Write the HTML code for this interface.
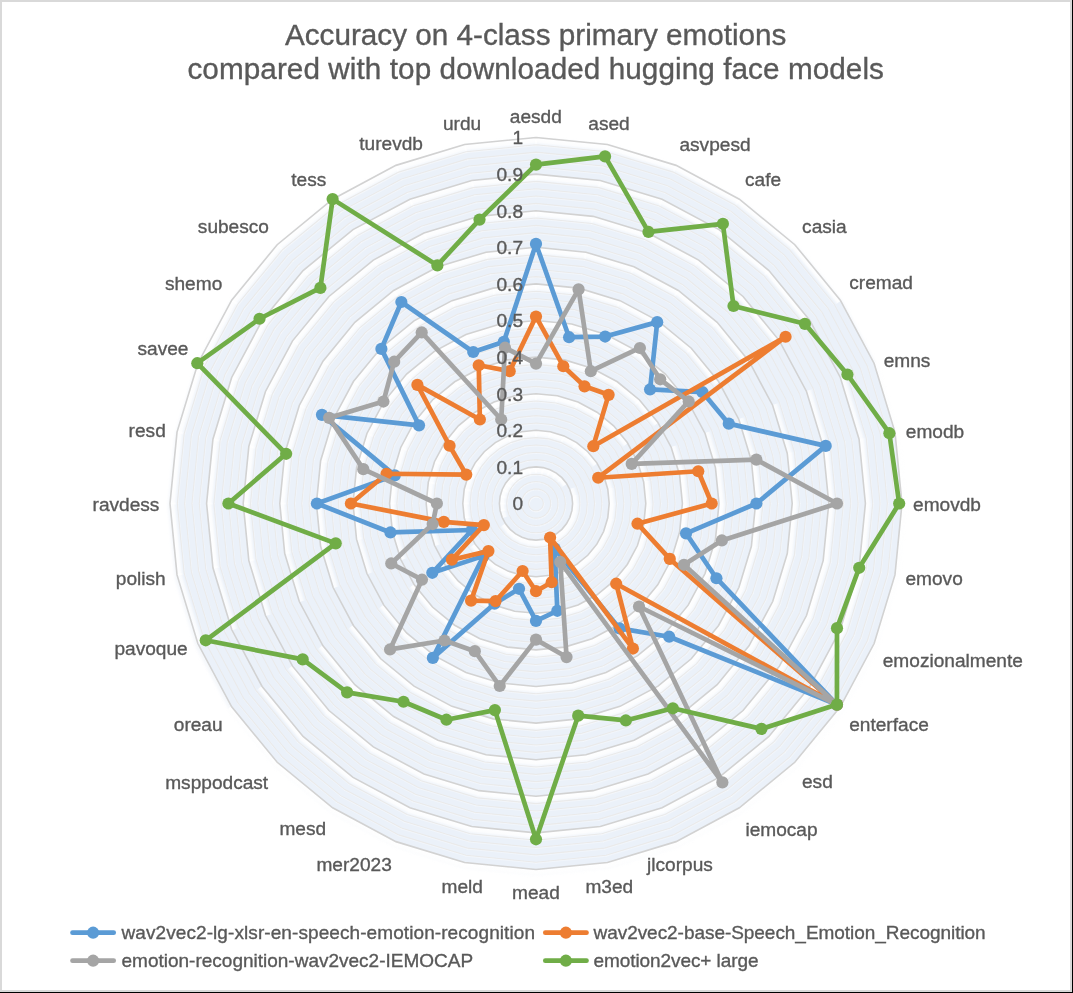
<!DOCTYPE html>
<html><head><meta charset="utf-8"><style>
html,body{margin:0;padding:0;background:#000;}
body{width:1073px;height:993px;overflow:hidden;position:relative;}
#frame{position:absolute;left:0;top:0;width:1072px;height:992px;box-sizing:border-box;border:2px solid #d9d9d9;background:#fff;}
svg{position:absolute;left:0;top:0;will-change:transform;}
text{font-family:"Liberation Sans",sans-serif;fill:#595959;stroke:#595959;stroke-width:0.35px;}
</style></head><body><div id="frame"></div>
<svg width="1073" height="993" viewBox="0 0 1073 993">
<defs>
<filter id="bl" x="-5%" y="-5%" width="110%" height="110%"><feGaussianBlur stdDeviation="1.8"/></filter>
<filter id="bm" x="-5%" y="-5%" width="110%" height="110%"><feGaussianBlur stdDeviation="0.5"/></filter>
<linearGradient id="hl" x1="0" y1="0" x2="0" y2="1"><stop offset="0" stop-color="#fff" stop-opacity="1"/><stop offset="0.5" stop-color="#fff" stop-opacity="0.85"/><stop offset="1" stop-color="#fff" stop-opacity="0"/></linearGradient>
<linearGradient id="hm" x1="0" y1="0" x2="0" y2="1"><stop offset="0" stop-color="#fff" stop-opacity="0.6"/><stop offset="1" stop-color="#fff" stop-opacity="0"/></linearGradient>
</defs>
<g transform="translate(0.5,3)" filter="url(#bl)"><polygon points="536,137.5 607.4,144.53 676.06,165.36 739.34,199.18 794.8,244.7 840.32,300.16 874.14,363.44 894.97,432.1 902,503.5 894.97,574.9 874.14,643.56 840.32,706.84 794.8,762.3 739.34,807.82 676.06,841.64 607.4,862.47 536,869.5 464.6,862.47 395.94,841.64 332.66,807.82 277.2,762.3 231.68,706.84 197.86,643.56 177.03,574.9 170,503.5 177.03,432.1 197.86,363.44 231.68,300.16 277.2,244.7 332.66,199.18 395.94,165.36 464.6,144.53" fill="none" stroke="#e6edf7" stroke-opacity="0.45" stroke-width="5"/></g>
<polygon points="536,137.5 607.4,144.53 676.06,165.36 739.34,199.18 794.8,244.7 840.32,300.16 874.14,363.44 894.97,432.1 902,503.5 894.97,574.9 874.14,643.56 840.32,706.84 794.8,762.3 739.34,807.82 676.06,841.64 607.4,862.47 536,869.5 464.6,862.47 395.94,841.64 332.66,807.82 277.2,762.3 231.68,706.84 197.86,643.56 177.03,574.9 170,503.5 177.03,432.1 197.86,363.44 231.68,300.16 277.2,244.7 332.66,199.18 395.94,165.36 464.6,144.53" fill="#ebf1f9"/>
<g fill="url(#hm)">
<rect width="2.63" height="2.05" transform="matrix(0.995 0.098 -0.098 0.995 535.4 496.12)"/>
<rect width="2.63" height="1.93" transform="matrix(0.957 0.290 -0.290 0.957 536.85 496.15)"/>
<rect width="2.63" height="1.78" transform="matrix(0.882 0.471 -0.471 0.882 538.27 496.45)"/>
<rect width="2.63" height="1.61" transform="matrix(0.773 0.634 -0.634 0.773 539.6 497.03)"/>
<rect width="2.63" height="1.42" transform="matrix(0.634 0.773 -0.773 0.634 540.8 497.86)"/>
<rect width="2.63" height="1.23" opacity="0.04" transform="matrix(0.471 0.882 -0.882 0.471 541.8 498.9)"/>
<rect width="2.63" height="1.37" opacity="0.86" transform="matrix(0.290 0.957 0.957 -0.290 542.59 500.12)"/>
<rect width="2.63" height="1.56" transform="matrix(0.098 0.995 0.995 -0.098 543.12 501.47)"/>
<rect width="2.63" height="1.73" transform="matrix(-0.098 0.995 0.995 0.098 543.38 502.9)"/>
<rect width="2.63" height="1.89" transform="matrix(-0.290 0.957 0.957 0.290 543.35 504.35)"/>
<rect width="2.63" height="2.02" transform="matrix(-0.471 0.882 0.882 0.471 543.05 505.77)"/>
<rect width="2.63" height="2.11" transform="matrix(-0.634 0.773 0.773 0.634 542.47 507.1)"/>
<rect width="2.63" height="2.18" transform="matrix(-0.773 0.634 0.634 0.773 541.64 508.3)"/>
<rect width="2.63" height="2.2" transform="matrix(-0.882 0.471 0.471 0.882 540.6 509.3)"/>
<rect width="2.63" height="2.19" transform="matrix(-0.957 0.290 0.290 0.957 539.38 510.09)"/>
<rect width="2.63" height="2.13" transform="matrix(-0.995 0.098 0.098 0.995 538.03 510.62)"/>
<rect width="2.63" height="2.05" transform="matrix(-0.995 -0.098 -0.098 0.995 536.6 510.88)"/>
<rect width="2.63" height="1.93" transform="matrix(-0.957 -0.290 -0.290 0.957 535.15 510.85)"/>
<rect width="2.63" height="1.78" transform="matrix(-0.882 -0.471 -0.471 0.882 533.73 510.55)"/>
<rect width="2.63" height="1.61" transform="matrix(-0.773 -0.634 -0.634 0.773 532.4 509.97)"/>
<rect width="2.63" height="1.42" transform="matrix(-0.634 -0.773 -0.773 0.634 531.2 509.14)"/>
<rect width="2.63" height="1.23" opacity="0.04" transform="matrix(-0.471 -0.882 -0.882 0.471 530.2 508.1)"/>
<rect width="2.63" height="1.37" opacity="0.86" transform="matrix(-0.290 -0.957 0.957 -0.290 529.41 506.88)"/>
<rect width="2.63" height="1.56" transform="matrix(-0.098 -0.995 0.995 -0.098 528.88 505.53)"/>
<rect width="2.63" height="1.73" transform="matrix(0.098 -0.995 0.995 0.098 528.62 504.1)"/>
<rect width="2.63" height="1.89" transform="matrix(0.290 -0.957 0.957 0.290 528.65 502.65)"/>
<rect width="2.63" height="2.02" transform="matrix(0.471 -0.882 0.882 0.471 528.95 501.23)"/>
<rect width="2.63" height="2.11" transform="matrix(0.634 -0.773 0.773 0.634 529.53 499.9)"/>
<rect width="2.63" height="2.18" transform="matrix(0.773 -0.634 0.634 0.773 530.36 498.7)"/>
<rect width="2.63" height="2.2" transform="matrix(0.882 -0.471 0.471 0.882 531.4 497.7)"/>
<rect width="2.63" height="2.19" transform="matrix(0.957 -0.290 0.290 0.957 532.62 496.91)"/>
<rect width="2.63" height="2.13" transform="matrix(0.995 -0.098 0.098 0.995 533.97 496.38)"/>
<rect width="4.07" height="2.05" transform="matrix(0.995 0.098 -0.098 0.995 535.4 488.8)"/>
<rect width="4.07" height="1.93" transform="matrix(0.957 0.290 -0.290 0.957 538.28 488.97)"/>
<rect width="4.07" height="1.78" transform="matrix(0.882 0.471 -0.471 0.882 541.07 489.69)"/>
<rect width="4.07" height="1.61" transform="matrix(0.773 0.634 -0.634 0.773 543.67 490.95)"/>
<rect width="4.07" height="1.42" transform="matrix(0.634 0.773 -0.773 0.634 545.97 492.68)"/>
<rect width="4.07" height="1.23" opacity="0.04" transform="matrix(0.471 0.882 -0.882 0.471 547.89 494.84)"/>
<rect width="4.07" height="1.37" opacity="0.86" transform="matrix(0.290 0.957 0.957 -0.290 549.35 497.32)"/>
<rect width="4.07" height="1.56" transform="matrix(0.098 0.995 0.995 -0.098 550.3 500.05)"/>
<rect width="4.07" height="1.73" transform="matrix(-0.098 0.995 0.995 0.098 550.7 502.9)"/>
<rect width="4.07" height="1.89" transform="matrix(-0.290 0.957 0.957 0.290 550.53 505.78)"/>
<rect width="4.07" height="2.02" transform="matrix(-0.471 0.882 0.882 0.471 549.81 508.57)"/>
<rect width="4.07" height="2.11" transform="matrix(-0.634 0.773 0.773 0.634 548.55 511.17)"/>
<rect width="4.07" height="2.18" transform="matrix(-0.773 0.634 0.634 0.773 546.82 513.47)"/>
<rect width="4.07" height="2.2" transform="matrix(-0.882 0.471 0.471 0.882 544.66 515.39)"/>
<rect width="4.07" height="2.19" transform="matrix(-0.957 0.290 0.290 0.957 542.18 516.85)"/>
<rect width="4.07" height="2.13" transform="matrix(-0.995 0.098 0.098 0.995 539.45 517.8)"/>
<rect width="4.07" height="2.05" transform="matrix(-0.995 -0.098 -0.098 0.995 536.6 518.2)"/>
<rect width="4.07" height="1.93" transform="matrix(-0.957 -0.290 -0.290 0.957 533.72 518.03)"/>
<rect width="4.07" height="1.78" transform="matrix(-0.882 -0.471 -0.471 0.882 530.93 517.31)"/>
<rect width="4.07" height="1.61" transform="matrix(-0.773 -0.634 -0.634 0.773 528.33 516.05)"/>
<rect width="4.07" height="1.42" transform="matrix(-0.634 -0.773 -0.773 0.634 526.03 514.32)"/>
<rect width="4.07" height="1.23" opacity="0.04" transform="matrix(-0.471 -0.882 -0.882 0.471 524.11 512.16)"/>
<rect width="4.07" height="1.37" opacity="0.86" transform="matrix(-0.290 -0.957 0.957 -0.290 522.65 509.68)"/>
<rect width="4.07" height="1.56" transform="matrix(-0.098 -0.995 0.995 -0.098 521.7 506.95)"/>
<rect width="4.07" height="1.73" transform="matrix(0.098 -0.995 0.995 0.098 521.3 504.1)"/>
<rect width="4.07" height="1.89" transform="matrix(0.290 -0.957 0.957 0.290 521.47 501.22)"/>
<rect width="4.07" height="2.02" transform="matrix(0.471 -0.882 0.882 0.471 522.19 498.43)"/>
<rect width="4.07" height="2.11" transform="matrix(0.634 -0.773 0.773 0.634 523.45 495.83)"/>
<rect width="4.07" height="2.18" transform="matrix(0.773 -0.634 0.634 0.773 525.18 493.53)"/>
<rect width="4.07" height="2.2" transform="matrix(0.882 -0.471 0.471 0.882 527.34 491.61)"/>
<rect width="4.07" height="2.19" transform="matrix(0.957 -0.290 0.290 0.957 529.82 490.15)"/>
<rect width="4.07" height="2.13" transform="matrix(0.995 -0.098 0.098 0.995 532.55 489.2)"/>
<rect width="5.5" height="2.05" transform="matrix(0.995 0.098 -0.098 0.995 535.4 481.48)"/>
<rect width="5.5" height="1.93" transform="matrix(0.957 0.290 -0.290 0.957 539.71 481.79)"/>
<rect width="5.5" height="1.78" transform="matrix(0.882 0.471 -0.471 0.882 543.87 482.93)"/>
<rect width="5.5" height="1.61" transform="matrix(0.773 0.634 -0.634 0.773 547.74 484.86)"/>
<rect width="5.5" height="1.42" transform="matrix(0.634 0.773 -0.773 0.634 551.15 487.51)"/>
<rect width="5.5" height="1.23" opacity="0.04" transform="matrix(0.471 0.882 -0.882 0.471 553.98 490.77)"/>
<rect width="5.5" height="1.37" opacity="0.86" transform="matrix(0.290 0.957 0.957 -0.290 556.11 494.52)"/>
<rect width="5.5" height="1.56" transform="matrix(0.098 0.995 0.995 -0.098 557.48 498.62)"/>
<rect width="5.5" height="1.73" transform="matrix(-0.098 0.995 0.995 0.098 558.02 502.9)"/>
<rect width="5.5" height="1.89" transform="matrix(-0.290 0.957 0.957 0.290 557.71 507.21)"/>
<rect width="5.5" height="2.02" transform="matrix(-0.471 0.882 0.882 0.471 556.57 511.37)"/>
<rect width="5.5" height="2.11" transform="matrix(-0.634 0.773 0.773 0.634 554.64 515.24)"/>
<rect width="5.5" height="2.18" transform="matrix(-0.773 0.634 0.634 0.773 551.99 518.65)"/>
<rect width="5.5" height="2.2" transform="matrix(-0.882 0.471 0.471 0.882 548.73 521.48)"/>
<rect width="5.5" height="2.19" transform="matrix(-0.957 0.290 0.290 0.957 544.98 523.61)"/>
<rect width="5.5" height="2.13" transform="matrix(-0.995 0.098 0.098 0.995 540.88 524.98)"/>
<rect width="5.5" height="2.05" transform="matrix(-0.995 -0.098 -0.098 0.995 536.6 525.52)"/>
<rect width="5.5" height="1.93" transform="matrix(-0.957 -0.290 -0.290 0.957 532.29 525.21)"/>
<rect width="5.5" height="1.78" transform="matrix(-0.882 -0.471 -0.471 0.882 528.13 524.07)"/>
<rect width="5.5" height="1.61" transform="matrix(-0.773 -0.634 -0.634 0.773 524.26 522.14)"/>
<rect width="5.5" height="1.42" transform="matrix(-0.634 -0.773 -0.773 0.634 520.85 519.49)"/>
<rect width="5.5" height="1.23" opacity="0.04" transform="matrix(-0.471 -0.882 -0.882 0.471 518.02 516.23)"/>
<rect width="5.5" height="1.37" opacity="0.86" transform="matrix(-0.290 -0.957 0.957 -0.290 515.89 512.48)"/>
<rect width="5.5" height="1.56" transform="matrix(-0.098 -0.995 0.995 -0.098 514.52 508.38)"/>
<rect width="5.5" height="1.73" transform="matrix(0.098 -0.995 0.995 0.098 513.98 504.1)"/>
<rect width="5.5" height="1.89" transform="matrix(0.290 -0.957 0.957 0.290 514.29 499.79)"/>
<rect width="5.5" height="2.02" transform="matrix(0.471 -0.882 0.882 0.471 515.43 495.63)"/>
<rect width="5.5" height="2.11" transform="matrix(0.634 -0.773 0.773 0.634 517.36 491.76)"/>
<rect width="5.5" height="2.18" transform="matrix(0.773 -0.634 0.634 0.773 520.01 488.35)"/>
<rect width="5.5" height="2.2" transform="matrix(0.882 -0.471 0.471 0.882 523.27 485.52)"/>
<rect width="5.5" height="2.19" transform="matrix(0.957 -0.290 0.290 0.957 527.02 483.39)"/>
<rect width="5.5" height="2.13" transform="matrix(0.995 -0.098 0.098 0.995 531.12 482.02)"/>
<rect width="6.94" height="2.05" transform="matrix(0.995 0.098 -0.098 0.995 535.4 474.16)"/>
<rect width="6.94" height="1.93" transform="matrix(0.957 0.290 -0.290 0.957 541.14 474.61)"/>
<rect width="6.94" height="1.78" transform="matrix(0.882 0.471 -0.471 0.882 546.68 476.17)"/>
<rect width="6.94" height="1.61" transform="matrix(0.773 0.634 -0.634 0.773 551.8 478.77)"/>
<rect width="6.94" height="1.42" transform="matrix(0.634 0.773 -0.773 0.634 556.32 482.33)"/>
<rect width="6.94" height="1.23" opacity="0.04" transform="matrix(0.471 0.882 -0.882 0.471 560.06 486.7)"/>
<rect width="6.94" height="1.37" opacity="0.86" transform="matrix(0.290 0.957 0.957 -0.290 562.88 491.72)"/>
<rect width="6.94" height="1.56" transform="matrix(0.098 0.995 0.995 -0.098 564.66 497.19)"/>
<rect width="6.94" height="1.73" transform="matrix(-0.098 0.995 0.995 0.098 565.34 502.9)"/>
<rect width="6.94" height="1.89" transform="matrix(-0.290 0.957 0.957 0.290 564.89 508.64)"/>
<rect width="6.94" height="2.02" transform="matrix(-0.471 0.882 0.882 0.471 563.33 514.18)"/>
<rect width="6.94" height="2.11" transform="matrix(-0.634 0.773 0.773 0.634 560.73 519.3)"/>
<rect width="6.94" height="2.18" transform="matrix(-0.773 0.634 0.634 0.773 557.17 523.82)"/>
<rect width="6.94" height="2.2" transform="matrix(-0.882 0.471 0.471 0.882 552.8 527.56)"/>
<rect width="6.94" height="2.19" transform="matrix(-0.957 0.290 0.290 0.957 547.78 530.38)"/>
<rect width="6.94" height="2.13" transform="matrix(-0.995 0.098 0.098 0.995 542.31 532.16)"/>
<rect width="6.94" height="2.05" transform="matrix(-0.995 -0.098 -0.098 0.995 536.6 532.84)"/>
<rect width="6.94" height="1.93" transform="matrix(-0.957 -0.290 -0.290 0.957 530.86 532.39)"/>
<rect width="6.94" height="1.78" transform="matrix(-0.882 -0.471 -0.471 0.882 525.32 530.83)"/>
<rect width="6.94" height="1.61" transform="matrix(-0.773 -0.634 -0.634 0.773 520.2 528.23)"/>
<rect width="6.94" height="1.42" transform="matrix(-0.634 -0.773 -0.773 0.634 515.68 524.67)"/>
<rect width="6.94" height="1.23" opacity="0.04" transform="matrix(-0.471 -0.882 -0.882 0.471 511.94 520.3)"/>
<rect width="6.94" height="1.37" opacity="0.86" transform="matrix(-0.290 -0.957 0.957 -0.290 509.12 515.28)"/>
<rect width="6.94" height="1.56" transform="matrix(-0.098 -0.995 0.995 -0.098 507.34 509.81)"/>
<rect width="6.94" height="1.73" transform="matrix(0.098 -0.995 0.995 0.098 506.66 504.1)"/>
<rect width="6.94" height="1.89" transform="matrix(0.290 -0.957 0.957 0.290 507.11 498.36)"/>
<rect width="6.94" height="2.02" transform="matrix(0.471 -0.882 0.882 0.471 508.67 492.82)"/>
<rect width="6.94" height="2.11" transform="matrix(0.634 -0.773 0.773 0.634 511.27 487.7)"/>
<rect width="6.94" height="2.18" transform="matrix(0.773 -0.634 0.634 0.773 514.83 483.18)"/>
<rect width="6.94" height="2.2" transform="matrix(0.882 -0.471 0.471 0.882 519.2 479.44)"/>
<rect width="6.94" height="2.19" transform="matrix(0.957 -0.290 0.290 0.957 524.22 476.62)"/>
<rect width="6.94" height="2.13" transform="matrix(0.995 -0.098 0.098 0.995 529.69 474.84)"/>
<rect width="9.81" height="2.05" transform="matrix(0.995 0.098 -0.098 0.995 535.4 459.52)"/>
<rect width="9.81" height="1.93" transform="matrix(0.957 0.290 -0.290 0.957 543.99 460.25)"/>
<rect width="9.81" height="1.78" transform="matrix(0.882 0.471 -0.471 0.882 552.28 462.64)"/>
<rect width="9.81" height="1.61" transform="matrix(0.773 0.634 -0.634 0.773 559.94 466.6)"/>
<rect width="9.81" height="1.42" transform="matrix(0.634 0.773 -0.773 0.634 566.68 471.98)"/>
<rect width="9.81" height="1.23" opacity="0.04" transform="matrix(0.471 0.882 -0.882 0.471 572.24 478.57)"/>
<rect width="9.81" height="1.37" opacity="0.86" transform="matrix(0.290 0.957 0.957 -0.290 576.4 486.12)"/>
<rect width="9.81" height="1.56" transform="matrix(0.098 0.995 0.995 -0.098 579.02 494.33)"/>
<rect width="9.81" height="1.73" transform="matrix(-0.098 0.995 0.995 0.098 579.98 502.9)"/>
<rect width="9.81" height="1.89" transform="matrix(-0.290 0.957 0.957 0.290 579.25 511.49)"/>
<rect width="9.81" height="2.02" transform="matrix(-0.471 0.882 0.882 0.471 576.86 519.78)"/>
<rect width="9.81" height="2.11" transform="matrix(-0.634 0.773 0.773 0.634 572.9 527.44)"/>
<rect width="9.81" height="2.18" transform="matrix(-0.773 0.634 0.634 0.773 567.52 534.18)"/>
<rect width="9.81" height="2.2" transform="matrix(-0.882 0.471 0.471 0.882 560.93 539.74)"/>
<rect width="9.81" height="2.19" transform="matrix(-0.957 0.290 0.290 0.957 553.38 543.9)"/>
<rect width="9.81" height="2.13" transform="matrix(-0.995 0.098 0.098 0.995 545.17 546.52)"/>
<rect width="9.81" height="2.05" transform="matrix(-0.995 -0.098 -0.098 0.995 536.6 547.48)"/>
<rect width="9.81" height="1.93" transform="matrix(-0.957 -0.290 -0.290 0.957 528.01 546.75)"/>
<rect width="9.81" height="1.78" transform="matrix(-0.882 -0.471 -0.471 0.882 519.72 544.36)"/>
<rect width="9.81" height="1.61" transform="matrix(-0.773 -0.634 -0.634 0.773 512.06 540.4)"/>
<rect width="9.81" height="1.42" transform="matrix(-0.634 -0.773 -0.773 0.634 505.32 535.02)"/>
<rect width="9.81" height="1.23" opacity="0.04" transform="matrix(-0.471 -0.882 -0.882 0.471 499.76 528.43)"/>
<rect width="9.81" height="1.37" opacity="0.86" transform="matrix(-0.290 -0.957 0.957 -0.290 495.6 520.88)"/>
<rect width="9.81" height="1.56" transform="matrix(-0.098 -0.995 0.995 -0.098 492.98 512.67)"/>
<rect width="9.81" height="1.73" transform="matrix(0.098 -0.995 0.995 0.098 492.02 504.1)"/>
<rect width="9.81" height="1.89" transform="matrix(0.290 -0.957 0.957 0.290 492.75 495.51)"/>
<rect width="9.81" height="2.02" transform="matrix(0.471 -0.882 0.882 0.471 495.14 487.22)"/>
<rect width="9.81" height="2.11" transform="matrix(0.634 -0.773 0.773 0.634 499.1 479.56)"/>
<rect width="9.81" height="2.18" transform="matrix(0.773 -0.634 0.634 0.773 504.48 472.82)"/>
<rect width="9.81" height="2.2" transform="matrix(0.882 -0.471 0.471 0.882 511.07 467.26)"/>
<rect width="9.81" height="2.19" transform="matrix(0.957 -0.290 0.290 0.957 518.62 463.1)"/>
<rect width="9.81" height="2.13" transform="matrix(0.995 -0.098 0.098 0.995 526.83 460.48)"/>
<rect width="11.24" height="2.05" transform="matrix(0.995 0.098 -0.098 0.995 535.4 452.2)"/>
<rect width="11.24" height="1.93" transform="matrix(0.957 0.290 -0.290 0.957 545.42 453.07)"/>
<rect width="11.24" height="1.78" transform="matrix(0.882 0.471 -0.471 0.882 555.08 455.88)"/>
<rect width="11.24" height="1.61" transform="matrix(0.773 0.634 -0.634 0.773 564 460.51)"/>
<rect width="11.24" height="1.42" transform="matrix(0.634 0.773 -0.773 0.634 571.85 466.8)"/>
<rect width="11.24" height="1.23" opacity="0.04" transform="matrix(0.471 0.882 -0.882 0.471 578.32 474.5)"/>
<rect width="11.24" height="1.37" opacity="0.86" transform="matrix(0.290 0.957 0.957 -0.290 583.17 483.32)"/>
<rect width="11.24" height="1.56" transform="matrix(0.098 0.995 0.995 -0.098 586.2 492.91)"/>
<rect width="11.24" height="1.73" transform="matrix(-0.098 0.995 0.995 0.098 587.3 502.9)"/>
<rect width="11.24" height="1.89" transform="matrix(-0.290 0.957 0.957 0.290 586.43 512.92)"/>
<rect width="11.24" height="2.02" transform="matrix(-0.471 0.882 0.882 0.471 583.62 522.58)"/>
<rect width="11.24" height="2.11" transform="matrix(-0.634 0.773 0.773 0.634 578.99 531.5)"/>
<rect width="11.24" height="2.18" transform="matrix(-0.773 0.634 0.634 0.773 572.7 539.35)"/>
<rect width="11.24" height="2.2" transform="matrix(-0.882 0.471 0.471 0.882 565 545.82)"/>
<rect width="11.24" height="2.19" transform="matrix(-0.957 0.290 0.290 0.957 556.18 550.67)"/>
<rect width="11.24" height="2.13" transform="matrix(-0.995 0.098 0.098 0.995 546.59 553.7)"/>
<rect width="11.24" height="2.05" transform="matrix(-0.995 -0.098 -0.098 0.995 536.6 554.8)"/>
<rect width="11.24" height="1.93" transform="matrix(-0.957 -0.290 -0.290 0.957 526.58 553.93)"/>
<rect width="11.24" height="1.78" transform="matrix(-0.882 -0.471 -0.471 0.882 516.92 551.12)"/>
<rect width="11.24" height="1.61" transform="matrix(-0.773 -0.634 -0.634 0.773 508 546.49)"/>
<rect width="11.24" height="1.42" transform="matrix(-0.634 -0.773 -0.773 0.634 500.15 540.2)"/>
<rect width="11.24" height="1.23" opacity="0.04" transform="matrix(-0.471 -0.882 -0.882 0.471 493.68 532.5)"/>
<rect width="11.24" height="1.37" opacity="0.86" transform="matrix(-0.290 -0.957 0.957 -0.290 488.83 523.68)"/>
<rect width="11.24" height="1.56" transform="matrix(-0.098 -0.995 0.995 -0.098 485.8 514.09)"/>
<rect width="11.24" height="1.73" transform="matrix(0.098 -0.995 0.995 0.098 484.7 504.1)"/>
<rect width="11.24" height="1.89" transform="matrix(0.290 -0.957 0.957 0.290 485.57 494.08)"/>
<rect width="11.24" height="2.02" transform="matrix(0.471 -0.882 0.882 0.471 488.38 484.42)"/>
<rect width="11.24" height="2.11" transform="matrix(0.634 -0.773 0.773 0.634 493.01 475.5)"/>
<rect width="11.24" height="2.18" transform="matrix(0.773 -0.634 0.634 0.773 499.3 467.65)"/>
<rect width="11.24" height="2.2" transform="matrix(0.882 -0.471 0.471 0.882 507 461.18)"/>
<rect width="11.24" height="2.19" transform="matrix(0.957 -0.290 0.290 0.957 515.82 456.33)"/>
<rect width="11.24" height="2.13" transform="matrix(0.995 -0.098 0.098 0.995 525.41 453.3)"/>
<rect width="12.68" height="2.05" transform="matrix(0.995 0.098 -0.098 0.995 535.4 444.88)"/>
<rect width="12.68" height="1.93" transform="matrix(0.957 0.290 -0.290 0.957 546.85 445.89)"/>
<rect width="12.68" height="1.78" transform="matrix(0.882 0.471 -0.471 0.882 557.88 449.11)"/>
<rect width="12.68" height="1.61" transform="matrix(0.773 0.634 -0.634 0.773 568.07 454.43)"/>
<rect width="12.68" height="1.42" transform="matrix(0.634 0.773 -0.773 0.634 577.03 461.63)"/>
<rect width="12.68" height="1.23" opacity="0.04" transform="matrix(0.471 0.882 -0.882 0.471 584.41 470.44)"/>
<rect width="12.68" height="1.37" opacity="0.86" transform="matrix(0.290 0.957 0.957 -0.290 589.93 480.52)"/>
<rect width="12.68" height="1.56" transform="matrix(0.098 0.995 0.995 -0.098 593.38 491.48)"/>
<rect width="12.68" height="1.73" transform="matrix(-0.098 0.995 0.995 0.098 594.62 502.9)"/>
<rect width="12.68" height="1.89" transform="matrix(-0.290 0.957 0.957 0.290 593.61 514.35)"/>
<rect width="12.68" height="2.02" transform="matrix(-0.471 0.882 0.882 0.471 590.39 525.38)"/>
<rect width="12.68" height="2.11" transform="matrix(-0.634 0.773 0.773 0.634 585.07 535.57)"/>
<rect width="12.68" height="2.18" transform="matrix(-0.773 0.634 0.634 0.773 577.87 544.53)"/>
<rect width="12.68" height="2.2" transform="matrix(-0.882 0.471 0.471 0.882 569.06 551.91)"/>
<rect width="12.68" height="2.19" transform="matrix(-0.957 0.290 0.290 0.957 558.98 557.43)"/>
<rect width="12.68" height="2.13" transform="matrix(-0.995 0.098 0.098 0.995 548.02 560.88)"/>
<rect width="12.68" height="2.05" transform="matrix(-0.995 -0.098 -0.098 0.995 536.6 562.12)"/>
<rect width="12.68" height="1.93" transform="matrix(-0.957 -0.290 -0.290 0.957 525.15 561.11)"/>
<rect width="12.68" height="1.78" transform="matrix(-0.882 -0.471 -0.471 0.882 514.12 557.89)"/>
<rect width="12.68" height="1.61" transform="matrix(-0.773 -0.634 -0.634 0.773 503.93 552.57)"/>
<rect width="12.68" height="1.42" transform="matrix(-0.634 -0.773 -0.773 0.634 494.97 545.37)"/>
<rect width="12.68" height="1.23" opacity="0.04" transform="matrix(-0.471 -0.882 -0.882 0.471 487.59 536.56)"/>
<rect width="12.68" height="1.37" opacity="0.86" transform="matrix(-0.290 -0.957 0.957 -0.290 482.07 526.48)"/>
<rect width="12.68" height="1.56" transform="matrix(-0.098 -0.995 0.995 -0.098 478.62 515.52)"/>
<rect width="12.68" height="1.73" transform="matrix(0.098 -0.995 0.995 0.098 477.38 504.1)"/>
<rect width="12.68" height="1.89" transform="matrix(0.290 -0.957 0.957 0.290 478.39 492.65)"/>
<rect width="12.68" height="2.02" transform="matrix(0.471 -0.882 0.882 0.471 481.61 481.62)"/>
<rect width="12.68" height="2.11" transform="matrix(0.634 -0.773 0.773 0.634 486.93 471.43)"/>
<rect width="12.68" height="2.18" transform="matrix(0.773 -0.634 0.634 0.773 494.13 462.47)"/>
<rect width="12.68" height="2.2" transform="matrix(0.882 -0.471 0.471 0.882 502.94 455.09)"/>
<rect width="12.68" height="2.19" transform="matrix(0.957 -0.290 0.290 0.957 513.02 449.57)"/>
<rect width="12.68" height="2.13" transform="matrix(0.995 -0.098 0.098 0.995 523.98 446.12)"/>
<rect width="14.11" height="2.05" transform="matrix(0.995 0.098 -0.098 0.995 535.4 437.56)"/>
<rect width="14.11" height="1.93" transform="matrix(0.957 0.290 -0.290 0.957 548.28 438.71)"/>
<rect width="14.11" height="1.78" transform="matrix(0.882 0.471 -0.471 0.882 560.68 442.35)"/>
<rect width="14.11" height="1.61" transform="matrix(0.773 0.634 -0.634 0.773 572.14 448.34)"/>
<rect width="14.11" height="1.42" transform="matrix(0.634 0.773 -0.773 0.634 582.2 456.45)"/>
<rect width="14.11" height="1.23" opacity="0.04" transform="matrix(0.471 0.882 -0.882 0.471 590.49 466.37)"/>
<rect width="14.11" height="1.37" opacity="0.86" transform="matrix(0.290 0.957 0.957 -0.290 596.69 477.71)"/>
<rect width="14.11" height="1.56" transform="matrix(0.098 0.995 0.995 -0.098 600.56 490.05)"/>
<rect width="14.11" height="1.73" transform="matrix(-0.098 0.995 0.995 0.098 601.94 502.9)"/>
<rect width="14.11" height="1.89" transform="matrix(-0.290 0.957 0.957 0.290 600.79 515.78)"/>
<rect width="14.11" height="2.02" transform="matrix(-0.471 0.882 0.882 0.471 597.15 528.18)"/>
<rect width="14.11" height="2.11" transform="matrix(-0.634 0.773 0.773 0.634 591.16 539.64)"/>
<rect width="14.11" height="2.18" transform="matrix(-0.773 0.634 0.634 0.773 583.05 549.7)"/>
<rect width="14.11" height="2.2" transform="matrix(-0.882 0.471 0.471 0.882 573.13 557.99)"/>
<rect width="14.11" height="2.19" transform="matrix(-0.957 0.290 0.290 0.957 561.79 564.19)"/>
<rect width="14.11" height="2.13" transform="matrix(-0.995 0.098 0.098 0.995 549.45 568.06)"/>
<rect width="14.11" height="2.05" transform="matrix(-0.995 -0.098 -0.098 0.995 536.6 569.44)"/>
<rect width="14.11" height="1.93" transform="matrix(-0.957 -0.290 -0.290 0.957 523.72 568.29)"/>
<rect width="14.11" height="1.78" transform="matrix(-0.882 -0.471 -0.471 0.882 511.32 564.65)"/>
<rect width="14.11" height="1.61" transform="matrix(-0.773 -0.634 -0.634 0.773 499.86 558.66)"/>
<rect width="14.11" height="1.42" transform="matrix(-0.634 -0.773 -0.773 0.634 489.8 550.55)"/>
<rect width="14.11" height="1.23" opacity="0.04" transform="matrix(-0.471 -0.882 -0.882 0.471 481.51 540.63)"/>
<rect width="14.11" height="1.37" opacity="0.86" transform="matrix(-0.290 -0.957 0.957 -0.290 475.31 529.29)"/>
<rect width="14.11" height="1.56" transform="matrix(-0.098 -0.995 0.995 -0.098 471.44 516.95)"/>
<rect width="14.11" height="1.73" transform="matrix(0.098 -0.995 0.995 0.098 470.06 504.1)"/>
<rect width="14.11" height="1.89" transform="matrix(0.290 -0.957 0.957 0.290 471.21 491.22)"/>
<rect width="14.11" height="2.02" transform="matrix(0.471 -0.882 0.882 0.471 474.85 478.82)"/>
<rect width="14.11" height="2.11" transform="matrix(0.634 -0.773 0.773 0.634 480.84 467.36)"/>
<rect width="14.11" height="2.18" transform="matrix(0.773 -0.634 0.634 0.773 488.95 457.3)"/>
<rect width="14.11" height="2.2" transform="matrix(0.882 -0.471 0.471 0.882 498.87 449.01)"/>
<rect width="14.11" height="2.19" transform="matrix(0.957 -0.290 0.290 0.957 510.21 442.81)"/>
<rect width="14.11" height="2.13" transform="matrix(0.995 -0.098 0.098 0.995 522.55 438.94)"/>
<rect width="16.98" height="2.05" transform="matrix(0.995 0.098 -0.098 0.995 535.4 422.92)"/>
<rect width="16.98" height="1.93" transform="matrix(0.957 0.290 -0.290 0.957 551.13 424.35)"/>
<rect width="16.98" height="1.78" transform="matrix(0.882 0.471 -0.471 0.882 566.28 428.83)"/>
<rect width="16.98" height="1.61" transform="matrix(0.773 0.634 -0.634 0.773 580.27 436.17)"/>
<rect width="16.98" height="1.42" transform="matrix(0.634 0.773 -0.773 0.634 592.56 446.1)"/>
<rect width="16.98" height="1.23" opacity="0.04" transform="matrix(0.471 0.882 -0.882 0.471 602.67 458.24)"/>
<rect width="16.98" height="1.37" opacity="0.86" transform="matrix(0.290 0.957 0.957 -0.290 610.22 472.11)"/>
<rect width="16.98" height="1.56" transform="matrix(0.098 0.995 0.995 -0.098 614.91 487.19)"/>
<rect width="16.98" height="1.73" transform="matrix(-0.098 0.995 0.995 0.098 616.58 502.9)"/>
<rect width="16.98" height="1.89" transform="matrix(-0.290 0.957 0.957 0.290 615.15 518.63)"/>
<rect width="16.98" height="2.02" transform="matrix(-0.471 0.882 0.882 0.471 610.67 533.78)"/>
<rect width="16.98" height="2.11" transform="matrix(-0.634 0.773 0.773 0.634 603.33 547.77)"/>
<rect width="16.98" height="2.18" transform="matrix(-0.773 0.634 0.634 0.773 593.4 560.06)"/>
<rect width="16.98" height="2.2" transform="matrix(-0.882 0.471 0.471 0.882 581.26 570.17)"/>
<rect width="16.98" height="2.19" transform="matrix(-0.957 0.290 0.290 0.957 567.39 577.72)"/>
<rect width="16.98" height="2.13" transform="matrix(-0.995 0.098 0.098 0.995 552.31 582.41)"/>
<rect width="16.98" height="2.05" transform="matrix(-0.995 -0.098 -0.098 0.995 536.6 584.08)"/>
<rect width="16.98" height="1.93" transform="matrix(-0.957 -0.290 -0.290 0.957 520.87 582.65)"/>
<rect width="16.98" height="1.78" transform="matrix(-0.882 -0.471 -0.471 0.882 505.72 578.17)"/>
<rect width="16.98" height="1.61" transform="matrix(-0.773 -0.634 -0.634 0.773 491.73 570.83)"/>
<rect width="16.98" height="1.42" transform="matrix(-0.634 -0.773 -0.773 0.634 479.44 560.9)"/>
<rect width="16.98" height="1.23" opacity="0.04" transform="matrix(-0.471 -0.882 -0.882 0.471 469.33 548.76)"/>
<rect width="16.98" height="1.37" opacity="0.86" transform="matrix(-0.290 -0.957 0.957 -0.290 461.78 534.89)"/>
<rect width="16.98" height="1.56" transform="matrix(-0.098 -0.995 0.995 -0.098 457.09 519.81)"/>
<rect width="16.98" height="1.73" transform="matrix(0.098 -0.995 0.995 0.098 455.42 504.1)"/>
<rect width="16.98" height="1.89" transform="matrix(0.290 -0.957 0.957 0.290 456.85 488.37)"/>
<rect width="16.98" height="2.02" transform="matrix(0.471 -0.882 0.882 0.471 461.33 473.22)"/>
<rect width="16.98" height="2.11" transform="matrix(0.634 -0.773 0.773 0.634 468.67 459.23)"/>
<rect width="16.98" height="2.18" transform="matrix(0.773 -0.634 0.634 0.773 478.6 446.94)"/>
<rect width="16.98" height="2.2" transform="matrix(0.882 -0.471 0.471 0.882 490.74 436.83)"/>
<rect width="16.98" height="2.19" transform="matrix(0.957 -0.290 0.290 0.957 504.61 429.28)"/>
<rect width="16.98" height="2.13" transform="matrix(0.995 -0.098 0.098 0.995 519.69 424.59)"/>
<rect width="18.42" height="2.05" transform="matrix(0.995 0.098 -0.098 0.995 535.4 415.6)"/>
<rect width="18.42" height="1.93" transform="matrix(0.957 0.290 -0.290 0.957 552.56 417.17)"/>
<rect width="18.42" height="1.78" transform="matrix(0.882 0.471 -0.471 0.882 569.09 422.06)"/>
<rect width="18.42" height="1.61" transform="matrix(0.773 0.634 -0.634 0.773 584.34 430.08)"/>
<rect width="18.42" height="1.42" transform="matrix(0.634 0.773 -0.773 0.634 597.73 440.92)"/>
<rect width="18.42" height="1.23" opacity="0.04" transform="matrix(0.471 0.882 -0.882 0.471 608.75 454.17)"/>
<rect width="18.42" height="1.37" opacity="0.86" transform="matrix(0.290 0.957 0.957 -0.290 616.98 469.31)"/>
<rect width="18.42" height="1.56" transform="matrix(0.098 0.995 0.995 -0.098 622.09 485.77)"/>
<rect width="18.42" height="1.73" transform="matrix(-0.098 0.995 0.995 0.098 623.9 502.9)"/>
<rect width="18.42" height="1.89" transform="matrix(-0.290 0.957 0.957 0.290 622.33 520.06)"/>
<rect width="18.42" height="2.02" transform="matrix(-0.471 0.882 0.882 0.471 617.44 536.59)"/>
<rect width="18.42" height="2.11" transform="matrix(-0.634 0.773 0.773 0.634 609.42 551.84)"/>
<rect width="18.42" height="2.18" transform="matrix(-0.773 0.634 0.634 0.773 598.58 565.23)"/>
<rect width="18.42" height="2.2" transform="matrix(-0.882 0.471 0.471 0.882 585.33 576.25)"/>
<rect width="18.42" height="2.19" transform="matrix(-0.957 0.290 0.290 0.957 570.19 584.48)"/>
<rect width="18.42" height="2.13" transform="matrix(-0.995 0.098 0.098 0.995 553.73 589.59)"/>
<rect width="18.42" height="2.05" transform="matrix(-0.995 -0.098 -0.098 0.995 536.6 591.4)"/>
<rect width="18.42" height="1.93" transform="matrix(-0.957 -0.290 -0.290 0.957 519.44 589.83)"/>
<rect width="18.42" height="1.78" transform="matrix(-0.882 -0.471 -0.471 0.882 502.91 584.94)"/>
<rect width="18.42" height="1.61" transform="matrix(-0.773 -0.634 -0.634 0.773 487.66 576.92)"/>
<rect width="18.42" height="1.42" transform="matrix(-0.634 -0.773 -0.773 0.634 474.27 566.08)"/>
<rect width="18.42" height="1.23" opacity="0.04" transform="matrix(-0.471 -0.882 -0.882 0.471 463.25 552.83)"/>
<rect width="18.42" height="1.37" opacity="0.86" transform="matrix(-0.290 -0.957 0.957 -0.290 455.02 537.69)"/>
<rect width="18.42" height="1.56" transform="matrix(-0.098 -0.995 0.995 -0.098 449.91 521.23)"/>
<rect width="18.42" height="1.73" transform="matrix(0.098 -0.995 0.995 0.098 448.1 504.1)"/>
<rect width="18.42" height="1.89" transform="matrix(0.290 -0.957 0.957 0.290 449.67 486.94)"/>
<rect width="18.42" height="2.02" transform="matrix(0.471 -0.882 0.882 0.471 454.56 470.41)"/>
<rect width="18.42" height="2.11" transform="matrix(0.634 -0.773 0.773 0.634 462.58 455.16)"/>
<rect width="18.42" height="2.18" transform="matrix(0.773 -0.634 0.634 0.773 473.42 441.77)"/>
<rect width="18.42" height="2.2" transform="matrix(0.882 -0.471 0.471 0.882 486.67 430.75)"/>
<rect width="18.42" height="2.19" transform="matrix(0.957 -0.290 0.290 0.957 501.81 422.52)"/>
<rect width="18.42" height="2.13" transform="matrix(0.995 -0.098 0.098 0.995 518.27 417.41)"/>
<rect width="19.85" height="2.05" transform="matrix(0.995 0.098 -0.098 0.995 535.4 408.28)"/>
<rect width="19.85" height="1.93" transform="matrix(0.957 0.290 -0.290 0.957 553.99 409.99)"/>
<rect width="19.85" height="1.78" transform="matrix(0.882 0.471 -0.471 0.882 571.89 415.3)"/>
<rect width="19.85" height="1.61" transform="matrix(0.773 0.634 -0.634 0.773 588.4 424)"/>
<rect width="19.85" height="1.42" transform="matrix(0.634 0.773 -0.773 0.634 602.91 435.75)"/>
<rect width="19.85" height="1.23" opacity="0.04" transform="matrix(0.471 0.882 -0.882 0.471 614.84 450.1)"/>
<rect width="19.85" height="1.37" opacity="0.86" transform="matrix(0.290 0.957 0.957 -0.290 623.74 466.51)"/>
<rect width="19.85" height="1.56" transform="matrix(0.098 0.995 0.995 -0.098 629.27 484.34)"/>
<rect width="19.85" height="1.73" transform="matrix(-0.098 0.995 0.995 0.098 631.22 502.9)"/>
<rect width="19.85" height="1.89" transform="matrix(-0.290 0.957 0.957 0.290 629.51 521.49)"/>
<rect width="19.85" height="2.02" transform="matrix(-0.471 0.882 0.882 0.471 624.2 539.39)"/>
<rect width="19.85" height="2.11" transform="matrix(-0.634 0.773 0.773 0.634 615.5 555.9)"/>
<rect width="19.85" height="2.18" transform="matrix(-0.773 0.634 0.634 0.773 603.75 570.41)"/>
<rect width="19.85" height="2.2" transform="matrix(-0.882 0.471 0.471 0.882 589.4 582.34)"/>
<rect width="19.85" height="2.19" transform="matrix(-0.957 0.290 0.290 0.957 572.99 591.24)"/>
<rect width="19.85" height="2.13" transform="matrix(-0.995 0.098 0.098 0.995 555.16 596.77)"/>
<rect width="19.85" height="2.05" transform="matrix(-0.995 -0.098 -0.098 0.995 536.6 598.72)"/>
<rect width="19.85" height="1.93" transform="matrix(-0.957 -0.290 -0.290 0.957 518.01 597.01)"/>
<rect width="19.85" height="1.78" transform="matrix(-0.882 -0.471 -0.471 0.882 500.11 591.7)"/>
<rect width="19.85" height="1.61" transform="matrix(-0.773 -0.634 -0.634 0.773 483.6 583)"/>
<rect width="19.85" height="1.42" transform="matrix(-0.634 -0.773 -0.773 0.634 469.09 571.25)"/>
<rect width="19.85" height="1.23" opacity="0.04" transform="matrix(-0.471 -0.882 -0.882 0.471 457.16 556.9)"/>
<rect width="19.85" height="1.37" opacity="0.86" transform="matrix(-0.290 -0.957 0.957 -0.290 448.26 540.49)"/>
<rect width="19.85" height="1.56" transform="matrix(-0.098 -0.995 0.995 -0.098 442.73 522.66)"/>
<rect width="19.85" height="1.73" transform="matrix(0.098 -0.995 0.995 0.098 440.78 504.1)"/>
<rect width="19.85" height="1.89" transform="matrix(0.290 -0.957 0.957 0.290 442.49 485.51)"/>
<rect width="19.85" height="2.02" transform="matrix(0.471 -0.882 0.882 0.471 447.8 467.61)"/>
<rect width="19.85" height="2.11" transform="matrix(0.634 -0.773 0.773 0.634 456.5 451.1)"/>
<rect width="19.85" height="2.18" transform="matrix(0.773 -0.634 0.634 0.773 468.25 436.59)"/>
<rect width="19.85" height="2.2" transform="matrix(0.882 -0.471 0.471 0.882 482.6 424.66)"/>
<rect width="19.85" height="2.19" transform="matrix(0.957 -0.290 0.290 0.957 499.01 415.76)"/>
<rect width="19.85" height="2.13" transform="matrix(0.995 -0.098 0.098 0.995 516.84 410.23)"/>
<rect width="21.29" height="2.05" transform="matrix(0.995 0.098 -0.098 0.995 535.4 400.96)"/>
<rect width="21.29" height="1.93" transform="matrix(0.957 0.290 -0.290 0.957 555.42 402.81)"/>
<rect width="21.29" height="1.78" transform="matrix(0.882 0.471 -0.471 0.882 574.69 408.54)"/>
<rect width="21.29" height="1.61" transform="matrix(0.773 0.634 -0.634 0.773 592.47 417.91)"/>
<rect width="21.29" height="1.42" transform="matrix(0.634 0.773 -0.773 0.634 608.08 430.57)"/>
<rect width="21.29" height="1.23" opacity="0.04" transform="matrix(0.471 0.882 -0.882 0.471 620.93 446.04)"/>
<rect width="21.29" height="1.37" opacity="0.86" transform="matrix(0.290 0.957 0.957 -0.290 630.51 463.71)"/>
<rect width="21.29" height="1.56" transform="matrix(0.098 0.995 0.995 -0.098 636.45 482.91)"/>
<rect width="21.29" height="1.73" transform="matrix(-0.098 0.995 0.995 0.098 638.54 502.9)"/>
<rect width="21.29" height="1.89" transform="matrix(-0.290 0.957 0.957 0.290 636.69 522.92)"/>
<rect width="21.29" height="2.02" transform="matrix(-0.471 0.882 0.882 0.471 630.96 542.19)"/>
<rect width="21.29" height="2.11" transform="matrix(-0.634 0.773 0.773 0.634 621.59 559.97)"/>
<rect width="21.29" height="2.18" transform="matrix(-0.773 0.634 0.634 0.773 608.93 575.58)"/>
<rect width="21.29" height="2.2" transform="matrix(-0.882 0.471 0.471 0.882 593.46 588.43)"/>
<rect width="21.29" height="2.19" transform="matrix(-0.957 0.290 0.290 0.957 575.79 598.01)"/>
<rect width="21.29" height="2.13" transform="matrix(-0.995 0.098 0.098 0.995 556.59 603.95)"/>
<rect width="21.29" height="2.05" transform="matrix(-0.995 -0.098 -0.098 0.995 536.6 606.04)"/>
<rect width="21.29" height="1.93" transform="matrix(-0.957 -0.290 -0.290 0.957 516.58 604.19)"/>
<rect width="21.29" height="1.78" transform="matrix(-0.882 -0.471 -0.471 0.882 497.31 598.46)"/>
<rect width="21.29" height="1.61" transform="matrix(-0.773 -0.634 -0.634 0.773 479.53 589.09)"/>
<rect width="21.29" height="1.42" transform="matrix(-0.634 -0.773 -0.773 0.634 463.92 576.43)"/>
<rect width="21.29" height="1.23" opacity="0.04" transform="matrix(-0.471 -0.882 -0.882 0.471 451.07 560.96)"/>
<rect width="21.29" height="1.37" opacity="0.86" transform="matrix(-0.290 -0.957 0.957 -0.290 441.49 543.29)"/>
<rect width="21.29" height="1.56" transform="matrix(-0.098 -0.995 0.995 -0.098 435.55 524.09)"/>
<rect width="21.29" height="1.73" transform="matrix(0.098 -0.995 0.995 0.098 433.46 504.1)"/>
<rect width="21.29" height="1.89" transform="matrix(0.290 -0.957 0.957 0.290 435.31 484.08)"/>
<rect width="21.29" height="2.02" transform="matrix(0.471 -0.882 0.882 0.471 441.04 464.81)"/>
<rect width="21.29" height="2.11" transform="matrix(0.634 -0.773 0.773 0.634 450.41 447.03)"/>
<rect width="21.29" height="2.18" transform="matrix(0.773 -0.634 0.634 0.773 463.07 431.42)"/>
<rect width="21.29" height="2.2" transform="matrix(0.882 -0.471 0.471 0.882 478.54 418.57)"/>
<rect width="21.29" height="2.19" transform="matrix(0.957 -0.290 0.290 0.957 496.21 408.99)"/>
<rect width="21.29" height="2.13" transform="matrix(0.995 -0.098 0.098 0.995 515.41 403.05)"/>
<rect width="24.16" height="2.05" transform="matrix(0.995 0.098 -0.098 0.995 535.4 386.32)"/>
<rect width="24.16" height="1.93" transform="matrix(0.957 0.290 -0.290 0.957 558.27 388.46)"/>
<rect width="24.16" height="1.78" transform="matrix(0.882 0.471 -0.471 0.882 580.29 395.01)"/>
<rect width="24.16" height="1.61" transform="matrix(0.773 0.634 -0.634 0.773 600.6 405.74)"/>
<rect width="24.16" height="1.42" transform="matrix(0.634 0.773 -0.773 0.634 618.44 420.22)"/>
<rect width="24.16" height="1.23" opacity="0.04" transform="matrix(0.471 0.882 -0.882 0.471 633.1 437.9)"/>
<rect width="24.16" height="1.37" opacity="0.86" transform="matrix(0.290 0.957 0.957 -0.290 644.03 458.11)"/>
<rect width="24.16" height="1.56" transform="matrix(0.098 0.995 0.995 -0.098 650.81 480.05)"/>
<rect width="24.16" height="1.73" transform="matrix(-0.098 0.995 0.995 0.098 653.18 502.9)"/>
<rect width="24.16" height="1.89" transform="matrix(-0.290 0.957 0.957 0.290 651.04 525.77)"/>
<rect width="24.16" height="2.02" transform="matrix(-0.471 0.882 0.882 0.471 644.49 547.79)"/>
<rect width="24.16" height="2.11" transform="matrix(-0.634 0.773 0.773 0.634 633.76 568.1)"/>
<rect width="24.16" height="2.18" transform="matrix(-0.773 0.634 0.634 0.773 619.28 585.94)"/>
<rect width="24.16" height="2.2" transform="matrix(-0.882 0.471 0.471 0.882 601.6 600.6)"/>
<rect width="24.16" height="2.19" transform="matrix(-0.957 0.290 0.290 0.957 581.39 611.53)"/>
<rect width="24.16" height="2.13" transform="matrix(-0.995 0.098 0.098 0.995 559.45 618.31)"/>
<rect width="24.16" height="2.05" transform="matrix(-0.995 -0.098 -0.098 0.995 536.6 620.68)"/>
<rect width="24.16" height="1.93" transform="matrix(-0.957 -0.290 -0.290 0.957 513.73 618.54)"/>
<rect width="24.16" height="1.78" transform="matrix(-0.882 -0.471 -0.471 0.882 491.71 611.99)"/>
<rect width="24.16" height="1.61" transform="matrix(-0.773 -0.634 -0.634 0.773 471.4 601.26)"/>
<rect width="24.16" height="1.42" transform="matrix(-0.634 -0.773 -0.773 0.634 453.56 586.78)"/>
<rect width="24.16" height="1.23" opacity="0.04" transform="matrix(-0.471 -0.882 -0.882 0.471 438.9 569.1)"/>
<rect width="24.16" height="1.37" opacity="0.86" transform="matrix(-0.290 -0.957 0.957 -0.290 427.97 548.89)"/>
<rect width="24.16" height="1.56" transform="matrix(-0.098 -0.995 0.995 -0.098 421.19 526.95)"/>
<rect width="24.16" height="1.73" transform="matrix(0.098 -0.995 0.995 0.098 418.82 504.1)"/>
<rect width="24.16" height="1.89" transform="matrix(0.290 -0.957 0.957 0.290 420.96 481.23)"/>
<rect width="24.16" height="2.02" transform="matrix(0.471 -0.882 0.882 0.471 427.51 459.21)"/>
<rect width="24.16" height="2.11" transform="matrix(0.634 -0.773 0.773 0.634 438.24 438.9)"/>
<rect width="24.16" height="2.18" transform="matrix(0.773 -0.634 0.634 0.773 452.72 421.06)"/>
<rect width="24.16" height="2.2" transform="matrix(0.882 -0.471 0.471 0.882 470.4 406.4)"/>
<rect width="24.16" height="2.19" transform="matrix(0.957 -0.290 0.290 0.957 490.61 395.47)"/>
<rect width="24.16" height="2.13" transform="matrix(0.995 -0.098 0.098 0.995 512.55 388.69)"/>
<rect width="25.59" height="2.05" transform="matrix(0.995 0.098 -0.098 0.995 535.4 379)"/>
<rect width="25.59" height="1.93" transform="matrix(0.957 0.290 -0.290 0.957 559.7 381.28)"/>
<rect width="25.59" height="1.78" transform="matrix(0.882 0.471 -0.471 0.882 583.09 388.25)"/>
<rect width="25.59" height="1.61" transform="matrix(0.773 0.634 -0.634 0.773 604.67 399.65)"/>
<rect width="25.59" height="1.42" transform="matrix(0.634 0.773 -0.773 0.634 623.61 415.04)"/>
<rect width="25.59" height="1.23" opacity="0.04" transform="matrix(0.471 0.882 -0.882 0.471 639.19 433.84)"/>
<rect width="25.59" height="1.37" opacity="0.86" transform="matrix(0.290 0.957 0.957 -0.290 650.79 455.3)"/>
<rect width="25.59" height="1.56" transform="matrix(0.098 0.995 0.995 -0.098 657.99 478.63)"/>
<rect width="25.59" height="1.73" transform="matrix(-0.098 0.995 0.995 0.098 660.5 502.9)"/>
<rect width="25.59" height="1.89" transform="matrix(-0.290 0.957 0.957 0.290 658.22 527.2)"/>
<rect width="25.59" height="2.02" transform="matrix(-0.471 0.882 0.882 0.471 651.25 550.59)"/>
<rect width="25.59" height="2.11" transform="matrix(-0.634 0.773 0.773 0.634 639.85 572.17)"/>
<rect width="25.59" height="2.18" transform="matrix(-0.773 0.634 0.634 0.773 624.46 591.11)"/>
<rect width="25.59" height="2.2" transform="matrix(-0.882 0.471 0.471 0.882 605.66 606.69)"/>
<rect width="25.59" height="2.19" transform="matrix(-0.957 0.290 0.290 0.957 584.2 618.29)"/>
<rect width="25.59" height="2.13" transform="matrix(-0.995 0.098 0.098 0.995 560.87 625.49)"/>
<rect width="25.59" height="2.05" transform="matrix(-0.995 -0.098 -0.098 0.995 536.6 628)"/>
<rect width="25.59" height="1.93" transform="matrix(-0.957 -0.290 -0.290 0.957 512.3 625.72)"/>
<rect width="25.59" height="1.78" transform="matrix(-0.882 -0.471 -0.471 0.882 488.91 618.75)"/>
<rect width="25.59" height="1.61" transform="matrix(-0.773 -0.634 -0.634 0.773 467.33 607.35)"/>
<rect width="25.59" height="1.42" transform="matrix(-0.634 -0.773 -0.773 0.634 448.39 591.96)"/>
<rect width="25.59" height="1.23" opacity="0.04" transform="matrix(-0.471 -0.882 -0.882 0.471 432.81 573.16)"/>
<rect width="25.59" height="1.37" opacity="0.86" transform="matrix(-0.290 -0.957 0.957 -0.290 421.21 551.7)"/>
<rect width="25.59" height="1.56" transform="matrix(-0.098 -0.995 0.995 -0.098 414.01 528.37)"/>
<rect width="25.59" height="1.73" transform="matrix(0.098 -0.995 0.995 0.098 411.5 504.1)"/>
<rect width="25.59" height="1.89" transform="matrix(0.290 -0.957 0.957 0.290 413.78 479.8)"/>
<rect width="25.59" height="2.02" transform="matrix(0.471 -0.882 0.882 0.471 420.75 456.41)"/>
<rect width="25.59" height="2.11" transform="matrix(0.634 -0.773 0.773 0.634 432.15 434.83)"/>
<rect width="25.59" height="2.18" transform="matrix(0.773 -0.634 0.634 0.773 447.54 415.89)"/>
<rect width="25.59" height="2.2" transform="matrix(0.882 -0.471 0.471 0.882 466.34 400.31)"/>
<rect width="25.59" height="2.19" transform="matrix(0.957 -0.290 0.290 0.957 487.8 388.71)"/>
<rect width="25.59" height="2.13" transform="matrix(0.995 -0.098 0.098 0.995 511.13 381.51)"/>
<rect width="27.03" height="2.05" transform="matrix(0.995 0.098 -0.098 0.995 535.4 371.68)"/>
<rect width="27.03" height="1.93" transform="matrix(0.957 0.290 -0.290 0.957 561.13 374.1)"/>
<rect width="27.03" height="1.78" transform="matrix(0.882 0.471 -0.471 0.882 585.89 381.49)"/>
<rect width="27.03" height="1.61" transform="matrix(0.773 0.634 -0.634 0.773 608.74 393.56)"/>
<rect width="27.03" height="1.42" transform="matrix(0.634 0.773 -0.773 0.634 628.79 409.87)"/>
<rect width="27.03" height="1.23" opacity="0.04" transform="matrix(0.471 0.882 -0.882 0.471 645.27 429.77)"/>
<rect width="27.03" height="1.37" opacity="0.86" transform="matrix(0.290 0.957 0.957 -0.290 657.56 452.5)"/>
<rect width="27.03" height="1.56" transform="matrix(0.098 0.995 0.995 -0.098 665.17 477.2)"/>
<rect width="27.03" height="1.73" transform="matrix(-0.098 0.995 0.995 0.098 667.82 502.9)"/>
<rect width="27.03" height="1.89" transform="matrix(-0.290 0.957 0.957 0.290 665.4 528.63)"/>
<rect width="27.03" height="2.02" transform="matrix(-0.471 0.882 0.882 0.471 658.01 553.39)"/>
<rect width="27.03" height="2.11" transform="matrix(-0.634 0.773 0.773 0.634 645.94 576.24)"/>
<rect width="27.03" height="2.18" transform="matrix(-0.773 0.634 0.634 0.773 629.63 596.29)"/>
<rect width="27.03" height="2.2" transform="matrix(-0.882 0.471 0.471 0.882 609.73 612.77)"/>
<rect width="27.03" height="2.19" transform="matrix(-0.957 0.290 0.290 0.957 587 625.06)"/>
<rect width="27.03" height="2.13" transform="matrix(-0.995 0.098 0.098 0.995 562.3 632.67)"/>
<rect width="27.03" height="2.05" transform="matrix(-0.995 -0.098 -0.098 0.995 536.6 635.32)"/>
<rect width="27.03" height="1.93" transform="matrix(-0.957 -0.290 -0.290 0.957 510.87 632.9)"/>
<rect width="27.03" height="1.78" transform="matrix(-0.882 -0.471 -0.471 0.882 486.11 625.51)"/>
<rect width="27.03" height="1.61" transform="matrix(-0.773 -0.634 -0.634 0.773 463.26 613.44)"/>
<rect width="27.03" height="1.42" transform="matrix(-0.634 -0.773 -0.773 0.634 443.21 597.13)"/>
<rect width="27.03" height="1.23" opacity="0.04" transform="matrix(-0.471 -0.882 -0.882 0.471 426.73 577.23)"/>
<rect width="27.03" height="1.37" opacity="0.86" transform="matrix(-0.290 -0.957 0.957 -0.290 414.44 554.5)"/>
<rect width="27.03" height="1.56" transform="matrix(-0.098 -0.995 0.995 -0.098 406.83 529.8)"/>
<rect width="27.03" height="1.73" transform="matrix(0.098 -0.995 0.995 0.098 404.18 504.1)"/>
<rect width="27.03" height="1.89" transform="matrix(0.290 -0.957 0.957 0.290 406.6 478.37)"/>
<rect width="27.03" height="2.02" transform="matrix(0.471 -0.882 0.882 0.471 413.99 453.61)"/>
<rect width="27.03" height="2.11" transform="matrix(0.634 -0.773 0.773 0.634 426.06 430.76)"/>
<rect width="27.03" height="2.18" transform="matrix(0.773 -0.634 0.634 0.773 442.37 410.71)"/>
<rect width="27.03" height="2.2" transform="matrix(0.882 -0.471 0.471 0.882 462.27 394.23)"/>
<rect width="27.03" height="2.19" transform="matrix(0.957 -0.290 0.290 0.957 485 381.94)"/>
<rect width="27.03" height="2.13" transform="matrix(0.995 -0.098 0.098 0.995 509.7 374.33)"/>
<rect width="28.46" height="2.05" transform="matrix(0.995 0.098 -0.098 0.995 535.4 364.36)"/>
<rect width="28.46" height="1.93" transform="matrix(0.957 0.290 -0.290 0.957 562.56 366.92)"/>
<rect width="28.46" height="1.78" transform="matrix(0.882 0.471 -0.471 0.882 588.69 374.72)"/>
<rect width="28.46" height="1.61" transform="matrix(0.773 0.634 -0.634 0.773 612.8 387.48)"/>
<rect width="28.46" height="1.42" transform="matrix(0.634 0.773 -0.773 0.634 633.96 404.69)"/>
<rect width="28.46" height="1.23" opacity="0.04" transform="matrix(0.471 0.882 -0.882 0.471 651.36 425.7)"/>
<rect width="28.46" height="1.37" opacity="0.86" transform="matrix(0.290 0.957 0.957 -0.290 664.32 449.7)"/>
<rect width="28.46" height="1.56" transform="matrix(0.098 0.995 0.995 -0.098 672.35 475.77)"/>
<rect width="28.46" height="1.73" transform="matrix(-0.098 0.995 0.995 0.098 675.14 502.9)"/>
<rect width="28.46" height="1.89" transform="matrix(-0.290 0.957 0.957 0.290 672.58 530.06)"/>
<rect width="28.46" height="2.02" transform="matrix(-0.471 0.882 0.882 0.471 664.78 556.19)"/>
<rect width="28.46" height="2.11" transform="matrix(-0.634 0.773 0.773 0.634 652.02 580.3)"/>
<rect width="28.46" height="2.18" transform="matrix(-0.773 0.634 0.634 0.773 634.81 601.46)"/>
<rect width="28.46" height="2.2" transform="matrix(-0.882 0.471 0.471 0.882 613.8 618.86)"/>
<rect width="28.46" height="2.19" transform="matrix(-0.957 0.290 0.290 0.957 589.8 631.82)"/>
<rect width="28.46" height="2.13" transform="matrix(-0.995 0.098 0.098 0.995 563.73 639.85)"/>
<rect width="28.46" height="2.05" transform="matrix(-0.995 -0.098 -0.098 0.995 536.6 642.64)"/>
<rect width="28.46" height="1.93" transform="matrix(-0.957 -0.290 -0.290 0.957 509.44 640.08)"/>
<rect width="28.46" height="1.78" transform="matrix(-0.882 -0.471 -0.471 0.882 483.31 632.28)"/>
<rect width="28.46" height="1.61" transform="matrix(-0.773 -0.634 -0.634 0.773 459.2 619.52)"/>
<rect width="28.46" height="1.42" transform="matrix(-0.634 -0.773 -0.773 0.634 438.04 602.31)"/>
<rect width="28.46" height="1.23" opacity="0.04" transform="matrix(-0.471 -0.882 -0.882 0.471 420.64 581.3)"/>
<rect width="28.46" height="1.37" opacity="0.86" transform="matrix(-0.290 -0.957 0.957 -0.290 407.68 557.3)"/>
<rect width="28.46" height="1.56" transform="matrix(-0.098 -0.995 0.995 -0.098 399.65 531.23)"/>
<rect width="28.46" height="1.73" transform="matrix(0.098 -0.995 0.995 0.098 396.86 504.1)"/>
<rect width="28.46" height="1.89" transform="matrix(0.290 -0.957 0.957 0.290 399.42 476.94)"/>
<rect width="28.46" height="2.02" transform="matrix(0.471 -0.882 0.882 0.471 407.22 450.81)"/>
<rect width="28.46" height="2.11" transform="matrix(0.634 -0.773 0.773 0.634 419.98 426.7)"/>
<rect width="28.46" height="2.18" transform="matrix(0.773 -0.634 0.634 0.773 437.19 405.54)"/>
<rect width="28.46" height="2.2" transform="matrix(0.882 -0.471 0.471 0.882 458.2 388.14)"/>
<rect width="28.46" height="2.19" transform="matrix(0.957 -0.290 0.290 0.957 482.2 375.18)"/>
<rect width="28.46" height="2.13" transform="matrix(0.995 -0.098 0.098 0.995 508.27 367.15)"/>
<rect width="31.33" height="2.05" transform="matrix(0.995 0.098 -0.098 0.995 535.4 349.72)"/>
<rect width="31.33" height="1.93" transform="matrix(0.957 0.290 -0.290 0.957 565.42 352.56)"/>
<rect width="31.33" height="1.78" transform="matrix(0.882 0.471 -0.471 0.882 594.3 361.2)"/>
<rect width="31.33" height="1.61" transform="matrix(0.773 0.634 -0.634 0.773 620.94 375.31)"/>
<rect width="31.33" height="1.42" transform="matrix(0.634 0.773 -0.773 0.634 644.32 394.34)"/>
<rect width="31.33" height="1.23" opacity="0.04" transform="matrix(0.471 0.882 -0.882 0.471 663.53 417.57)"/>
<rect width="31.33" height="1.37" opacity="0.86" transform="matrix(0.290 0.957 0.957 -0.290 677.84 444.1)"/>
<rect width="31.33" height="1.56" transform="matrix(0.098 0.995 0.995 -0.098 686.71 472.91)"/>
<rect width="31.33" height="1.73" transform="matrix(-0.098 0.995 0.995 0.098 689.78 502.9)"/>
<rect width="31.33" height="1.89" transform="matrix(-0.290 0.957 0.957 0.290 686.94 532.92)"/>
<rect width="31.33" height="2.02" transform="matrix(-0.471 0.882 0.882 0.471 678.3 561.8)"/>
<rect width="31.33" height="2.11" transform="matrix(-0.634 0.773 0.773 0.634 664.19 588.44)"/>
<rect width="31.33" height="2.18" transform="matrix(-0.773 0.634 0.634 0.773 645.16 611.82)"/>
<rect width="31.33" height="2.2" transform="matrix(-0.882 0.471 0.471 0.882 621.93 631.03)"/>
<rect width="31.33" height="2.19" transform="matrix(-0.957 0.290 0.290 0.957 595.4 645.34)"/>
<rect width="31.33" height="2.13" transform="matrix(-0.995 0.098 0.098 0.995 566.59 654.21)"/>
<rect width="31.33" height="2.05" transform="matrix(-0.995 -0.098 -0.098 0.995 536.6 657.28)"/>
<rect width="31.33" height="1.93" transform="matrix(-0.957 -0.290 -0.290 0.957 506.58 654.44)"/>
<rect width="31.33" height="1.78" transform="matrix(-0.882 -0.471 -0.471 0.882 477.7 645.8)"/>
<rect width="31.33" height="1.61" transform="matrix(-0.773 -0.634 -0.634 0.773 451.06 631.69)"/>
<rect width="31.33" height="1.42" transform="matrix(-0.634 -0.773 -0.773 0.634 427.68 612.66)"/>
<rect width="31.33" height="1.23" opacity="0.04" transform="matrix(-0.471 -0.882 -0.882 0.471 408.47 589.43)"/>
<rect width="31.33" height="1.37" opacity="0.86" transform="matrix(-0.290 -0.957 0.957 -0.290 394.16 562.9)"/>
<rect width="31.33" height="1.56" transform="matrix(-0.098 -0.995 0.995 -0.098 385.29 534.09)"/>
<rect width="31.33" height="1.73" transform="matrix(0.098 -0.995 0.995 0.098 382.22 504.1)"/>
<rect width="31.33" height="1.89" transform="matrix(0.290 -0.957 0.957 0.290 385.06 474.08)"/>
<rect width="31.33" height="2.02" transform="matrix(0.471 -0.882 0.882 0.471 393.7 445.2)"/>
<rect width="31.33" height="2.11" transform="matrix(0.634 -0.773 0.773 0.634 407.81 418.56)"/>
<rect width="31.33" height="2.18" transform="matrix(0.773 -0.634 0.634 0.773 426.84 395.18)"/>
<rect width="31.33" height="2.2" transform="matrix(0.882 -0.471 0.471 0.882 450.07 375.97)"/>
<rect width="31.33" height="2.19" transform="matrix(0.957 -0.290 0.290 0.957 476.6 361.66)"/>
<rect width="31.33" height="2.13" transform="matrix(0.995 -0.098 0.098 0.995 505.41 352.79)"/>
<rect width="32.77" height="2.05" transform="matrix(0.995 0.098 -0.098 0.995 535.4 342.4)"/>
<rect width="32.77" height="1.93" transform="matrix(0.957 0.290 -0.290 0.957 566.84 345.38)"/>
<rect width="32.77" height="1.78" transform="matrix(0.882 0.471 -0.471 0.882 597.1 354.44)"/>
<rect width="32.77" height="1.61" transform="matrix(0.773 0.634 -0.634 0.773 625.01 369.22)"/>
<rect width="32.77" height="1.42" transform="matrix(0.634 0.773 -0.773 0.634 649.49 389.16)"/>
<rect width="32.77" height="1.23" opacity="0.04" transform="matrix(0.471 0.882 -0.882 0.471 669.62 413.5)"/>
<rect width="32.77" height="1.37" opacity="0.86" transform="matrix(0.290 0.957 0.957 -0.290 684.61 441.3)"/>
<rect width="32.77" height="1.56" transform="matrix(0.098 0.995 0.995 -0.098 693.89 471.49)"/>
<rect width="32.77" height="1.73" transform="matrix(-0.098 0.995 0.995 0.098 697.1 502.9)"/>
<rect width="32.77" height="1.89" transform="matrix(-0.290 0.957 0.957 0.290 694.12 534.34)"/>
<rect width="32.77" height="2.02" transform="matrix(-0.471 0.882 0.882 0.471 685.06 564.6)"/>
<rect width="32.77" height="2.11" transform="matrix(-0.634 0.773 0.773 0.634 670.28 592.51)"/>
<rect width="32.77" height="2.18" transform="matrix(-0.773 0.634 0.634 0.773 650.34 616.99)"/>
<rect width="32.77" height="2.2" transform="matrix(-0.882 0.471 0.471 0.882 626 637.12)"/>
<rect width="32.77" height="2.19" transform="matrix(-0.957 0.290 0.290 0.957 598.2 652.11)"/>
<rect width="32.77" height="2.13" transform="matrix(-0.995 0.098 0.098 0.995 568.01 661.39)"/>
<rect width="32.77" height="2.05" transform="matrix(-0.995 -0.098 -0.098 0.995 536.6 664.6)"/>
<rect width="32.77" height="1.93" transform="matrix(-0.957 -0.290 -0.290 0.957 505.16 661.62)"/>
<rect width="32.77" height="1.78" transform="matrix(-0.882 -0.471 -0.471 0.882 474.9 652.56)"/>
<rect width="32.77" height="1.61" transform="matrix(-0.773 -0.634 -0.634 0.773 446.99 637.78)"/>
<rect width="32.77" height="1.42" transform="matrix(-0.634 -0.773 -0.773 0.634 422.51 617.84)"/>
<rect width="32.77" height="1.23" opacity="0.04" transform="matrix(-0.471 -0.882 -0.882 0.471 402.38 593.5)"/>
<rect width="32.77" height="1.37" opacity="0.86" transform="matrix(-0.290 -0.957 0.957 -0.290 387.39 565.7)"/>
<rect width="32.77" height="1.56" transform="matrix(-0.098 -0.995 0.995 -0.098 378.11 535.51)"/>
<rect width="32.77" height="1.73" transform="matrix(0.098 -0.995 0.995 0.098 374.9 504.1)"/>
<rect width="32.77" height="1.89" transform="matrix(0.290 -0.957 0.957 0.290 377.88 472.66)"/>
<rect width="32.77" height="2.02" transform="matrix(0.471 -0.882 0.882 0.471 386.94 442.4)"/>
<rect width="32.77" height="2.11" transform="matrix(0.634 -0.773 0.773 0.634 401.72 414.49)"/>
<rect width="32.77" height="2.18" transform="matrix(0.773 -0.634 0.634 0.773 421.66 390.01)"/>
<rect width="32.77" height="2.2" transform="matrix(0.882 -0.471 0.471 0.882 446 369.88)"/>
<rect width="32.77" height="2.19" transform="matrix(0.957 -0.290 0.290 0.957 473.8 354.89)"/>
<rect width="32.77" height="2.13" transform="matrix(0.995 -0.098 0.098 0.995 503.99 345.61)"/>
<rect width="34.2" height="2.05" transform="matrix(0.995 0.098 -0.098 0.995 535.4 335.08)"/>
<rect width="34.2" height="1.93" transform="matrix(0.957 0.290 -0.290 0.957 568.27 338.2)"/>
<rect width="34.2" height="1.78" transform="matrix(0.882 0.471 -0.471 0.882 599.9 347.67)"/>
<rect width="34.2" height="1.61" transform="matrix(0.773 0.634 -0.634 0.773 629.07 363.13)"/>
<rect width="34.2" height="1.42" transform="matrix(0.634 0.773 -0.773 0.634 654.67 383.99)"/>
<rect width="34.2" height="1.23" opacity="0.04" transform="matrix(0.471 0.882 -0.882 0.471 675.7 409.44)"/>
<rect width="34.2" height="1.37" opacity="0.86" transform="matrix(0.290 0.957 0.957 -0.290 691.37 438.5)"/>
<rect width="34.2" height="1.56" transform="matrix(0.098 0.995 0.995 -0.098 701.07 470.06)"/>
<rect width="34.2" height="1.73" transform="matrix(-0.098 0.995 0.995 0.098 704.42 502.9)"/>
<rect width="34.2" height="1.89" transform="matrix(-0.290 0.957 0.957 0.290 701.3 535.77)"/>
<rect width="34.2" height="2.02" transform="matrix(-0.471 0.882 0.882 0.471 691.83 567.4)"/>
<rect width="34.2" height="2.11" transform="matrix(-0.634 0.773 0.773 0.634 676.37 596.57)"/>
<rect width="34.2" height="2.18" transform="matrix(-0.773 0.634 0.634 0.773 655.51 622.17)"/>
<rect width="34.2" height="2.2" transform="matrix(-0.882 0.471 0.471 0.882 630.06 643.2)"/>
<rect width="34.2" height="2.19" transform="matrix(-0.957 0.290 0.290 0.957 601 658.87)"/>
<rect width="34.2" height="2.13" transform="matrix(-0.995 0.098 0.098 0.995 569.44 668.57)"/>
<rect width="34.2" height="2.05" transform="matrix(-0.995 -0.098 -0.098 0.995 536.6 671.92)"/>
<rect width="34.2" height="1.93" transform="matrix(-0.957 -0.290 -0.290 0.957 503.73 668.8)"/>
<rect width="34.2" height="1.78" transform="matrix(-0.882 -0.471 -0.471 0.882 472.1 659.33)"/>
<rect width="34.2" height="1.61" transform="matrix(-0.773 -0.634 -0.634 0.773 442.93 643.87)"/>
<rect width="34.2" height="1.42" transform="matrix(-0.634 -0.773 -0.773 0.634 417.33 623.01)"/>
<rect width="34.2" height="1.23" opacity="0.04" transform="matrix(-0.471 -0.882 -0.882 0.471 396.3 597.56)"/>
<rect width="34.2" height="1.37" opacity="0.86" transform="matrix(-0.290 -0.957 0.957 -0.290 380.63 568.5)"/>
<rect width="34.2" height="1.56" transform="matrix(-0.098 -0.995 0.995 -0.098 370.93 536.94)"/>
<rect width="34.2" height="1.73" transform="matrix(0.098 -0.995 0.995 0.098 367.58 504.1)"/>
<rect width="34.2" height="1.89" transform="matrix(0.290 -0.957 0.957 0.290 370.7 471.23)"/>
<rect width="34.2" height="2.02" transform="matrix(0.471 -0.882 0.882 0.471 380.17 439.6)"/>
<rect width="34.2" height="2.11" transform="matrix(0.634 -0.773 0.773 0.634 395.63 410.43)"/>
<rect width="34.2" height="2.18" transform="matrix(0.773 -0.634 0.634 0.773 416.49 384.83)"/>
<rect width="34.2" height="2.2" transform="matrix(0.882 -0.471 0.471 0.882 441.94 363.8)"/>
<rect width="34.2" height="2.19" transform="matrix(0.957 -0.290 0.290 0.957 471 348.13)"/>
<rect width="34.2" height="2.13" transform="matrix(0.995 -0.098 0.098 0.995 502.56 338.43)"/>
<rect width="35.64" height="2.05" transform="matrix(0.995 0.098 -0.098 0.995 535.4 327.76)"/>
<rect width="35.64" height="1.93" transform="matrix(0.957 0.290 -0.290 0.957 569.7 331.02)"/>
<rect width="35.64" height="1.78" transform="matrix(0.882 0.471 -0.471 0.882 602.7 340.91)"/>
<rect width="35.64" height="1.61" transform="matrix(0.773 0.634 -0.634 0.773 633.14 357.05)"/>
<rect width="35.64" height="1.42" transform="matrix(0.634 0.773 -0.773 0.634 659.84 378.81)"/>
<rect width="35.64" height="1.23" opacity="0.04" transform="matrix(0.471 0.882 -0.882 0.471 681.79 405.37)"/>
<rect width="35.64" height="1.37" opacity="0.86" transform="matrix(0.290 0.957 0.957 -0.290 698.13 435.7)"/>
<rect width="35.64" height="1.56" transform="matrix(0.098 0.995 0.995 -0.098 708.25 468.63)"/>
<rect width="35.64" height="1.73" transform="matrix(-0.098 0.995 0.995 0.098 711.74 502.9)"/>
<rect width="35.64" height="1.89" transform="matrix(-0.290 0.957 0.957 0.290 708.48 537.2)"/>
<rect width="35.64" height="2.02" transform="matrix(-0.471 0.882 0.882 0.471 698.59 570.2)"/>
<rect width="35.64" height="2.11" transform="matrix(-0.634 0.773 0.773 0.634 682.45 600.64)"/>
<rect width="35.64" height="2.18" transform="matrix(-0.773 0.634 0.634 0.773 660.69 627.34)"/>
<rect width="35.64" height="2.2" transform="matrix(-0.882 0.471 0.471 0.882 634.13 649.29)"/>
<rect width="35.64" height="2.19" transform="matrix(-0.957 0.290 0.290 0.957 603.8 665.63)"/>
<rect width="35.64" height="2.13" transform="matrix(-0.995 0.098 0.098 0.995 570.87 675.75)"/>
<rect width="35.64" height="2.05" transform="matrix(-0.995 -0.098 -0.098 0.995 536.6 679.24)"/>
<rect width="35.64" height="1.93" transform="matrix(-0.957 -0.290 -0.290 0.957 502.3 675.98)"/>
<rect width="35.64" height="1.78" transform="matrix(-0.882 -0.471 -0.471 0.882 469.3 666.09)"/>
<rect width="35.64" height="1.61" transform="matrix(-0.773 -0.634 -0.634 0.773 438.86 649.95)"/>
<rect width="35.64" height="1.42" transform="matrix(-0.634 -0.773 -0.773 0.634 412.16 628.19)"/>
<rect width="35.64" height="1.23" opacity="0.04" transform="matrix(-0.471 -0.882 -0.882 0.471 390.21 601.63)"/>
<rect width="35.64" height="1.37" opacity="0.86" transform="matrix(-0.290 -0.957 0.957 -0.290 373.87 571.3)"/>
<rect width="35.64" height="1.56" transform="matrix(-0.098 -0.995 0.995 -0.098 363.75 538.37)"/>
<rect width="35.64" height="1.73" transform="matrix(0.098 -0.995 0.995 0.098 360.26 504.1)"/>
<rect width="35.64" height="1.89" transform="matrix(0.290 -0.957 0.957 0.290 363.52 469.8)"/>
<rect width="35.64" height="2.02" transform="matrix(0.471 -0.882 0.882 0.471 373.41 436.8)"/>
<rect width="35.64" height="2.11" transform="matrix(0.634 -0.773 0.773 0.634 389.55 406.36)"/>
<rect width="35.64" height="2.18" transform="matrix(0.773 -0.634 0.634 0.773 411.31 379.66)"/>
<rect width="35.64" height="2.2" transform="matrix(0.882 -0.471 0.471 0.882 437.87 357.71)"/>
<rect width="35.64" height="2.19" transform="matrix(0.957 -0.290 0.290 0.957 468.2 341.37)"/>
<rect width="35.64" height="2.13" transform="matrix(0.995 -0.098 0.098 0.995 501.13 331.25)"/>
<rect width="38.51" height="2.05" transform="matrix(0.995 0.098 -0.098 0.995 535.4 313.12)"/>
<rect width="38.51" height="1.93" transform="matrix(0.957 0.290 -0.290 0.957 572.56 316.66)"/>
<rect width="38.51" height="1.78" transform="matrix(0.882 0.471 -0.471 0.882 608.3 327.38)"/>
<rect width="38.51" height="1.61" transform="matrix(0.773 0.634 -0.634 0.773 641.27 344.87)"/>
<rect width="38.51" height="1.42" transform="matrix(0.634 0.773 -0.773 0.634 670.2 368.46)"/>
<rect width="38.51" height="1.23" opacity="0.04" transform="matrix(0.471 0.882 -0.882 0.471 693.96 397.23)"/>
<rect width="38.51" height="1.37" opacity="0.86" transform="matrix(0.290 0.957 0.957 -0.290 711.66 430.09)"/>
<rect width="38.51" height="1.56" transform="matrix(0.098 0.995 0.995 -0.098 722.6 465.77)"/>
<rect width="38.51" height="1.73" transform="matrix(-0.098 0.995 0.995 0.098 726.38 502.9)"/>
<rect width="38.51" height="1.89" transform="matrix(-0.290 0.957 0.957 0.290 722.84 540.06)"/>
<rect width="38.51" height="2.02" transform="matrix(-0.471 0.882 0.882 0.471 712.12 575.8)"/>
<rect width="38.51" height="2.11" transform="matrix(-0.634 0.773 0.773 0.634 694.63 608.77)"/>
<rect width="38.51" height="2.18" transform="matrix(-0.773 0.634 0.634 0.773 671.04 637.7)"/>
<rect width="38.51" height="2.2" transform="matrix(-0.882 0.471 0.471 0.882 642.27 661.46)"/>
<rect width="38.51" height="2.19" transform="matrix(-0.957 0.290 0.290 0.957 609.41 679.16)"/>
<rect width="38.51" height="2.13" transform="matrix(-0.995 0.098 0.098 0.995 573.73 690.1)"/>
<rect width="38.51" height="2.05" transform="matrix(-0.995 -0.098 -0.098 0.995 536.6 693.88)"/>
<rect width="38.51" height="1.93" transform="matrix(-0.957 -0.290 -0.290 0.957 499.44 690.34)"/>
<rect width="38.51" height="1.78" transform="matrix(-0.882 -0.471 -0.471 0.882 463.7 679.62)"/>
<rect width="38.51" height="1.61" transform="matrix(-0.773 -0.634 -0.634 0.773 430.73 662.13)"/>
<rect width="38.51" height="1.42" transform="matrix(-0.634 -0.773 -0.773 0.634 401.8 638.54)"/>
<rect width="38.51" height="1.23" opacity="0.04" transform="matrix(-0.471 -0.882 -0.882 0.471 378.04 609.77)"/>
<rect width="38.51" height="1.37" opacity="0.86" transform="matrix(-0.290 -0.957 0.957 -0.290 360.34 576.91)"/>
<rect width="38.51" height="1.56" transform="matrix(-0.098 -0.995 0.995 -0.098 349.4 541.23)"/>
<rect width="38.51" height="1.73" transform="matrix(0.098 -0.995 0.995 0.098 345.62 504.1)"/>
<rect width="38.51" height="1.89" transform="matrix(0.290 -0.957 0.957 0.290 349.16 466.94)"/>
<rect width="38.51" height="2.02" transform="matrix(0.471 -0.882 0.882 0.471 359.88 431.2)"/>
<rect width="38.51" height="2.11" transform="matrix(0.634 -0.773 0.773 0.634 377.37 398.23)"/>
<rect width="38.51" height="2.18" transform="matrix(0.773 -0.634 0.634 0.773 400.96 369.3)"/>
<rect width="38.51" height="2.2" transform="matrix(0.882 -0.471 0.471 0.882 429.73 345.54)"/>
<rect width="38.51" height="2.19" transform="matrix(0.957 -0.290 0.290 0.957 462.59 327.84)"/>
<rect width="38.51" height="2.13" transform="matrix(0.995 -0.098 0.098 0.995 498.27 316.9)"/>
<rect width="39.94" height="2.05" transform="matrix(0.995 0.098 -0.098 0.995 535.4 305.8)"/>
<rect width="39.94" height="1.93" transform="matrix(0.957 0.290 -0.290 0.957 573.98 309.48)"/>
<rect width="39.94" height="1.78" transform="matrix(0.882 0.471 -0.471 0.882 611.1 320.62)"/>
<rect width="39.94" height="1.61" transform="matrix(0.773 0.634 -0.634 0.773 645.34 338.79)"/>
<rect width="39.94" height="1.42" transform="matrix(0.634 0.773 -0.773 0.634 675.37 363.28)"/>
<rect width="39.94" height="1.23" opacity="0.04" transform="matrix(0.471 0.882 -0.882 0.471 700.05 393.17)"/>
<rect width="39.94" height="1.37" opacity="0.86" transform="matrix(0.290 0.957 0.957 -0.290 718.42 427.29)"/>
<rect width="39.94" height="1.56" transform="matrix(0.098 0.995 0.995 -0.098 729.78 464.35)"/>
<rect width="39.94" height="1.73" transform="matrix(-0.098 0.995 0.995 0.098 733.7 502.9)"/>
<rect width="39.94" height="1.89" transform="matrix(-0.290 0.957 0.957 0.290 730.02 541.48)"/>
<rect width="39.94" height="2.02" transform="matrix(-0.471 0.882 0.882 0.471 718.88 578.6)"/>
<rect width="39.94" height="2.11" transform="matrix(-0.634 0.773 0.773 0.634 700.71 612.84)"/>
<rect width="39.94" height="2.18" transform="matrix(-0.773 0.634 0.634 0.773 676.22 642.87)"/>
<rect width="39.94" height="2.2" transform="matrix(-0.882 0.471 0.471 0.882 646.33 667.55)"/>
<rect width="39.94" height="2.19" transform="matrix(-0.957 0.290 0.290 0.957 612.21 685.92)"/>
<rect width="39.94" height="2.13" transform="matrix(-0.995 0.098 0.098 0.995 575.15 697.28)"/>
<rect width="39.94" height="2.05" transform="matrix(-0.995 -0.098 -0.098 0.995 536.6 701.2)"/>
<rect width="39.94" height="1.93" transform="matrix(-0.957 -0.290 -0.290 0.957 498.02 697.52)"/>
<rect width="39.94" height="1.78" transform="matrix(-0.882 -0.471 -0.471 0.882 460.9 686.38)"/>
<rect width="39.94" height="1.61" transform="matrix(-0.773 -0.634 -0.634 0.773 426.66 668.21)"/>
<rect width="39.94" height="1.42" transform="matrix(-0.634 -0.773 -0.773 0.634 396.63 643.72)"/>
<rect width="39.94" height="1.23" opacity="0.04" transform="matrix(-0.471 -0.882 -0.882 0.471 371.95 613.83)"/>
<rect width="39.94" height="1.37" opacity="0.86" transform="matrix(-0.290 -0.957 0.957 -0.290 353.58 579.71)"/>
<rect width="39.94" height="1.56" transform="matrix(-0.098 -0.995 0.995 -0.098 342.22 542.65)"/>
<rect width="39.94" height="1.73" transform="matrix(0.098 -0.995 0.995 0.098 338.3 504.1)"/>
<rect width="39.94" height="1.89" transform="matrix(0.290 -0.957 0.957 0.290 341.98 465.52)"/>
<rect width="39.94" height="2.02" transform="matrix(0.471 -0.882 0.882 0.471 353.12 428.4)"/>
<rect width="39.94" height="2.11" transform="matrix(0.634 -0.773 0.773 0.634 371.29 394.16)"/>
<rect width="39.94" height="2.18" transform="matrix(0.773 -0.634 0.634 0.773 395.78 364.13)"/>
<rect width="39.94" height="2.2" transform="matrix(0.882 -0.471 0.471 0.882 425.67 339.45)"/>
<rect width="39.94" height="2.19" transform="matrix(0.957 -0.290 0.290 0.957 459.79 321.08)"/>
<rect width="39.94" height="2.13" transform="matrix(0.995 -0.098 0.098 0.995 496.85 309.72)"/>
<rect width="41.38" height="2.05" transform="matrix(0.995 0.098 -0.098 0.995 535.4 298.48)"/>
<rect width="41.38" height="1.93" transform="matrix(0.957 0.290 -0.290 0.957 575.41 302.3)"/>
<rect width="41.38" height="1.78" transform="matrix(0.882 0.471 -0.471 0.882 613.91 313.86)"/>
<rect width="41.38" height="1.61" transform="matrix(0.773 0.634 -0.634 0.773 649.41 332.7)"/>
<rect width="41.38" height="1.42" transform="matrix(0.634 0.773 -0.773 0.634 680.55 358.11)"/>
<rect width="41.38" height="1.23" opacity="0.04" transform="matrix(0.471 0.882 -0.882 0.471 706.14 389.1)"/>
<rect width="41.38" height="1.37" opacity="0.86" transform="matrix(0.290 0.957 0.957 -0.290 725.18 424.49)"/>
<rect width="41.38" height="1.56" transform="matrix(0.098 0.995 0.995 -0.098 736.96 462.92)"/>
<rect width="41.38" height="1.73" transform="matrix(-0.098 0.995 0.995 0.098 741.02 502.9)"/>
<rect width="41.38" height="1.89" transform="matrix(-0.290 0.957 0.957 0.290 737.2 542.91)"/>
<rect width="41.38" height="2.02" transform="matrix(-0.471 0.882 0.882 0.471 725.64 581.41)"/>
<rect width="41.38" height="2.11" transform="matrix(-0.634 0.773 0.773 0.634 706.8 616.91)"/>
<rect width="41.38" height="2.18" transform="matrix(-0.773 0.634 0.634 0.773 681.39 648.05)"/>
<rect width="41.38" height="2.2" transform="matrix(-0.882 0.471 0.471 0.882 650.4 673.64)"/>
<rect width="41.38" height="2.19" transform="matrix(-0.957 0.290 0.290 0.957 615.01 692.68)"/>
<rect width="41.38" height="2.13" transform="matrix(-0.995 0.098 0.098 0.995 576.58 704.46)"/>
<rect width="41.38" height="2.05" transform="matrix(-0.995 -0.098 -0.098 0.995 536.6 708.52)"/>
<rect width="41.38" height="1.93" transform="matrix(-0.957 -0.290 -0.290 0.957 496.59 704.7)"/>
<rect width="41.38" height="1.78" transform="matrix(-0.882 -0.471 -0.471 0.882 458.09 693.14)"/>
<rect width="41.38" height="1.61" transform="matrix(-0.773 -0.634 -0.634 0.773 422.59 674.3)"/>
<rect width="41.38" height="1.42" transform="matrix(-0.634 -0.773 -0.773 0.634 391.45 648.89)"/>
<rect width="41.38" height="1.23" opacity="0.04" transform="matrix(-0.471 -0.882 -0.882 0.471 365.86 617.9)"/>
<rect width="41.38" height="1.37" opacity="0.86" transform="matrix(-0.290 -0.957 0.957 -0.290 346.82 582.51)"/>
<rect width="41.38" height="1.56" transform="matrix(-0.098 -0.995 0.995 -0.098 335.04 544.08)"/>
<rect width="41.38" height="1.73" transform="matrix(0.098 -0.995 0.995 0.098 330.98 504.1)"/>
<rect width="41.38" height="1.89" transform="matrix(0.290 -0.957 0.957 0.290 334.8 464.09)"/>
<rect width="41.38" height="2.02" transform="matrix(0.471 -0.882 0.882 0.471 346.36 425.59)"/>
<rect width="41.38" height="2.11" transform="matrix(0.634 -0.773 0.773 0.634 365.2 390.09)"/>
<rect width="41.38" height="2.18" transform="matrix(0.773 -0.634 0.634 0.773 390.61 358.95)"/>
<rect width="41.38" height="2.2" transform="matrix(0.882 -0.471 0.471 0.882 421.6 333.36)"/>
<rect width="41.38" height="2.19" transform="matrix(0.957 -0.290 0.290 0.957 456.99 314.32)"/>
<rect width="41.38" height="2.13" transform="matrix(0.995 -0.098 0.098 0.995 495.42 302.54)"/>
<rect width="42.81" height="2.05" transform="matrix(0.995 0.098 -0.098 0.995 535.4 291.16)"/>
<rect width="42.81" height="1.93" transform="matrix(0.957 0.290 -0.290 0.957 576.84 295.12)"/>
<rect width="42.81" height="1.78" transform="matrix(0.882 0.471 -0.471 0.882 616.71 307.1)"/>
<rect width="42.81" height="1.61" transform="matrix(0.773 0.634 -0.634 0.773 653.47 326.61)"/>
<rect width="42.81" height="1.42" transform="matrix(0.634 0.773 -0.773 0.634 685.72 352.93)"/>
<rect width="42.81" height="1.23" opacity="0.04" transform="matrix(0.471 0.882 -0.882 0.471 712.22 385.03)"/>
<rect width="42.81" height="1.37" opacity="0.86" transform="matrix(0.290 0.957 0.957 -0.290 731.95 421.69)"/>
<rect width="42.81" height="1.56" transform="matrix(0.098 0.995 0.995 -0.098 744.14 461.49)"/>
<rect width="42.81" height="1.73" transform="matrix(-0.098 0.995 0.995 0.098 748.34 502.9)"/>
<rect width="42.81" height="1.89" transform="matrix(-0.290 0.957 0.957 0.290 744.38 544.34)"/>
<rect width="42.81" height="2.02" transform="matrix(-0.471 0.882 0.882 0.471 732.4 584.21)"/>
<rect width="42.81" height="2.11" transform="matrix(-0.634 0.773 0.773 0.634 712.89 620.97)"/>
<rect width="42.81" height="2.18" transform="matrix(-0.773 0.634 0.634 0.773 686.57 653.22)"/>
<rect width="42.81" height="2.2" transform="matrix(-0.882 0.471 0.471 0.882 654.47 679.72)"/>
<rect width="42.81" height="2.19" transform="matrix(-0.957 0.290 0.290 0.957 617.81 699.45)"/>
<rect width="42.81" height="2.13" transform="matrix(-0.995 0.098 0.098 0.995 578.01 711.64)"/>
<rect width="42.81" height="2.05" transform="matrix(-0.995 -0.098 -0.098 0.995 536.6 715.84)"/>
<rect width="42.81" height="1.93" transform="matrix(-0.957 -0.290 -0.290 0.957 495.16 711.88)"/>
<rect width="42.81" height="1.78" transform="matrix(-0.882 -0.471 -0.471 0.882 455.29 699.9)"/>
<rect width="42.81" height="1.61" transform="matrix(-0.773 -0.634 -0.634 0.773 418.53 680.39)"/>
<rect width="42.81" height="1.42" transform="matrix(-0.634 -0.773 -0.773 0.634 386.28 654.07)"/>
<rect width="42.81" height="1.23" opacity="0.04" transform="matrix(-0.471 -0.882 -0.882 0.471 359.78 621.97)"/>
<rect width="42.81" height="1.37" opacity="0.86" transform="matrix(-0.290 -0.957 0.957 -0.290 340.05 585.31)"/>
<rect width="42.81" height="1.56" transform="matrix(-0.098 -0.995 0.995 -0.098 327.86 545.51)"/>
<rect width="42.81" height="1.73" transform="matrix(0.098 -0.995 0.995 0.098 323.66 504.1)"/>
<rect width="42.81" height="1.89" transform="matrix(0.290 -0.957 0.957 0.290 327.62 462.66)"/>
<rect width="42.81" height="2.02" transform="matrix(0.471 -0.882 0.882 0.471 339.6 422.79)"/>
<rect width="42.81" height="2.11" transform="matrix(0.634 -0.773 0.773 0.634 359.11 386.03)"/>
<rect width="42.81" height="2.18" transform="matrix(0.773 -0.634 0.634 0.773 385.43 353.78)"/>
<rect width="42.81" height="2.2" transform="matrix(0.882 -0.471 0.471 0.882 417.53 327.28)"/>
<rect width="42.81" height="2.19" transform="matrix(0.957 -0.290 0.290 0.957 454.19 307.55)"/>
<rect width="42.81" height="2.13" transform="matrix(0.995 -0.098 0.098 0.995 493.99 295.36)"/>
<rect width="45.68" height="2.05" transform="matrix(0.995 0.098 -0.098 0.995 535.4 276.52)"/>
<rect width="45.68" height="1.93" transform="matrix(0.957 0.290 -0.290 0.957 579.7 280.77)"/>
<rect width="45.68" height="1.78" transform="matrix(0.882 0.471 -0.471 0.882 622.31 293.57)"/>
<rect width="45.68" height="1.61" transform="matrix(0.773 0.634 -0.634 0.773 661.61 314.44)"/>
<rect width="45.68" height="1.42" transform="matrix(0.634 0.773 -0.773 0.634 696.08 342.58)"/>
<rect width="45.68" height="1.23" opacity="0.04" transform="matrix(0.471 0.882 -0.882 0.471 724.39 376.9)"/>
<rect width="45.68" height="1.37" opacity="0.86" transform="matrix(0.290 0.957 0.957 -0.290 745.47 416.09)"/>
<rect width="45.68" height="1.56" transform="matrix(0.098 0.995 0.995 -0.098 758.5 458.63)"/>
<rect width="45.68" height="1.73" transform="matrix(-0.098 0.995 0.995 0.098 762.98 502.9)"/>
<rect width="45.68" height="1.89" transform="matrix(-0.290 0.957 0.957 0.290 758.73 547.2)"/>
<rect width="45.68" height="2.02" transform="matrix(-0.471 0.882 0.882 0.471 745.93 589.81)"/>
<rect width="45.68" height="2.11" transform="matrix(-0.634 0.773 0.773 0.634 725.06 629.11)"/>
<rect width="45.68" height="2.18" transform="matrix(-0.773 0.634 0.634 0.773 696.92 663.58)"/>
<rect width="45.68" height="2.2" transform="matrix(-0.882 0.471 0.471 0.882 662.6 691.89)"/>
<rect width="45.68" height="2.19" transform="matrix(-0.957 0.290 0.290 0.957 623.41 712.97)"/>
<rect width="45.68" height="2.13" transform="matrix(-0.995 0.098 0.098 0.995 580.87 726)"/>
<rect width="45.68" height="2.05" transform="matrix(-0.995 -0.098 -0.098 0.995 536.6 730.48)"/>
<rect width="45.68" height="1.93" transform="matrix(-0.957 -0.290 -0.290 0.957 492.3 726.23)"/>
<rect width="45.68" height="1.78" transform="matrix(-0.882 -0.471 -0.471 0.882 449.69 713.43)"/>
<rect width="45.68" height="1.61" transform="matrix(-0.773 -0.634 -0.634 0.773 410.39 692.56)"/>
<rect width="45.68" height="1.42" transform="matrix(-0.634 -0.773 -0.773 0.634 375.92 664.42)"/>
<rect width="45.68" height="1.23" opacity="0.04" transform="matrix(-0.471 -0.882 -0.882 0.471 347.61 630.1)"/>
<rect width="45.68" height="1.37" opacity="0.86" transform="matrix(-0.290 -0.957 0.957 -0.290 326.53 590.91)"/>
<rect width="45.68" height="1.56" transform="matrix(-0.098 -0.995 0.995 -0.098 313.5 548.37)"/>
<rect width="45.68" height="1.73" transform="matrix(0.098 -0.995 0.995 0.098 309.02 504.1)"/>
<rect width="45.68" height="1.89" transform="matrix(0.290 -0.957 0.957 0.290 313.27 459.8)"/>
<rect width="45.68" height="2.02" transform="matrix(0.471 -0.882 0.882 0.471 326.07 417.19)"/>
<rect width="45.68" height="2.11" transform="matrix(0.634 -0.773 0.773 0.634 346.94 377.89)"/>
<rect width="45.68" height="2.18" transform="matrix(0.773 -0.634 0.634 0.773 375.08 343.42)"/>
<rect width="45.68" height="2.2" transform="matrix(0.882 -0.471 0.471 0.882 409.4 315.11)"/>
<rect width="45.68" height="2.19" transform="matrix(0.957 -0.290 0.290 0.957 448.59 294.03)"/>
<rect width="45.68" height="2.13" transform="matrix(0.995 -0.098 0.098 0.995 491.13 281)"/>
<rect width="47.12" height="2.05" transform="matrix(0.995 0.098 -0.098 0.995 535.4 269.2)"/>
<rect width="47.12" height="1.93" transform="matrix(0.957 0.290 -0.290 0.957 581.12 273.59)"/>
<rect width="47.12" height="1.78" transform="matrix(0.882 0.471 -0.471 0.882 625.11 286.81)"/>
<rect width="47.12" height="1.61" transform="matrix(0.773 0.634 -0.634 0.773 665.67 308.36)"/>
<rect width="47.12" height="1.42" transform="matrix(0.634 0.773 -0.773 0.634 701.25 337.4)"/>
<rect width="47.12" height="1.23" opacity="0.04" transform="matrix(0.471 0.882 -0.882 0.471 730.48 372.83)"/>
<rect width="47.12" height="1.37" opacity="0.86" transform="matrix(0.290 0.957 0.957 -0.290 752.24 413.29)"/>
<rect width="47.12" height="1.56" transform="matrix(0.098 0.995 0.995 -0.098 765.68 457.2)"/>
<rect width="47.12" height="1.73" transform="matrix(-0.098 0.995 0.995 0.098 770.3 502.9)"/>
<rect width="47.12" height="1.89" transform="matrix(-0.290 0.957 0.957 0.290 765.91 548.62)"/>
<rect width="47.12" height="2.02" transform="matrix(-0.471 0.882 0.882 0.471 752.69 592.61)"/>
<rect width="47.12" height="2.11" transform="matrix(-0.634 0.773 0.773 0.634 731.14 633.17)"/>
<rect width="47.12" height="2.18" transform="matrix(-0.773 0.634 0.634 0.773 702.1 668.75)"/>
<rect width="47.12" height="2.2" transform="matrix(-0.882 0.471 0.471 0.882 666.67 697.98)"/>
<rect width="47.12" height="2.19" transform="matrix(-0.957 0.290 0.290 0.957 626.21 719.74)"/>
<rect width="47.12" height="2.13" transform="matrix(-0.995 0.098 0.098 0.995 582.3 733.18)"/>
<rect width="47.12" height="2.05" transform="matrix(-0.995 -0.098 -0.098 0.995 536.6 737.8)"/>
<rect width="47.12" height="1.93" transform="matrix(-0.957 -0.290 -0.290 0.957 490.88 733.41)"/>
<rect width="47.12" height="1.78" transform="matrix(-0.882 -0.471 -0.471 0.882 446.89 720.19)"/>
<rect width="47.12" height="1.61" transform="matrix(-0.773 -0.634 -0.634 0.773 406.33 698.64)"/>
<rect width="47.12" height="1.42" transform="matrix(-0.634 -0.773 -0.773 0.634 370.75 669.6)"/>
<rect width="47.12" height="1.23" opacity="0.04" transform="matrix(-0.471 -0.882 -0.882 0.471 341.52 634.17)"/>
<rect width="47.12" height="1.37" opacity="0.86" transform="matrix(-0.290 -0.957 0.957 -0.290 319.76 593.71)"/>
<rect width="47.12" height="1.56" transform="matrix(-0.098 -0.995 0.995 -0.098 306.32 549.8)"/>
<rect width="47.12" height="1.73" transform="matrix(0.098 -0.995 0.995 0.098 301.7 504.1)"/>
<rect width="47.12" height="1.89" transform="matrix(0.290 -0.957 0.957 0.290 306.09 458.38)"/>
<rect width="47.12" height="2.02" transform="matrix(0.471 -0.882 0.882 0.471 319.31 414.39)"/>
<rect width="47.12" height="2.11" transform="matrix(0.634 -0.773 0.773 0.634 340.86 373.83)"/>
<rect width="47.12" height="2.18" transform="matrix(0.773 -0.634 0.634 0.773 369.9 338.25)"/>
<rect width="47.12" height="2.2" transform="matrix(0.882 -0.471 0.471 0.882 405.33 309.02)"/>
<rect width="47.12" height="2.19" transform="matrix(0.957 -0.290 0.290 0.957 445.79 287.26)"/>
<rect width="47.12" height="2.13" transform="matrix(0.995 -0.098 0.098 0.995 489.7 273.82)"/>
<rect width="48.55" height="2.05" transform="matrix(0.995 0.098 -0.098 0.995 535.4 261.88)"/>
<rect width="48.55" height="1.93" transform="matrix(0.957 0.290 -0.290 0.957 582.55 266.41)"/>
<rect width="48.55" height="1.78" transform="matrix(0.882 0.471 -0.471 0.882 627.91 280.04)"/>
<rect width="48.55" height="1.61" transform="matrix(0.773 0.634 -0.634 0.773 669.74 302.27)"/>
<rect width="48.55" height="1.42" transform="matrix(0.634 0.773 -0.773 0.634 706.43 332.23)"/>
<rect width="48.55" height="1.23" opacity="0.04" transform="matrix(0.471 0.882 -0.882 0.471 736.57 368.77)"/>
<rect width="48.55" height="1.37" opacity="0.86" transform="matrix(0.290 0.957 0.957 -0.290 759 410.48)"/>
<rect width="48.55" height="1.56" transform="matrix(0.098 0.995 0.995 -0.098 772.86 455.78)"/>
<rect width="48.55" height="1.73" transform="matrix(-0.098 0.995 0.995 0.098 777.62 502.9)"/>
<rect width="48.55" height="1.89" transform="matrix(-0.290 0.957 0.957 0.290 773.09 550.05)"/>
<rect width="48.55" height="2.02" transform="matrix(-0.471 0.882 0.882 0.471 759.46 595.41)"/>
<rect width="48.55" height="2.11" transform="matrix(-0.634 0.773 0.773 0.634 737.23 637.24)"/>
<rect width="48.55" height="2.18" transform="matrix(-0.773 0.634 0.634 0.773 707.27 673.93)"/>
<rect width="48.55" height="2.2" transform="matrix(-0.882 0.471 0.471 0.882 670.73 704.07)"/>
<rect width="48.55" height="2.19" transform="matrix(-0.957 0.290 0.290 0.957 629.02 726.5)"/>
<rect width="48.55" height="2.13" transform="matrix(-0.995 0.098 0.098 0.995 583.72 740.36)"/>
<rect width="48.55" height="2.05" transform="matrix(-0.995 -0.098 -0.098 0.995 536.6 745.12)"/>
<rect width="48.55" height="1.93" transform="matrix(-0.957 -0.290 -0.290 0.957 489.45 740.59)"/>
<rect width="48.55" height="1.78" transform="matrix(-0.882 -0.471 -0.471 0.882 444.09 726.96)"/>
<rect width="48.55" height="1.61" transform="matrix(-0.773 -0.634 -0.634 0.773 402.26 704.73)"/>
<rect width="48.55" height="1.42" transform="matrix(-0.634 -0.773 -0.773 0.634 365.57 674.77)"/>
<rect width="48.55" height="1.23" opacity="0.04" transform="matrix(-0.471 -0.882 -0.882 0.471 335.43 638.23)"/>
<rect width="48.55" height="1.37" opacity="0.86" transform="matrix(-0.290 -0.957 0.957 -0.290 313 596.52)"/>
<rect width="48.55" height="1.56" transform="matrix(-0.098 -0.995 0.995 -0.098 299.14 551.22)"/>
<rect width="48.55" height="1.73" transform="matrix(0.098 -0.995 0.995 0.098 294.38 504.1)"/>
<rect width="48.55" height="1.89" transform="matrix(0.290 -0.957 0.957 0.290 298.91 456.95)"/>
<rect width="48.55" height="2.02" transform="matrix(0.471 -0.882 0.882 0.471 312.54 411.59)"/>
<rect width="48.55" height="2.11" transform="matrix(0.634 -0.773 0.773 0.634 334.77 369.76)"/>
<rect width="48.55" height="2.18" transform="matrix(0.773 -0.634 0.634 0.773 364.73 333.07)"/>
<rect width="48.55" height="2.2" transform="matrix(0.882 -0.471 0.471 0.882 401.27 302.93)"/>
<rect width="48.55" height="2.19" transform="matrix(0.957 -0.290 0.290 0.957 442.98 280.5)"/>
<rect width="48.55" height="2.13" transform="matrix(0.995 -0.098 0.098 0.995 488.28 266.64)"/>
<rect width="49.99" height="2.05" transform="matrix(0.995 0.098 -0.098 0.995 535.4 254.56)"/>
<rect width="49.99" height="1.93" transform="matrix(0.957 0.290 -0.290 0.957 583.98 259.23)"/>
<rect width="49.99" height="1.78" transform="matrix(0.882 0.471 -0.471 0.882 630.71 273.28)"/>
<rect width="49.99" height="1.61" transform="matrix(0.773 0.634 -0.634 0.773 673.81 296.18)"/>
<rect width="49.99" height="1.42" transform="matrix(0.634 0.773 -0.773 0.634 711.6 327.05)"/>
<rect width="49.99" height="1.23" opacity="0.04" transform="matrix(0.471 0.882 -0.882 0.471 742.65 364.7)"/>
<rect width="49.99" height="1.37" opacity="0.86" transform="matrix(0.290 0.957 0.957 -0.290 765.76 407.68)"/>
<rect width="49.99" height="1.56" transform="matrix(0.098 0.995 0.995 -0.098 780.04 454.35)"/>
<rect width="49.99" height="1.73" transform="matrix(-0.098 0.995 0.995 0.098 784.94 502.9)"/>
<rect width="49.99" height="1.89" transform="matrix(-0.290 0.957 0.957 0.290 780.27 551.48)"/>
<rect width="49.99" height="2.02" transform="matrix(-0.471 0.882 0.882 0.471 766.22 598.21)"/>
<rect width="49.99" height="2.11" transform="matrix(-0.634 0.773 0.773 0.634 743.32 641.31)"/>
<rect width="49.99" height="2.18" transform="matrix(-0.773 0.634 0.634 0.773 712.45 679.1)"/>
<rect width="49.99" height="2.2" transform="matrix(-0.882 0.471 0.471 0.882 674.8 710.15)"/>
<rect width="49.99" height="2.19" transform="matrix(-0.957 0.290 0.290 0.957 631.82 733.26)"/>
<rect width="49.99" height="2.13" transform="matrix(-0.995 0.098 0.098 0.995 585.15 747.54)"/>
<rect width="49.99" height="2.05" transform="matrix(-0.995 -0.098 -0.098 0.995 536.6 752.44)"/>
<rect width="49.99" height="1.93" transform="matrix(-0.957 -0.290 -0.290 0.957 488.02 747.77)"/>
<rect width="49.99" height="1.78" transform="matrix(-0.882 -0.471 -0.471 0.882 441.29 733.72)"/>
<rect width="49.99" height="1.61" transform="matrix(-0.773 -0.634 -0.634 0.773 398.19 710.82)"/>
<rect width="49.99" height="1.42" transform="matrix(-0.634 -0.773 -0.773 0.634 360.4 679.95)"/>
<rect width="49.99" height="1.23" opacity="0.04" transform="matrix(-0.471 -0.882 -0.882 0.471 329.35 642.3)"/>
<rect width="49.99" height="1.37" opacity="0.86" transform="matrix(-0.290 -0.957 0.957 -0.290 306.24 599.32)"/>
<rect width="49.99" height="1.56" transform="matrix(-0.098 -0.995 0.995 -0.098 291.96 552.65)"/>
<rect width="49.99" height="1.73" transform="matrix(0.098 -0.995 0.995 0.098 287.06 504.1)"/>
<rect width="49.99" height="1.89" transform="matrix(0.290 -0.957 0.957 0.290 291.73 455.52)"/>
<rect width="49.99" height="2.02" transform="matrix(0.471 -0.882 0.882 0.471 305.78 408.79)"/>
<rect width="49.99" height="2.11" transform="matrix(0.634 -0.773 0.773 0.634 328.68 365.69)"/>
<rect width="49.99" height="2.18" transform="matrix(0.773 -0.634 0.634 0.773 359.55 327.9)"/>
<rect width="49.99" height="2.2" transform="matrix(0.882 -0.471 0.471 0.882 397.2 296.85)"/>
<rect width="49.99" height="2.19" transform="matrix(0.957 -0.290 0.290 0.957 440.18 273.74)"/>
<rect width="49.99" height="2.13" transform="matrix(0.995 -0.098 0.098 0.995 486.85 259.46)"/>
<rect width="52.86" height="2.05" transform="matrix(0.995 0.098 -0.098 0.995 535.4 239.92)"/>
<rect width="52.86" height="1.93" transform="matrix(0.957 0.290 -0.290 0.957 586.84 244.87)"/>
<rect width="52.86" height="1.78" transform="matrix(0.882 0.471 -0.471 0.882 636.32 259.76)"/>
<rect width="52.86" height="1.61" transform="matrix(0.773 0.634 -0.634 0.773 681.94 284.01)"/>
<rect width="52.86" height="1.42" transform="matrix(0.634 0.773 -0.773 0.634 721.96 316.7)"/>
<rect width="52.86" height="1.23" opacity="0.04" transform="matrix(0.471 0.882 -0.882 0.471 754.83 356.57)"/>
<rect width="52.86" height="1.37" opacity="0.86" transform="matrix(0.290 0.957 0.957 -0.290 779.29 402.08)"/>
<rect width="52.86" height="1.56" transform="matrix(0.098 0.995 0.995 -0.098 794.4 451.49)"/>
<rect width="52.86" height="1.73" transform="matrix(-0.098 0.995 0.995 0.098 799.58 502.9)"/>
<rect width="52.86" height="1.89" transform="matrix(-0.290 0.957 0.957 0.290 794.63 554.34)"/>
<rect width="52.86" height="2.02" transform="matrix(-0.471 0.882 0.882 0.471 779.74 603.82)"/>
<rect width="52.86" height="2.11" transform="matrix(-0.634 0.773 0.773 0.634 755.49 649.44)"/>
<rect width="52.86" height="2.18" transform="matrix(-0.773 0.634 0.634 0.773 722.8 689.46)"/>
<rect width="52.86" height="2.2" transform="matrix(-0.882 0.471 0.471 0.882 682.93 722.33)"/>
<rect width="52.86" height="2.19" transform="matrix(-0.957 0.290 0.290 0.957 637.42 746.79)"/>
<rect width="52.86" height="2.13" transform="matrix(-0.995 0.098 0.098 0.995 588.01 761.9)"/>
<rect width="52.86" height="2.05" transform="matrix(-0.995 -0.098 -0.098 0.995 536.6 767.08)"/>
<rect width="52.86" height="1.93" transform="matrix(-0.957 -0.290 -0.290 0.957 485.16 762.13)"/>
<rect width="52.86" height="1.78" transform="matrix(-0.882 -0.471 -0.471 0.882 435.68 747.24)"/>
<rect width="52.86" height="1.61" transform="matrix(-0.773 -0.634 -0.634 0.773 390.06 722.99)"/>
<rect width="52.86" height="1.42" transform="matrix(-0.634 -0.773 -0.773 0.634 350.04 690.3)"/>
<rect width="52.86" height="1.23" opacity="0.04" transform="matrix(-0.471 -0.882 -0.882 0.471 317.17 650.43)"/>
<rect width="52.86" height="1.37" opacity="0.86" transform="matrix(-0.290 -0.957 0.957 -0.290 292.71 604.92)"/>
<rect width="52.86" height="1.56" transform="matrix(-0.098 -0.995 0.995 -0.098 277.6 555.51)"/>
<rect width="52.86" height="1.73" transform="matrix(0.098 -0.995 0.995 0.098 272.42 504.1)"/>
<rect width="52.86" height="1.89" transform="matrix(0.290 -0.957 0.957 0.290 277.37 452.66)"/>
<rect width="52.86" height="2.02" transform="matrix(0.471 -0.882 0.882 0.471 292.26 403.18)"/>
<rect width="52.86" height="2.11" transform="matrix(0.634 -0.773 0.773 0.634 316.51 357.56)"/>
<rect width="52.86" height="2.18" transform="matrix(0.773 -0.634 0.634 0.773 349.2 317.54)"/>
<rect width="52.86" height="2.2" transform="matrix(0.882 -0.471 0.471 0.882 389.07 284.67)"/>
<rect width="52.86" height="2.19" transform="matrix(0.957 -0.290 0.290 0.957 434.58 260.21)"/>
<rect width="52.86" height="2.13" transform="matrix(0.995 -0.098 0.098 0.995 483.99 245.1)"/>
<rect width="54.29" height="2.05" transform="matrix(0.995 0.098 -0.098 0.995 535.4 232.6)"/>
<rect width="54.29" height="1.93" transform="matrix(0.957 0.290 -0.290 0.957 588.26 237.69)"/>
<rect width="54.29" height="1.78" transform="matrix(0.882 0.471 -0.471 0.882 639.12 252.99)"/>
<rect width="54.29" height="1.61" transform="matrix(0.773 0.634 -0.634 0.773 686.01 277.92)"/>
<rect width="54.29" height="1.42" transform="matrix(0.634 0.773 -0.773 0.634 727.13 311.52)"/>
<rect width="54.29" height="1.23" opacity="0.04" transform="matrix(0.471 0.882 -0.882 0.471 760.91 352.5)"/>
<rect width="54.29" height="1.37" opacity="0.86" transform="matrix(0.290 0.957 0.957 -0.290 786.05 399.28)"/>
<rect width="54.29" height="1.56" transform="matrix(0.098 0.995 0.995 -0.098 801.58 450.06)"/>
<rect width="54.29" height="1.73" transform="matrix(-0.098 0.995 0.995 0.098 806.9 502.9)"/>
<rect width="54.29" height="1.89" transform="matrix(-0.290 0.957 0.957 0.290 801.81 555.76)"/>
<rect width="54.29" height="2.02" transform="matrix(-0.471 0.882 0.882 0.471 786.51 606.62)"/>
<rect width="54.29" height="2.11" transform="matrix(-0.634 0.773 0.773 0.634 761.58 653.51)"/>
<rect width="54.29" height="2.18" transform="matrix(-0.773 0.634 0.634 0.773 727.98 694.63)"/>
<rect width="54.29" height="2.2" transform="matrix(-0.882 0.471 0.471 0.882 687 728.41)"/>
<rect width="54.29" height="2.19" transform="matrix(-0.957 0.290 0.290 0.957 640.22 753.55)"/>
<rect width="54.29" height="2.13" transform="matrix(-0.995 0.098 0.098 0.995 589.44 769.08)"/>
<rect width="54.29" height="2.05" transform="matrix(-0.995 -0.098 -0.098 0.995 536.6 774.4)"/>
<rect width="54.29" height="1.93" transform="matrix(-0.957 -0.290 -0.290 0.957 483.74 769.31)"/>
<rect width="54.29" height="1.78" transform="matrix(-0.882 -0.471 -0.471 0.882 432.88 754.01)"/>
<rect width="54.29" height="1.61" transform="matrix(-0.773 -0.634 -0.634 0.773 385.99 729.08)"/>
<rect width="54.29" height="1.42" transform="matrix(-0.634 -0.773 -0.773 0.634 344.87 695.48)"/>
<rect width="54.29" height="1.23" opacity="0.04" transform="matrix(-0.471 -0.882 -0.882 0.471 311.09 654.5)"/>
<rect width="54.29" height="1.37" opacity="0.86" transform="matrix(-0.290 -0.957 0.957 -0.290 285.95 607.72)"/>
<rect width="54.29" height="1.56" transform="matrix(-0.098 -0.995 0.995 -0.098 270.42 556.94)"/>
<rect width="54.29" height="1.73" transform="matrix(0.098 -0.995 0.995 0.098 265.1 504.1)"/>
<rect width="54.29" height="1.89" transform="matrix(0.290 -0.957 0.957 0.290 270.19 451.24)"/>
<rect width="54.29" height="2.02" transform="matrix(0.471 -0.882 0.882 0.471 285.49 400.38)"/>
<rect width="54.29" height="2.11" transform="matrix(0.634 -0.773 0.773 0.634 310.42 353.49)"/>
<rect width="54.29" height="2.18" transform="matrix(0.773 -0.634 0.634 0.773 344.02 312.37)"/>
<rect width="54.29" height="2.2" transform="matrix(0.882 -0.471 0.471 0.882 385 278.59)"/>
<rect width="54.29" height="2.19" transform="matrix(0.957 -0.290 0.290 0.957 431.78 253.45)"/>
<rect width="54.29" height="2.13" transform="matrix(0.995 -0.098 0.098 0.995 482.56 237.92)"/>
<rect width="55.73" height="2.05" transform="matrix(0.995 0.098 -0.098 0.995 535.4 225.28)"/>
<rect width="55.73" height="1.93" transform="matrix(0.957 0.290 -0.290 0.957 589.69 230.51)"/>
<rect width="55.73" height="1.78" transform="matrix(0.882 0.471 -0.471 0.882 641.92 246.23)"/>
<rect width="55.73" height="1.61" transform="matrix(0.773 0.634 -0.634 0.773 690.07 271.84)"/>
<rect width="55.73" height="1.42" transform="matrix(0.634 0.773 -0.773 0.634 732.31 306.35)"/>
<rect width="55.73" height="1.23" opacity="0.04" transform="matrix(0.471 0.882 -0.882 0.471 767 348.43)"/>
<rect width="55.73" height="1.37" opacity="0.86" transform="matrix(0.290 0.957 0.957 -0.290 792.81 396.48)"/>
<rect width="55.73" height="1.56" transform="matrix(0.098 0.995 0.995 -0.098 808.76 448.64)"/>
<rect width="55.73" height="1.73" transform="matrix(-0.098 0.995 0.995 0.098 814.22 502.9)"/>
<rect width="55.73" height="1.89" transform="matrix(-0.290 0.957 0.957 0.290 808.99 557.19)"/>
<rect width="55.73" height="2.02" transform="matrix(-0.471 0.882 0.882 0.471 793.27 609.42)"/>
<rect width="55.73" height="2.11" transform="matrix(-0.634 0.773 0.773 0.634 767.66 657.57)"/>
<rect width="55.73" height="2.18" transform="matrix(-0.773 0.634 0.634 0.773 733.15 699.81)"/>
<rect width="55.73" height="2.2" transform="matrix(-0.882 0.471 0.471 0.882 691.07 734.5)"/>
<rect width="55.73" height="2.19" transform="matrix(-0.957 0.290 0.290 0.957 643.02 760.31)"/>
<rect width="55.73" height="2.13" transform="matrix(-0.995 0.098 0.098 0.995 590.86 776.26)"/>
<rect width="55.73" height="2.05" transform="matrix(-0.995 -0.098 -0.098 0.995 536.6 781.72)"/>
<rect width="55.73" height="1.93" transform="matrix(-0.957 -0.290 -0.290 0.957 482.31 776.49)"/>
<rect width="55.73" height="1.78" transform="matrix(-0.882 -0.471 -0.471 0.882 430.08 760.77)"/>
<rect width="55.73" height="1.61" transform="matrix(-0.773 -0.634 -0.634 0.773 381.93 735.16)"/>
<rect width="55.73" height="1.42" transform="matrix(-0.634 -0.773 -0.773 0.634 339.69 700.65)"/>
<rect width="55.73" height="1.23" opacity="0.04" transform="matrix(-0.471 -0.882 -0.882 0.471 305 658.57)"/>
<rect width="55.73" height="1.37" opacity="0.86" transform="matrix(-0.290 -0.957 0.957 -0.290 279.19 610.52)"/>
<rect width="55.73" height="1.56" transform="matrix(-0.098 -0.995 0.995 -0.098 263.24 558.36)"/>
<rect width="55.73" height="1.73" transform="matrix(0.098 -0.995 0.995 0.098 257.78 504.1)"/>
<rect width="55.73" height="1.89" transform="matrix(0.290 -0.957 0.957 0.290 263.01 449.81)"/>
<rect width="55.73" height="2.02" transform="matrix(0.471 -0.882 0.882 0.471 278.73 397.58)"/>
<rect width="55.73" height="2.11" transform="matrix(0.634 -0.773 0.773 0.634 304.34 349.43)"/>
<rect width="55.73" height="2.18" transform="matrix(0.773 -0.634 0.634 0.773 338.85 307.19)"/>
<rect width="55.73" height="2.2" transform="matrix(0.882 -0.471 0.471 0.882 380.93 272.5)"/>
<rect width="55.73" height="2.19" transform="matrix(0.957 -0.290 0.290 0.957 428.98 246.69)"/>
<rect width="55.73" height="2.13" transform="matrix(0.995 -0.098 0.098 0.995 481.14 230.74)"/>
<rect width="57.16" height="2.05" transform="matrix(0.995 0.098 -0.098 0.995 535.4 217.96)"/>
<rect width="57.16" height="1.93" transform="matrix(0.957 0.290 -0.290 0.957 591.12 223.33)"/>
<rect width="57.16" height="1.78" transform="matrix(0.882 0.471 -0.471 0.882 644.72 239.47)"/>
<rect width="57.16" height="1.61" transform="matrix(0.773 0.634 -0.634 0.773 694.14 265.75)"/>
<rect width="57.16" height="1.42" transform="matrix(0.634 0.773 -0.773 0.634 737.48 301.17)"/>
<rect width="57.16" height="1.23" opacity="0.04" transform="matrix(0.471 0.882 -0.882 0.471 773.09 344.37)"/>
<rect width="57.16" height="1.37" opacity="0.86" transform="matrix(0.290 0.957 0.957 -0.290 799.57 393.68)"/>
<rect width="57.16" height="1.56" transform="matrix(0.098 0.995 0.995 -0.098 815.94 447.21)"/>
<rect width="57.16" height="1.73" transform="matrix(-0.098 0.995 0.995 0.098 821.54 502.9)"/>
<rect width="57.16" height="1.89" transform="matrix(-0.290 0.957 0.957 0.290 816.17 558.62)"/>
<rect width="57.16" height="2.02" transform="matrix(-0.471 0.882 0.882 0.471 800.03 612.22)"/>
<rect width="57.16" height="2.11" transform="matrix(-0.634 0.773 0.773 0.634 773.75 661.64)"/>
<rect width="57.16" height="2.18" transform="matrix(-0.773 0.634 0.634 0.773 738.33 704.98)"/>
<rect width="57.16" height="2.2" transform="matrix(-0.882 0.471 0.471 0.882 695.13 740.59)"/>
<rect width="57.16" height="2.19" transform="matrix(-0.957 0.290 0.290 0.957 645.82 767.07)"/>
<rect width="57.16" height="2.13" transform="matrix(-0.995 0.098 0.098 0.995 592.29 783.44)"/>
<rect width="57.16" height="2.05" transform="matrix(-0.995 -0.098 -0.098 0.995 536.6 789.04)"/>
<rect width="57.16" height="1.93" transform="matrix(-0.957 -0.290 -0.290 0.957 480.88 783.67)"/>
<rect width="57.16" height="1.78" transform="matrix(-0.882 -0.471 -0.471 0.882 427.28 767.53)"/>
<rect width="57.16" height="1.61" transform="matrix(-0.773 -0.634 -0.634 0.773 377.86 741.25)"/>
<rect width="57.16" height="1.42" transform="matrix(-0.634 -0.773 -0.773 0.634 334.52 705.83)"/>
<rect width="57.16" height="1.23" opacity="0.04" transform="matrix(-0.471 -0.882 -0.882 0.471 298.91 662.63)"/>
<rect width="57.16" height="1.37" opacity="0.86" transform="matrix(-0.290 -0.957 0.957 -0.290 272.43 613.32)"/>
<rect width="57.16" height="1.56" transform="matrix(-0.098 -0.995 0.995 -0.098 256.06 559.79)"/>
<rect width="57.16" height="1.73" transform="matrix(0.098 -0.995 0.995 0.098 250.46 504.1)"/>
<rect width="57.16" height="1.89" transform="matrix(0.290 -0.957 0.957 0.290 255.83 448.38)"/>
<rect width="57.16" height="2.02" transform="matrix(0.471 -0.882 0.882 0.471 271.97 394.78)"/>
<rect width="57.16" height="2.11" transform="matrix(0.634 -0.773 0.773 0.634 298.25 345.36)"/>
<rect width="57.16" height="2.18" transform="matrix(0.773 -0.634 0.634 0.773 333.67 302.02)"/>
<rect width="57.16" height="2.2" transform="matrix(0.882 -0.471 0.471 0.882 376.87 266.41)"/>
<rect width="57.16" height="2.19" transform="matrix(0.957 -0.290 0.290 0.957 426.18 239.93)"/>
<rect width="57.16" height="2.13" transform="matrix(0.995 -0.098 0.098 0.995 479.71 223.56)"/>
<rect width="60.03" height="2.05" transform="matrix(0.995 0.098 -0.098 0.995 535.4 203.32)"/>
<rect width="60.03" height="1.93" transform="matrix(0.957 0.290 -0.290 0.957 593.98 208.97)"/>
<rect width="60.03" height="1.78" transform="matrix(0.882 0.471 -0.471 0.882 650.32 225.94)"/>
<rect width="60.03" height="1.61" transform="matrix(0.773 0.634 -0.634 0.773 702.27 253.58)"/>
<rect width="60.03" height="1.42" transform="matrix(0.634 0.773 -0.773 0.634 747.84 290.82)"/>
<rect width="60.03" height="1.23" opacity="0.04" transform="matrix(0.471 0.882 -0.882 0.471 785.26 336.23)"/>
<rect width="60.03" height="1.37" opacity="0.86" transform="matrix(0.290 0.957 0.957 -0.290 813.1 388.07)"/>
<rect width="60.03" height="1.56" transform="matrix(0.098 0.995 0.995 -0.098 830.29 444.35)"/>
<rect width="60.03" height="1.73" transform="matrix(-0.098 0.995 0.995 0.098 836.18 502.9)"/>
<rect width="60.03" height="1.89" transform="matrix(-0.290 0.957 0.957 0.290 830.53 561.48)"/>
<rect width="60.03" height="2.02" transform="matrix(-0.471 0.882 0.882 0.471 813.56 617.82)"/>
<rect width="60.03" height="2.11" transform="matrix(-0.634 0.773 0.773 0.634 785.92 669.77)"/>
<rect width="60.03" height="2.18" transform="matrix(-0.773 0.634 0.634 0.773 748.68 715.34)"/>
<rect width="60.03" height="2.2" transform="matrix(-0.882 0.471 0.471 0.882 703.27 752.76)"/>
<rect width="60.03" height="2.19" transform="matrix(-0.957 0.290 0.290 0.957 651.43 780.6)"/>
<rect width="60.03" height="2.13" transform="matrix(-0.995 0.098 0.098 0.995 595.15 797.79)"/>
<rect width="60.03" height="2.05" transform="matrix(-0.995 -0.098 -0.098 0.995 536.6 803.68)"/>
<rect width="60.03" height="1.93" transform="matrix(-0.957 -0.290 -0.290 0.957 478.02 798.03)"/>
<rect width="60.03" height="1.78" transform="matrix(-0.882 -0.471 -0.471 0.882 421.68 781.06)"/>
<rect width="60.03" height="1.61" transform="matrix(-0.773 -0.634 -0.634 0.773 369.73 753.42)"/>
<rect width="60.03" height="1.42" transform="matrix(-0.634 -0.773 -0.773 0.634 324.16 716.18)"/>
<rect width="60.03" height="1.23" opacity="0.04" transform="matrix(-0.471 -0.882 -0.882 0.471 286.74 670.77)"/>
<rect width="60.03" height="1.37" opacity="0.86" transform="matrix(-0.290 -0.957 0.957 -0.290 258.9 618.93)"/>
<rect width="60.03" height="1.56" transform="matrix(-0.098 -0.995 0.995 -0.098 241.71 562.65)"/>
<rect width="60.03" height="1.73" transform="matrix(0.098 -0.995 0.995 0.098 235.82 504.1)"/>
<rect width="60.03" height="1.89" transform="matrix(0.290 -0.957 0.957 0.290 241.47 445.52)"/>
<rect width="60.03" height="2.02" transform="matrix(0.471 -0.882 0.882 0.471 258.44 389.18)"/>
<rect width="60.03" height="2.11" transform="matrix(0.634 -0.773 0.773 0.634 286.08 337.23)"/>
<rect width="60.03" height="2.18" transform="matrix(0.773 -0.634 0.634 0.773 323.32 291.66)"/>
<rect width="60.03" height="2.2" transform="matrix(0.882 -0.471 0.471 0.882 368.73 254.24)"/>
<rect width="60.03" height="2.19" transform="matrix(0.957 -0.290 0.290 0.957 420.57 226.4)"/>
<rect width="60.03" height="2.13" transform="matrix(0.995 -0.098 0.098 0.995 476.85 209.21)"/>
<rect width="61.47" height="2.05" transform="matrix(0.995 0.098 -0.098 0.995 535.4 196)"/>
<rect width="61.47" height="1.93" transform="matrix(0.957 0.290 -0.290 0.957 595.4 201.79)"/>
<rect width="61.47" height="1.78" transform="matrix(0.882 0.471 -0.471 0.882 653.12 219.18)"/>
<rect width="61.47" height="1.61" transform="matrix(0.773 0.634 -0.634 0.773 706.34 247.49)"/>
<rect width="61.47" height="1.42" transform="matrix(0.634 0.773 -0.773 0.634 753.01 285.64)"/>
<rect width="61.47" height="1.23" opacity="0.04" transform="matrix(0.471 0.882 -0.882 0.471 791.34 332.17)"/>
<rect width="61.47" height="1.37" opacity="0.86" transform="matrix(0.290 0.957 0.957 -0.290 819.86 385.27)"/>
<rect width="61.47" height="1.56" transform="matrix(0.098 0.995 0.995 -0.098 837.47 442.92)"/>
<rect width="61.47" height="1.73" transform="matrix(-0.098 0.995 0.995 0.098 843.5 502.9)"/>
<rect width="61.47" height="1.89" transform="matrix(-0.290 0.957 0.957 0.290 837.71 562.9)"/>
<rect width="61.47" height="2.02" transform="matrix(-0.471 0.882 0.882 0.471 820.32 620.62)"/>
<rect width="61.47" height="2.11" transform="matrix(-0.634 0.773 0.773 0.634 792.01 673.84)"/>
<rect width="61.47" height="2.18" transform="matrix(-0.773 0.634 0.634 0.773 753.86 720.51)"/>
<rect width="61.47" height="2.2" transform="matrix(-0.882 0.471 0.471 0.882 707.33 758.84)"/>
<rect width="61.47" height="2.19" transform="matrix(-0.957 0.290 0.290 0.957 654.23 787.36)"/>
<rect width="61.47" height="2.13" transform="matrix(-0.995 0.098 0.098 0.995 596.58 804.97)"/>
<rect width="61.47" height="2.05" transform="matrix(-0.995 -0.098 -0.098 0.995 536.6 811)"/>
<rect width="61.47" height="1.93" transform="matrix(-0.957 -0.290 -0.290 0.957 476.6 805.21)"/>
<rect width="61.47" height="1.78" transform="matrix(-0.882 -0.471 -0.471 0.882 418.88 787.82)"/>
<rect width="61.47" height="1.61" transform="matrix(-0.773 -0.634 -0.634 0.773 365.66 759.51)"/>
<rect width="61.47" height="1.42" transform="matrix(-0.634 -0.773 -0.773 0.634 318.99 721.36)"/>
<rect width="61.47" height="1.23" opacity="0.04" transform="matrix(-0.471 -0.882 -0.882 0.471 280.66 674.83)"/>
<rect width="61.47" height="1.37" opacity="0.86" transform="matrix(-0.290 -0.957 0.957 -0.290 252.14 621.73)"/>
<rect width="61.47" height="1.56" transform="matrix(-0.098 -0.995 0.995 -0.098 234.53 564.08)"/>
<rect width="61.47" height="1.73" transform="matrix(0.098 -0.995 0.995 0.098 228.5 504.1)"/>
<rect width="61.47" height="1.89" transform="matrix(0.290 -0.957 0.957 0.290 234.29 444.1)"/>
<rect width="61.47" height="2.02" transform="matrix(0.471 -0.882 0.882 0.471 251.68 386.38)"/>
<rect width="61.47" height="2.11" transform="matrix(0.634 -0.773 0.773 0.634 279.99 333.16)"/>
<rect width="61.47" height="2.18" transform="matrix(0.773 -0.634 0.634 0.773 318.14 286.49)"/>
<rect width="61.47" height="2.2" transform="matrix(0.882 -0.471 0.471 0.882 364.67 248.16)"/>
<rect width="61.47" height="2.19" transform="matrix(0.957 -0.290 0.290 0.957 417.77 219.64)"/>
<rect width="61.47" height="2.13" transform="matrix(0.995 -0.098 0.098 0.995 475.42 202.03)"/>
<rect width="62.9" height="2.05" transform="matrix(0.995 0.098 -0.098 0.995 535.4 188.68)"/>
<rect width="62.9" height="1.93" transform="matrix(0.957 0.290 -0.290 0.957 596.83 194.61)"/>
<rect width="62.9" height="1.78" transform="matrix(0.882 0.471 -0.471 0.882 655.92 212.42)"/>
<rect width="62.9" height="1.61" transform="matrix(0.773 0.634 -0.634 0.773 710.41 241.41)"/>
<rect width="62.9" height="1.42" transform="matrix(0.634 0.773 -0.773 0.634 758.19 280.47)"/>
<rect width="62.9" height="1.23" opacity="0.04" transform="matrix(0.471 0.882 -0.882 0.471 797.43 328.1)"/>
<rect width="62.9" height="1.37" opacity="0.86" transform="matrix(0.290 0.957 0.957 -0.290 826.63 382.47)"/>
<rect width="62.9" height="1.56" transform="matrix(0.098 0.995 0.995 -0.098 844.65 441.5)"/>
<rect width="62.9" height="1.73" transform="matrix(-0.098 0.995 0.995 0.098 850.82 502.9)"/>
<rect width="62.9" height="1.89" transform="matrix(-0.290 0.957 0.957 0.290 844.89 564.33)"/>
<rect width="62.9" height="2.02" transform="matrix(-0.471 0.882 0.882 0.471 827.08 623.42)"/>
<rect width="62.9" height="2.11" transform="matrix(-0.634 0.773 0.773 0.634 798.09 677.91)"/>
<rect width="62.9" height="2.18" transform="matrix(-0.773 0.634 0.634 0.773 759.03 725.69)"/>
<rect width="62.9" height="2.2" transform="matrix(-0.882 0.471 0.471 0.882 711.4 764.93)"/>
<rect width="62.9" height="2.19" transform="matrix(-0.957 0.290 0.290 0.957 657.03 794.13)"/>
<rect width="62.9" height="2.13" transform="matrix(-0.995 0.098 0.098 0.995 598 812.15)"/>
<rect width="62.9" height="2.05" transform="matrix(-0.995 -0.098 -0.098 0.995 536.6 818.32)"/>
<rect width="62.9" height="1.93" transform="matrix(-0.957 -0.290 -0.290 0.957 475.17 812.39)"/>
<rect width="62.9" height="1.78" transform="matrix(-0.882 -0.471 -0.471 0.882 416.08 794.58)"/>
<rect width="62.9" height="1.61" transform="matrix(-0.773 -0.634 -0.634 0.773 361.59 765.59)"/>
<rect width="62.9" height="1.42" transform="matrix(-0.634 -0.773 -0.773 0.634 313.81 726.53)"/>
<rect width="62.9" height="1.23" opacity="0.04" transform="matrix(-0.471 -0.882 -0.882 0.471 274.57 678.9)"/>
<rect width="62.9" height="1.37" opacity="0.86" transform="matrix(-0.290 -0.957 0.957 -0.290 245.37 624.53)"/>
<rect width="62.9" height="1.56" transform="matrix(-0.098 -0.995 0.995 -0.098 227.35 565.5)"/>
<rect width="62.9" height="1.73" transform="matrix(0.098 -0.995 0.995 0.098 221.18 504.1)"/>
<rect width="62.9" height="1.89" transform="matrix(0.290 -0.957 0.957 0.290 227.11 442.67)"/>
<rect width="62.9" height="2.02" transform="matrix(0.471 -0.882 0.882 0.471 244.92 383.58)"/>
<rect width="62.9" height="2.11" transform="matrix(0.634 -0.773 0.773 0.634 273.91 329.09)"/>
<rect width="62.9" height="2.18" transform="matrix(0.773 -0.634 0.634 0.773 312.97 281.31)"/>
<rect width="62.9" height="2.2" transform="matrix(0.882 -0.471 0.471 0.882 360.6 242.07)"/>
<rect width="62.9" height="2.19" transform="matrix(0.957 -0.290 0.290 0.957 414.97 212.87)"/>
<rect width="62.9" height="2.13" transform="matrix(0.995 -0.098 0.098 0.995 474 194.85)"/>
<rect width="64.34" height="2.05" transform="matrix(0.995 0.098 -0.098 0.995 535.4 181.36)"/>
<rect width="64.34" height="1.93" transform="matrix(0.957 0.290 -0.290 0.957 598.26 187.43)"/>
<rect width="64.34" height="1.78" transform="matrix(0.882 0.471 -0.471 0.882 658.73 205.65)"/>
<rect width="64.34" height="1.61" transform="matrix(0.773 0.634 -0.634 0.773 714.47 235.32)"/>
<rect width="64.34" height="1.42" transform="matrix(0.634 0.773 -0.773 0.634 763.36 275.29)"/>
<rect width="64.34" height="1.23" opacity="0.04" transform="matrix(0.471 0.882 -0.882 0.471 803.52 324.03)"/>
<rect width="64.34" height="1.37" opacity="0.86" transform="matrix(0.290 0.957 0.957 -0.290 833.39 379.67)"/>
<rect width="64.34" height="1.56" transform="matrix(0.098 0.995 0.995 -0.098 851.83 440.07)"/>
<rect width="64.34" height="1.73" transform="matrix(-0.098 0.995 0.995 0.098 858.14 502.9)"/>
<rect width="64.34" height="1.89" transform="matrix(-0.290 0.957 0.957 0.290 852.07 565.76)"/>
<rect width="64.34" height="2.02" transform="matrix(-0.471 0.882 0.882 0.471 833.85 626.23)"/>
<rect width="64.34" height="2.11" transform="matrix(-0.634 0.773 0.773 0.634 804.18 681.97)"/>
<rect width="64.34" height="2.18" transform="matrix(-0.773 0.634 0.634 0.773 764.21 730.86)"/>
<rect width="64.34" height="2.2" transform="matrix(-0.882 0.471 0.471 0.882 715.47 771.02)"/>
<rect width="64.34" height="2.19" transform="matrix(-0.957 0.290 0.290 0.957 659.83 800.89)"/>
<rect width="64.34" height="2.13" transform="matrix(-0.995 0.098 0.098 0.995 599.43 819.33)"/>
<rect width="64.34" height="2.05" transform="matrix(-0.995 -0.098 -0.098 0.995 536.6 825.64)"/>
<rect width="64.34" height="1.93" transform="matrix(-0.957 -0.290 -0.290 0.957 473.74 819.57)"/>
<rect width="64.34" height="1.78" transform="matrix(-0.882 -0.471 -0.471 0.882 413.27 801.35)"/>
<rect width="64.34" height="1.61" transform="matrix(-0.773 -0.634 -0.634 0.773 357.53 771.68)"/>
<rect width="64.34" height="1.42" transform="matrix(-0.634 -0.773 -0.773 0.634 308.64 731.71)"/>
<rect width="64.34" height="1.23" opacity="0.04" transform="matrix(-0.471 -0.882 -0.882 0.471 268.48 682.97)"/>
<rect width="64.34" height="1.37" opacity="0.86" transform="matrix(-0.290 -0.957 0.957 -0.290 238.61 627.33)"/>
<rect width="64.34" height="1.56" transform="matrix(-0.098 -0.995 0.995 -0.098 220.17 566.93)"/>
<rect width="64.34" height="1.73" transform="matrix(0.098 -0.995 0.995 0.098 213.86 504.1)"/>
<rect width="64.34" height="1.89" transform="matrix(0.290 -0.957 0.957 0.290 219.93 441.24)"/>
<rect width="64.34" height="2.02" transform="matrix(0.471 -0.882 0.882 0.471 238.15 380.77)"/>
<rect width="64.34" height="2.11" transform="matrix(0.634 -0.773 0.773 0.634 267.82 325.03)"/>
<rect width="64.34" height="2.18" transform="matrix(0.773 -0.634 0.634 0.773 307.79 276.14)"/>
<rect width="64.34" height="2.2" transform="matrix(0.882 -0.471 0.471 0.882 356.53 235.98)"/>
<rect width="64.34" height="2.19" transform="matrix(0.957 -0.290 0.290 0.957 412.17 206.11)"/>
<rect width="64.34" height="2.13" transform="matrix(0.995 -0.098 0.098 0.995 472.57 187.67)"/>
<rect width="67.21" height="2.05" transform="matrix(0.995 0.098 -0.098 0.995 535.4 166.72)"/>
<rect width="67.21" height="1.93" transform="matrix(0.957 0.290 -0.290 0.957 601.12 173.08)"/>
<rect width="67.21" height="1.78" transform="matrix(0.882 0.471 -0.471 0.882 664.33 192.13)"/>
<rect width="67.21" height="1.61" transform="matrix(0.773 0.634 -0.634 0.773 722.61 223.15)"/>
<rect width="67.21" height="1.42" transform="matrix(0.634 0.773 -0.773 0.634 773.72 264.94)"/>
<rect width="67.21" height="1.23" opacity="0.04" transform="matrix(0.471 0.882 -0.882 0.471 815.69 315.9)"/>
<rect width="67.21" height="1.37" opacity="0.86" transform="matrix(0.290 0.957 0.957 -0.290 846.91 374.07)"/>
<rect width="67.21" height="1.56" transform="matrix(0.098 0.995 0.995 -0.098 866.19 437.21)"/>
<rect width="67.21" height="1.73" transform="matrix(-0.098 0.995 0.995 0.098 872.78 502.9)"/>
<rect width="67.21" height="1.89" transform="matrix(-0.290 0.957 0.957 0.290 866.42 568.62)"/>
<rect width="67.21" height="2.02" transform="matrix(-0.471 0.882 0.882 0.471 847.37 631.83)"/>
<rect width="67.21" height="2.11" transform="matrix(-0.634 0.773 0.773 0.634 816.35 690.11)"/>
<rect width="67.21" height="2.18" transform="matrix(-0.773 0.634 0.634 0.773 774.56 741.22)"/>
<rect width="67.21" height="2.2" transform="matrix(-0.882 0.471 0.471 0.882 723.6 783.19)"/>
<rect width="67.21" height="2.19" transform="matrix(-0.957 0.290 0.290 0.957 665.43 814.41)"/>
<rect width="67.21" height="2.13" transform="matrix(-0.995 0.098 0.098 0.995 602.29 833.69)"/>
<rect width="67.21" height="2.05" transform="matrix(-0.995 -0.098 -0.098 0.995 536.6 840.28)"/>
<rect width="67.21" height="1.93" transform="matrix(-0.957 -0.290 -0.290 0.957 470.88 833.92)"/>
<rect width="67.21" height="1.78" transform="matrix(-0.882 -0.471 -0.471 0.882 407.67 814.87)"/>
<rect width="67.21" height="1.61" transform="matrix(-0.773 -0.634 -0.634 0.773 349.39 783.85)"/>
<rect width="67.21" height="1.42" transform="matrix(-0.634 -0.773 -0.773 0.634 298.28 742.06)"/>
<rect width="67.21" height="1.23" opacity="0.04" transform="matrix(-0.471 -0.882 -0.882 0.471 256.31 691.1)"/>
<rect width="67.21" height="1.37" opacity="0.86" transform="matrix(-0.290 -0.957 0.957 -0.290 225.09 632.93)"/>
<rect width="67.21" height="1.56" transform="matrix(-0.098 -0.995 0.995 -0.098 205.81 569.79)"/>
<rect width="67.21" height="1.73" transform="matrix(0.098 -0.995 0.995 0.098 199.22 504.1)"/>
<rect width="67.21" height="1.89" transform="matrix(0.290 -0.957 0.957 0.290 205.58 438.38)"/>
<rect width="67.21" height="2.02" transform="matrix(0.471 -0.882 0.882 0.471 224.63 375.17)"/>
<rect width="67.21" height="2.11" transform="matrix(0.634 -0.773 0.773 0.634 255.65 316.89)"/>
<rect width="67.21" height="2.18" transform="matrix(0.773 -0.634 0.634 0.773 297.44 265.78)"/>
<rect width="67.21" height="2.2" transform="matrix(0.882 -0.471 0.471 0.882 348.4 223.81)"/>
<rect width="67.21" height="2.19" transform="matrix(0.957 -0.290 0.290 0.957 406.57 192.59)"/>
<rect width="67.21" height="2.13" transform="matrix(0.995 -0.098 0.098 0.995 469.71 173.31)"/>
<rect width="68.64" height="2.05" transform="matrix(0.995 0.098 -0.098 0.995 535.4 159.4)"/>
<rect width="68.64" height="1.93" transform="matrix(0.957 0.290 -0.290 0.957 602.54 165.9)"/>
<rect width="68.64" height="1.78" transform="matrix(0.882 0.471 -0.471 0.882 667.13 185.37)"/>
<rect width="68.64" height="1.61" transform="matrix(0.773 0.634 -0.634 0.773 726.67 217.06)"/>
<rect width="68.64" height="1.42" transform="matrix(0.634 0.773 -0.773 0.634 778.89 259.76)"/>
<rect width="68.64" height="1.23" opacity="0.04" transform="matrix(0.471 0.882 -0.882 0.471 821.78 311.83)"/>
<rect width="68.64" height="1.37" opacity="0.86" transform="matrix(0.290 0.957 0.957 -0.290 853.68 371.27)"/>
<rect width="68.64" height="1.56" transform="matrix(0.098 0.995 0.995 -0.098 873.37 435.78)"/>
<rect width="68.64" height="1.73" transform="matrix(-0.098 0.995 0.995 0.098 880.1 502.9)"/>
<rect width="68.64" height="1.89" transform="matrix(-0.290 0.957 0.957 0.290 873.6 570.04)"/>
<rect width="68.64" height="2.02" transform="matrix(-0.471 0.882 0.882 0.471 854.13 634.63)"/>
<rect width="68.64" height="2.11" transform="matrix(-0.634 0.773 0.773 0.634 822.44 694.17)"/>
<rect width="68.64" height="2.18" transform="matrix(-0.773 0.634 0.634 0.773 779.74 746.39)"/>
<rect width="68.64" height="2.2" transform="matrix(-0.882 0.471 0.471 0.882 727.67 789.28)"/>
<rect width="68.64" height="2.19" transform="matrix(-0.957 0.290 0.290 0.957 668.23 821.18)"/>
<rect width="68.64" height="2.13" transform="matrix(-0.995 0.098 0.098 0.995 603.72 840.87)"/>
<rect width="68.64" height="2.05" transform="matrix(-0.995 -0.098 -0.098 0.995 536.6 847.6)"/>
<rect width="68.64" height="1.93" transform="matrix(-0.957 -0.290 -0.290 0.957 469.46 841.1)"/>
<rect width="68.64" height="1.78" transform="matrix(-0.882 -0.471 -0.471 0.882 404.87 821.63)"/>
<rect width="68.64" height="1.61" transform="matrix(-0.773 -0.634 -0.634 0.773 345.33 789.94)"/>
<rect width="68.64" height="1.42" transform="matrix(-0.634 -0.773 -0.773 0.634 293.11 747.24)"/>
<rect width="68.64" height="1.23" opacity="0.04" transform="matrix(-0.471 -0.882 -0.882 0.471 250.22 695.17)"/>
<rect width="68.64" height="1.37" opacity="0.86" transform="matrix(-0.290 -0.957 0.957 -0.290 218.32 635.73)"/>
<rect width="68.64" height="1.56" transform="matrix(-0.098 -0.995 0.995 -0.098 198.63 571.22)"/>
<rect width="68.64" height="1.73" transform="matrix(0.098 -0.995 0.995 0.098 191.9 504.1)"/>
<rect width="68.64" height="1.89" transform="matrix(0.290 -0.957 0.957 0.290 198.4 436.96)"/>
<rect width="68.64" height="2.02" transform="matrix(0.471 -0.882 0.882 0.471 217.87 372.37)"/>
<rect width="68.64" height="2.11" transform="matrix(0.634 -0.773 0.773 0.634 249.56 312.83)"/>
<rect width="68.64" height="2.18" transform="matrix(0.773 -0.634 0.634 0.773 292.26 260.61)"/>
<rect width="68.64" height="2.2" transform="matrix(0.882 -0.471 0.471 0.882 344.33 217.72)"/>
<rect width="68.64" height="2.19" transform="matrix(0.957 -0.290 0.290 0.957 403.77 185.82)"/>
<rect width="68.64" height="2.13" transform="matrix(0.995 -0.098 0.098 0.995 468.28 166.13)"/>
<rect width="70.08" height="2.05" transform="matrix(0.995 0.098 -0.098 0.995 535.4 152.08)"/>
<rect width="70.08" height="1.93" transform="matrix(0.957 0.290 -0.290 0.957 603.97 158.72)"/>
<rect width="70.08" height="1.78" transform="matrix(0.882 0.471 -0.471 0.882 669.93 178.6)"/>
<rect width="70.08" height="1.61" transform="matrix(0.773 0.634 -0.634 0.773 730.74 210.97)"/>
<rect width="70.08" height="1.42" transform="matrix(0.634 0.773 -0.773 0.634 784.07 254.59)"/>
<rect width="70.08" height="1.23" opacity="0.04" transform="matrix(0.471 0.882 -0.882 0.471 827.86 307.77)"/>
<rect width="70.08" height="1.37" opacity="0.86" transform="matrix(0.290 0.957 0.957 -0.290 860.44 368.47)"/>
<rect width="70.08" height="1.56" transform="matrix(0.098 0.995 0.995 -0.098 880.55 434.36)"/>
<rect width="70.08" height="1.73" transform="matrix(-0.098 0.995 0.995 0.098 887.42 502.9)"/>
<rect width="70.08" height="1.89" transform="matrix(-0.290 0.957 0.957 0.290 880.78 571.47)"/>
<rect width="70.08" height="2.02" transform="matrix(-0.471 0.882 0.882 0.471 860.9 637.43)"/>
<rect width="70.08" height="2.11" transform="matrix(-0.634 0.773 0.773 0.634 828.53 698.24)"/>
<rect width="70.08" height="2.18" transform="matrix(-0.773 0.634 0.634 0.773 784.91 751.57)"/>
<rect width="70.08" height="2.2" transform="matrix(-0.882 0.471 0.471 0.882 731.73 795.36)"/>
<rect width="70.08" height="2.19" transform="matrix(-0.957 0.290 0.290 0.957 671.03 827.94)"/>
<rect width="70.08" height="2.13" transform="matrix(-0.995 0.098 0.098 0.995 605.14 848.05)"/>
<rect width="70.08" height="2.05" transform="matrix(-0.995 -0.098 -0.098 0.995 536.6 854.92)"/>
<rect width="70.08" height="1.93" transform="matrix(-0.957 -0.290 -0.290 0.957 468.03 848.28)"/>
<rect width="70.08" height="1.78" transform="matrix(-0.882 -0.471 -0.471 0.882 402.07 828.4)"/>
<rect width="70.08" height="1.61" transform="matrix(-0.773 -0.634 -0.634 0.773 341.26 796.03)"/>
<rect width="70.08" height="1.42" transform="matrix(-0.634 -0.773 -0.773 0.634 287.93 752.41)"/>
<rect width="70.08" height="1.23" opacity="0.04" transform="matrix(-0.471 -0.882 -0.882 0.471 244.14 699.23)"/>
<rect width="70.08" height="1.37" opacity="0.86" transform="matrix(-0.290 -0.957 0.957 -0.290 211.56 638.53)"/>
<rect width="70.08" height="1.56" transform="matrix(-0.098 -0.995 0.995 -0.098 191.45 572.64)"/>
<rect width="70.08" height="1.73" transform="matrix(0.098 -0.995 0.995 0.098 184.58 504.1)"/>
<rect width="70.08" height="1.89" transform="matrix(0.290 -0.957 0.957 0.290 191.22 435.53)"/>
<rect width="70.08" height="2.02" transform="matrix(0.471 -0.882 0.882 0.471 211.1 369.57)"/>
<rect width="70.08" height="2.11" transform="matrix(0.634 -0.773 0.773 0.634 243.47 308.76)"/>
<rect width="70.08" height="2.18" transform="matrix(0.773 -0.634 0.634 0.773 287.09 255.43)"/>
<rect width="70.08" height="2.2" transform="matrix(0.882 -0.471 0.471 0.882 340.27 211.64)"/>
<rect width="70.08" height="2.19" transform="matrix(0.957 -0.290 0.290 0.957 400.97 179.06)"/>
<rect width="70.08" height="2.13" transform="matrix(0.995 -0.098 0.098 0.995 466.86 158.95)"/>
<rect width="71.51" height="2.05" transform="matrix(0.995 0.098 -0.098 0.995 535.4 144.76)"/>
<rect width="71.51" height="1.93" transform="matrix(0.957 0.290 -0.290 0.957 605.4 151.54)"/>
<rect width="71.51" height="1.78" transform="matrix(0.882 0.471 -0.471 0.882 672.73 171.84)"/>
<rect width="71.51" height="1.61" transform="matrix(0.773 0.634 -0.634 0.773 734.81 204.89)"/>
<rect width="71.51" height="1.42" transform="matrix(0.634 0.773 -0.773 0.634 789.24 249.41)"/>
<rect width="71.51" height="1.23" opacity="0.04" transform="matrix(0.471 0.882 -0.882 0.471 833.95 303.7)"/>
<rect width="71.51" height="1.37" opacity="0.86" transform="matrix(0.290 0.957 0.957 -0.290 867.2 365.66)"/>
<rect width="71.51" height="1.56" transform="matrix(0.098 0.995 0.995 -0.098 887.73 432.93)"/>
<rect width="71.51" height="1.73" transform="matrix(-0.098 0.995 0.995 0.098 894.74 502.9)"/>
<rect width="71.51" height="1.89" transform="matrix(-0.290 0.957 0.957 0.290 887.96 572.9)"/>
<rect width="71.51" height="2.02" transform="matrix(-0.471 0.882 0.882 0.471 867.66 640.23)"/>
<rect width="71.51" height="2.11" transform="matrix(-0.634 0.773 0.773 0.634 834.61 702.31)"/>
<rect width="71.51" height="2.18" transform="matrix(-0.773 0.634 0.634 0.773 790.09 756.74)"/>
<rect width="71.51" height="2.2" transform="matrix(-0.882 0.471 0.471 0.882 735.8 801.45)"/>
<rect width="71.51" height="2.19" transform="matrix(-0.957 0.290 0.290 0.957 673.84 834.7)"/>
<rect width="71.51" height="2.13" transform="matrix(-0.995 0.098 0.098 0.995 606.57 855.23)"/>
<rect width="71.51" height="2.05" transform="matrix(-0.995 -0.098 -0.098 0.995 536.6 862.24)"/>
<rect width="71.51" height="1.93" transform="matrix(-0.957 -0.290 -0.290 0.957 466.6 855.46)"/>
<rect width="71.51" height="1.78" transform="matrix(-0.882 -0.471 -0.471 0.882 399.27 835.16)"/>
<rect width="71.51" height="1.61" transform="matrix(-0.773 -0.634 -0.634 0.773 337.19 802.11)"/>
<rect width="71.51" height="1.42" transform="matrix(-0.634 -0.773 -0.773 0.634 282.76 757.59)"/>
<rect width="71.51" height="1.23" opacity="0.04" transform="matrix(-0.471 -0.882 -0.882 0.471 238.05 703.3)"/>
<rect width="71.51" height="1.37" opacity="0.86" transform="matrix(-0.290 -0.957 0.957 -0.290 204.8 641.34)"/>
<rect width="71.51" height="1.56" transform="matrix(-0.098 -0.995 0.995 -0.098 184.27 574.07)"/>
<rect width="71.51" height="1.73" transform="matrix(0.098 -0.995 0.995 0.098 177.26 504.1)"/>
<rect width="71.51" height="1.89" transform="matrix(0.290 -0.957 0.957 0.290 184.04 434.1)"/>
<rect width="71.51" height="2.02" transform="matrix(0.471 -0.882 0.882 0.471 204.34 366.77)"/>
<rect width="71.51" height="2.11" transform="matrix(0.634 -0.773 0.773 0.634 237.39 304.69)"/>
<rect width="71.51" height="2.18" transform="matrix(0.773 -0.634 0.634 0.773 281.91 250.26)"/>
<rect width="71.51" height="2.2" transform="matrix(0.882 -0.471 0.471 0.882 336.2 205.55)"/>
<rect width="71.51" height="2.19" transform="matrix(0.957 -0.290 0.290 0.957 398.16 172.3)"/>
<rect width="71.51" height="2.13" transform="matrix(0.995 -0.098 0.098 0.995 465.43 151.77)"/>
</g>
<g fill="url(#hl)">
<rect width="8.37" height="8.54" transform="matrix(0.995 0.098 -0.098 0.995 535.4 466.84)"/>
<rect width="8.37" height="8.18" transform="matrix(0.957 0.290 -0.290 0.957 542.57 467.43)"/>
<rect width="8.37" height="7.73" transform="matrix(0.882 0.471 -0.471 0.882 549.48 469.4)"/>
<rect width="8.37" height="7.22" transform="matrix(0.773 0.634 -0.634 0.773 555.87 472.69)"/>
<rect width="8.37" height="6.67" transform="matrix(0.634 0.773 -0.773 0.634 561.5 477.16)"/>
<rect width="8.37" height="6.08" opacity="0.04" transform="matrix(0.471 0.882 -0.882 0.471 566.15 482.64)"/>
<rect width="8.37" height="6.5" opacity="0.86" transform="matrix(0.290 0.957 0.957 -0.290 569.64 488.92)"/>
<rect width="8.37" height="7.07" transform="matrix(0.098 0.995 0.995 -0.098 571.84 495.76)"/>
<rect width="8.37" height="7.6" transform="matrix(-0.098 0.995 0.995 0.098 572.66 502.9)"/>
<rect width="8.37" height="8.06" transform="matrix(-0.290 0.957 0.957 0.290 572.07 510.07)"/>
<rect width="8.37" height="8.45" transform="matrix(-0.471 0.882 0.882 0.471 570.1 516.98)"/>
<rect width="8.37" height="8.74" transform="matrix(-0.634 0.773 0.773 0.634 566.81 523.37)"/>
<rect width="8.37" height="8.93" transform="matrix(-0.773 0.634 0.634 0.773 562.34 529)"/>
<rect width="8.37" height="9" transform="matrix(-0.882 0.471 0.471 0.882 556.86 533.65)"/>
<rect width="8.37" height="8.96" transform="matrix(-0.957 0.290 0.290 0.957 550.58 537.14)"/>
<rect width="8.37" height="8.8" transform="matrix(-0.995 0.098 0.098 0.995 543.74 539.34)"/>
<rect width="8.37" height="8.54" transform="matrix(-0.995 -0.098 -0.098 0.995 536.6 540.16)"/>
<rect width="8.37" height="8.18" transform="matrix(-0.957 -0.290 -0.290 0.957 529.43 539.57)"/>
<rect width="8.37" height="7.73" transform="matrix(-0.882 -0.471 -0.471 0.882 522.52 537.6)"/>
<rect width="8.37" height="7.22" transform="matrix(-0.773 -0.634 -0.634 0.773 516.13 534.31)"/>
<rect width="8.37" height="6.67" transform="matrix(-0.634 -0.773 -0.773 0.634 510.5 529.84)"/>
<rect width="8.37" height="6.08" opacity="0.04" transform="matrix(-0.471 -0.882 -0.882 0.471 505.85 524.36)"/>
<rect width="8.37" height="6.5" opacity="0.86" transform="matrix(-0.290 -0.957 0.957 -0.290 502.36 518.08)"/>
<rect width="8.37" height="7.07" transform="matrix(-0.098 -0.995 0.995 -0.098 500.16 511.24)"/>
<rect width="8.37" height="7.6" transform="matrix(0.098 -0.995 0.995 0.098 499.34 504.1)"/>
<rect width="8.37" height="8.06" transform="matrix(0.290 -0.957 0.957 0.290 499.93 496.93)"/>
<rect width="8.37" height="8.45" transform="matrix(0.471 -0.882 0.882 0.471 501.9 490.02)"/>
<rect width="8.37" height="8.74" transform="matrix(0.634 -0.773 0.773 0.634 505.19 483.63)"/>
<rect width="8.37" height="8.93" transform="matrix(0.773 -0.634 0.634 0.773 509.66 478)"/>
<rect width="8.37" height="9" transform="matrix(0.882 -0.471 0.471 0.882 515.14 473.35)"/>
<rect width="8.37" height="8.96" transform="matrix(0.957 -0.290 0.290 0.957 521.42 469.86)"/>
<rect width="8.37" height="8.8" transform="matrix(0.995 -0.098 0.098 0.995 528.26 467.66)"/>
<rect width="15.55" height="8.54" transform="matrix(0.995 0.098 -0.098 0.995 535.4 430.24)"/>
<rect width="15.55" height="8.18" transform="matrix(0.957 0.290 -0.290 0.957 549.71 431.53)"/>
<rect width="15.55" height="7.73" transform="matrix(0.882 0.471 -0.471 0.882 563.48 435.59)"/>
<rect width="15.55" height="7.22" transform="matrix(0.773 0.634 -0.634 0.773 576.2 442.26)"/>
<rect width="15.55" height="6.67" transform="matrix(0.634 0.773 -0.773 0.634 587.38 451.28)"/>
<rect width="15.55" height="6.08" opacity="0.04" transform="matrix(0.471 0.882 -0.882 0.471 596.58 462.3)"/>
<rect width="15.55" height="6.5" opacity="0.86" transform="matrix(0.290 0.957 0.957 -0.290 603.45 474.91)"/>
<rect width="15.55" height="7.07" transform="matrix(0.098 0.995 0.995 -0.098 607.73 488.62)"/>
<rect width="15.55" height="7.6" transform="matrix(-0.098 0.995 0.995 0.098 609.26 502.9)"/>
<rect width="15.55" height="8.06" transform="matrix(-0.290 0.957 0.957 0.290 607.97 517.21)"/>
<rect width="15.55" height="8.45" transform="matrix(-0.471 0.882 0.882 0.471 603.91 530.98)"/>
<rect width="15.55" height="8.74" transform="matrix(-0.634 0.773 0.773 0.634 597.24 543.7)"/>
<rect width="15.55" height="8.93" transform="matrix(-0.773 0.634 0.634 0.773 588.22 554.88)"/>
<rect width="15.55" height="9" transform="matrix(-0.882 0.471 0.471 0.882 577.2 564.08)"/>
<rect width="15.55" height="8.96" transform="matrix(-0.957 0.290 0.290 0.957 564.59 570.95)"/>
<rect width="15.55" height="8.8" transform="matrix(-0.995 0.098 0.098 0.995 550.88 575.23)"/>
<rect width="15.55" height="8.54" transform="matrix(-0.995 -0.098 -0.098 0.995 536.6 576.76)"/>
<rect width="15.55" height="8.18" transform="matrix(-0.957 -0.290 -0.290 0.957 522.29 575.47)"/>
<rect width="15.55" height="7.73" transform="matrix(-0.882 -0.471 -0.471 0.882 508.52 571.41)"/>
<rect width="15.55" height="7.22" transform="matrix(-0.773 -0.634 -0.634 0.773 495.8 564.74)"/>
<rect width="15.55" height="6.67" transform="matrix(-0.634 -0.773 -0.773 0.634 484.62 555.72)"/>
<rect width="15.55" height="6.08" opacity="0.04" transform="matrix(-0.471 -0.882 -0.882 0.471 475.42 544.7)"/>
<rect width="15.55" height="6.5" opacity="0.86" transform="matrix(-0.290 -0.957 0.957 -0.290 468.55 532.09)"/>
<rect width="15.55" height="7.07" transform="matrix(-0.098 -0.995 0.995 -0.098 464.27 518.38)"/>
<rect width="15.55" height="7.6" transform="matrix(0.098 -0.995 0.995 0.098 462.74 504.1)"/>
<rect width="15.55" height="8.06" transform="matrix(0.290 -0.957 0.957 0.290 464.03 489.79)"/>
<rect width="15.55" height="8.45" transform="matrix(0.471 -0.882 0.882 0.471 468.09 476.02)"/>
<rect width="15.55" height="8.74" transform="matrix(0.634 -0.773 0.773 0.634 474.76 463.3)"/>
<rect width="15.55" height="8.93" transform="matrix(0.773 -0.634 0.634 0.773 483.78 452.12)"/>
<rect width="15.55" height="9" transform="matrix(0.882 -0.471 0.471 0.882 494.8 442.92)"/>
<rect width="15.55" height="8.96" transform="matrix(0.957 -0.290 0.290 0.957 507.41 436.05)"/>
<rect width="15.55" height="8.8" transform="matrix(0.995 -0.098 0.098 0.995 521.12 431.77)"/>
<rect width="22.72" height="8.54" transform="matrix(0.995 0.098 -0.098 0.995 535.4 393.64)"/>
<rect width="22.72" height="8.18" transform="matrix(0.957 0.290 -0.290 0.957 556.85 395.64)"/>
<rect width="22.72" height="7.73" transform="matrix(0.882 0.471 -0.471 0.882 577.49 401.78)"/>
<rect width="22.72" height="7.22" transform="matrix(0.773 0.634 -0.634 0.773 596.54 411.82)"/>
<rect width="22.72" height="6.67" transform="matrix(0.634 0.773 -0.773 0.634 613.26 425.4)"/>
<rect width="22.72" height="6.08" opacity="0.04" transform="matrix(0.471 0.882 -0.882 0.471 627.01 441.97)"/>
<rect width="22.72" height="6.5" opacity="0.86" transform="matrix(0.290 0.957 0.957 -0.290 637.27 460.91)"/>
<rect width="22.72" height="7.07" transform="matrix(0.098 0.995 0.995 -0.098 643.63 481.48)"/>
<rect width="22.72" height="7.6" transform="matrix(-0.098 0.995 0.995 0.098 645.86 502.9)"/>
<rect width="22.72" height="8.06" transform="matrix(-0.290 0.957 0.957 0.290 643.86 524.35)"/>
<rect width="22.72" height="8.45" transform="matrix(-0.471 0.882 0.882 0.471 637.72 544.99)"/>
<rect width="22.72" height="8.74" transform="matrix(-0.634 0.773 0.773 0.634 627.68 564.04)"/>
<rect width="22.72" height="8.93" transform="matrix(-0.773 0.634 0.634 0.773 614.1 580.76)"/>
<rect width="22.72" height="9" transform="matrix(-0.882 0.471 0.471 0.882 597.53 594.51)"/>
<rect width="22.72" height="8.96" transform="matrix(-0.957 0.290 0.290 0.957 578.59 604.77)"/>
<rect width="22.72" height="8.8" transform="matrix(-0.995 0.098 0.098 0.995 558.02 611.13)"/>
<rect width="22.72" height="8.54" transform="matrix(-0.995 -0.098 -0.098 0.995 536.6 613.36)"/>
<rect width="22.72" height="8.18" transform="matrix(-0.957 -0.290 -0.290 0.957 515.15 611.36)"/>
<rect width="22.72" height="7.73" transform="matrix(-0.882 -0.471 -0.471 0.882 494.51 605.22)"/>
<rect width="22.72" height="7.22" transform="matrix(-0.773 -0.634 -0.634 0.773 475.46 595.18)"/>
<rect width="22.72" height="6.67" transform="matrix(-0.634 -0.773 -0.773 0.634 458.74 581.6)"/>
<rect width="22.72" height="6.08" opacity="0.04" transform="matrix(-0.471 -0.882 -0.882 0.471 444.99 565.03)"/>
<rect width="22.72" height="6.5" opacity="0.86" transform="matrix(-0.290 -0.957 0.957 -0.290 434.73 546.09)"/>
<rect width="22.72" height="7.07" transform="matrix(-0.098 -0.995 0.995 -0.098 428.37 525.52)"/>
<rect width="22.72" height="7.6" transform="matrix(0.098 -0.995 0.995 0.098 426.14 504.1)"/>
<rect width="22.72" height="8.06" transform="matrix(0.290 -0.957 0.957 0.290 428.14 482.65)"/>
<rect width="22.72" height="8.45" transform="matrix(0.471 -0.882 0.882 0.471 434.28 462.01)"/>
<rect width="22.72" height="8.74" transform="matrix(0.634 -0.773 0.773 0.634 444.32 442.96)"/>
<rect width="22.72" height="8.93" transform="matrix(0.773 -0.634 0.634 0.773 457.9 426.24)"/>
<rect width="22.72" height="9" transform="matrix(0.882 -0.471 0.471 0.882 474.47 412.49)"/>
<rect width="22.72" height="8.96" transform="matrix(0.957 -0.290 0.290 0.957 493.41 402.23)"/>
<rect width="22.72" height="8.8" transform="matrix(0.995 -0.098 0.098 0.995 513.98 395.87)"/>
<rect width="29.9" height="8.54" transform="matrix(0.995 0.098 -0.098 0.995 535.4 357.04)"/>
<rect width="29.9" height="8.18" transform="matrix(0.957 0.290 -0.290 0.957 563.99 359.74)"/>
<rect width="29.9" height="7.73" transform="matrix(0.882 0.471 -0.471 0.882 591.5 367.96)"/>
<rect width="29.9" height="7.22" transform="matrix(0.773 0.634 -0.634 0.773 616.87 381.39)"/>
<rect width="29.9" height="6.67" transform="matrix(0.634 0.773 -0.773 0.634 639.14 399.52)"/>
<rect width="29.9" height="6.08" opacity="0.04" transform="matrix(0.471 0.882 -0.882 0.471 657.44 421.64)"/>
<rect width="29.9" height="6.5" opacity="0.86" transform="matrix(0.290 0.957 0.957 -0.290 671.08 446.9)"/>
<rect width="29.9" height="7.07" transform="matrix(0.098 0.995 0.995 -0.098 679.53 474.34)"/>
<rect width="29.9" height="7.6" transform="matrix(-0.098 0.995 0.995 0.098 682.46 502.9)"/>
<rect width="29.9" height="8.06" transform="matrix(-0.290 0.957 0.957 0.290 679.76 531.49)"/>
<rect width="29.9" height="8.45" transform="matrix(-0.471 0.882 0.882 0.471 671.54 559)"/>
<rect width="29.9" height="8.74" transform="matrix(-0.634 0.773 0.773 0.634 658.11 584.37)"/>
<rect width="29.9" height="8.93" transform="matrix(-0.773 0.634 0.634 0.773 639.98 606.64)"/>
<rect width="29.9" height="9" transform="matrix(-0.882 0.471 0.471 0.882 617.86 624.94)"/>
<rect width="29.9" height="8.96" transform="matrix(-0.957 0.290 0.290 0.957 592.6 638.58)"/>
<rect width="29.9" height="8.8" transform="matrix(-0.995 0.098 0.098 0.995 565.16 647.03)"/>
<rect width="29.9" height="8.54" transform="matrix(-0.995 -0.098 -0.098 0.995 536.6 649.96)"/>
<rect width="29.9" height="8.18" transform="matrix(-0.957 -0.290 -0.290 0.957 508.01 647.26)"/>
<rect width="29.9" height="7.73" transform="matrix(-0.882 -0.471 -0.471 0.882 480.5 639.04)"/>
<rect width="29.9" height="7.22" transform="matrix(-0.773 -0.634 -0.634 0.773 455.13 625.61)"/>
<rect width="29.9" height="6.67" transform="matrix(-0.634 -0.773 -0.773 0.634 432.86 607.48)"/>
<rect width="29.9" height="6.08" opacity="0.04" transform="matrix(-0.471 -0.882 -0.882 0.471 414.56 585.36)"/>
<rect width="29.9" height="6.5" opacity="0.86" transform="matrix(-0.290 -0.957 0.957 -0.290 400.92 560.1)"/>
<rect width="29.9" height="7.07" transform="matrix(-0.098 -0.995 0.995 -0.098 392.47 532.66)"/>
<rect width="29.9" height="7.6" transform="matrix(0.098 -0.995 0.995 0.098 389.54 504.1)"/>
<rect width="29.9" height="8.06" transform="matrix(0.290 -0.957 0.957 0.290 392.24 475.51)"/>
<rect width="29.9" height="8.45" transform="matrix(0.471 -0.882 0.882 0.471 400.46 448)"/>
<rect width="29.9" height="8.74" transform="matrix(0.634 -0.773 0.773 0.634 413.89 422.63)"/>
<rect width="29.9" height="8.93" transform="matrix(0.773 -0.634 0.634 0.773 432.02 400.36)"/>
<rect width="29.9" height="9" transform="matrix(0.882 -0.471 0.471 0.882 454.14 382.06)"/>
<rect width="29.9" height="8.96" transform="matrix(0.957 -0.290 0.290 0.957 479.4 368.42)"/>
<rect width="29.9" height="8.8" transform="matrix(0.995 -0.098 0.098 0.995 506.84 359.97)"/>
<rect width="37.07" height="8.54" transform="matrix(0.995 0.098 -0.098 0.995 535.4 320.44)"/>
<rect width="37.07" height="8.18" transform="matrix(0.957 0.290 -0.290 0.957 571.13 323.84)"/>
<rect width="37.07" height="7.73" transform="matrix(0.882 0.471 -0.471 0.882 605.5 334.15)"/>
<rect width="37.07" height="7.22" transform="matrix(0.773 0.634 -0.634 0.773 637.21 350.96)"/>
<rect width="37.07" height="6.67" transform="matrix(0.634 0.773 -0.773 0.634 665.02 373.64)"/>
<rect width="37.07" height="6.08" opacity="0.04" transform="matrix(0.471 0.882 -0.882 0.471 687.88 401.3)"/>
<rect width="37.07" height="6.5" opacity="0.86" transform="matrix(0.290 0.957 0.957 -0.290 704.9 432.89)"/>
<rect width="37.07" height="7.07" transform="matrix(0.098 0.995 0.995 -0.098 715.42 467.2)"/>
<rect width="37.07" height="7.6" transform="matrix(-0.098 0.995 0.995 0.098 719.06 502.9)"/>
<rect width="37.07" height="8.06" transform="matrix(-0.290 0.957 0.957 0.290 715.66 538.63)"/>
<rect width="37.07" height="8.45" transform="matrix(-0.471 0.882 0.882 0.471 705.35 573)"/>
<rect width="37.07" height="8.74" transform="matrix(-0.634 0.773 0.773 0.634 688.54 604.71)"/>
<rect width="37.07" height="8.93" transform="matrix(-0.773 0.634 0.634 0.773 665.86 632.52)"/>
<rect width="37.07" height="9" transform="matrix(-0.882 0.471 0.471 0.882 638.2 655.38)"/>
<rect width="37.07" height="8.96" transform="matrix(-0.957 0.290 0.290 0.957 606.61 672.4)"/>
<rect width="37.07" height="8.8" transform="matrix(-0.995 0.098 0.098 0.995 572.3 682.92)"/>
<rect width="37.07" height="8.54" transform="matrix(-0.995 -0.098 -0.098 0.995 536.6 686.56)"/>
<rect width="37.07" height="8.18" transform="matrix(-0.957 -0.290 -0.290 0.957 500.87 683.16)"/>
<rect width="37.07" height="7.73" transform="matrix(-0.882 -0.471 -0.471 0.882 466.5 672.85)"/>
<rect width="37.07" height="7.22" transform="matrix(-0.773 -0.634 -0.634 0.773 434.79 656.04)"/>
<rect width="37.07" height="6.67" transform="matrix(-0.634 -0.773 -0.773 0.634 406.98 633.36)"/>
<rect width="37.07" height="6.08" opacity="0.04" transform="matrix(-0.471 -0.882 -0.882 0.471 384.12 605.7)"/>
<rect width="37.07" height="6.5" opacity="0.86" transform="matrix(-0.290 -0.957 0.957 -0.290 367.1 574.11)"/>
<rect width="37.07" height="7.07" transform="matrix(-0.098 -0.995 0.995 -0.098 356.58 539.8)"/>
<rect width="37.07" height="7.6" transform="matrix(0.098 -0.995 0.995 0.098 352.94 504.1)"/>
<rect width="37.07" height="8.06" transform="matrix(0.290 -0.957 0.957 0.290 356.34 468.37)"/>
<rect width="37.07" height="8.45" transform="matrix(0.471 -0.882 0.882 0.471 366.65 434)"/>
<rect width="37.07" height="8.74" transform="matrix(0.634 -0.773 0.773 0.634 383.46 402.29)"/>
<rect width="37.07" height="8.93" transform="matrix(0.773 -0.634 0.634 0.773 406.14 374.48)"/>
<rect width="37.07" height="9" transform="matrix(0.882 -0.471 0.471 0.882 433.8 351.62)"/>
<rect width="37.07" height="8.96" transform="matrix(0.957 -0.290 0.290 0.957 465.39 334.6)"/>
<rect width="37.07" height="8.8" transform="matrix(0.995 -0.098 0.098 0.995 499.7 324.08)"/>
<rect width="44.25" height="8.54" transform="matrix(0.995 0.098 -0.098 0.995 535.4 283.84)"/>
<rect width="44.25" height="8.18" transform="matrix(0.957 0.290 -0.290 0.957 578.27 287.95)"/>
<rect width="44.25" height="7.73" transform="matrix(0.882 0.471 -0.471 0.882 619.51 300.33)"/>
<rect width="44.25" height="7.22" transform="matrix(0.773 0.634 -0.634 0.773 657.54 320.53)"/>
<rect width="44.25" height="6.67" transform="matrix(0.634 0.773 -0.773 0.634 690.9 347.76)"/>
<rect width="44.25" height="6.08" opacity="0.04" transform="matrix(0.471 0.882 -0.882 0.471 718.31 380.97)"/>
<rect width="44.25" height="6.5" opacity="0.86" transform="matrix(0.290 0.957 0.957 -0.290 738.71 418.89)"/>
<rect width="44.25" height="7.07" transform="matrix(0.098 0.995 0.995 -0.098 751.32 460.06)"/>
<rect width="44.25" height="7.6" transform="matrix(-0.098 0.995 0.995 0.098 755.66 502.9)"/>
<rect width="44.25" height="8.06" transform="matrix(-0.290 0.957 0.957 0.290 751.55 545.77)"/>
<rect width="44.25" height="8.45" transform="matrix(-0.471 0.882 0.882 0.471 739.17 587.01)"/>
<rect width="44.25" height="8.74" transform="matrix(-0.634 0.773 0.773 0.634 718.97 625.04)"/>
<rect width="44.25" height="8.93" transform="matrix(-0.773 0.634 0.634 0.773 691.74 658.4)"/>
<rect width="44.25" height="9" transform="matrix(-0.882 0.471 0.471 0.882 658.53 685.81)"/>
<rect width="44.25" height="8.96" transform="matrix(-0.957 0.290 0.290 0.957 620.61 706.21)"/>
<rect width="44.25" height="8.8" transform="matrix(-0.995 0.098 0.098 0.995 579.44 718.82)"/>
<rect width="44.25" height="8.54" transform="matrix(-0.995 -0.098 -0.098 0.995 536.6 723.16)"/>
<rect width="44.25" height="8.18" transform="matrix(-0.957 -0.290 -0.290 0.957 493.73 719.05)"/>
<rect width="44.25" height="7.73" transform="matrix(-0.882 -0.471 -0.471 0.882 452.49 706.67)"/>
<rect width="44.25" height="7.22" transform="matrix(-0.773 -0.634 -0.634 0.773 414.46 686.47)"/>
<rect width="44.25" height="6.67" transform="matrix(-0.634 -0.773 -0.773 0.634 381.1 659.24)"/>
<rect width="44.25" height="6.08" opacity="0.04" transform="matrix(-0.471 -0.882 -0.882 0.471 353.69 626.03)"/>
<rect width="44.25" height="6.5" opacity="0.86" transform="matrix(-0.290 -0.957 0.957 -0.290 333.29 588.11)"/>
<rect width="44.25" height="7.07" transform="matrix(-0.098 -0.995 0.995 -0.098 320.68 546.94)"/>
<rect width="44.25" height="7.6" transform="matrix(0.098 -0.995 0.995 0.098 316.34 504.1)"/>
<rect width="44.25" height="8.06" transform="matrix(0.290 -0.957 0.957 0.290 320.45 461.23)"/>
<rect width="44.25" height="8.45" transform="matrix(0.471 -0.882 0.882 0.471 332.83 419.99)"/>
<rect width="44.25" height="8.74" transform="matrix(0.634 -0.773 0.773 0.634 353.03 381.96)"/>
<rect width="44.25" height="8.93" transform="matrix(0.773 -0.634 0.634 0.773 380.26 348.6)"/>
<rect width="44.25" height="9" transform="matrix(0.882 -0.471 0.471 0.882 413.47 321.19)"/>
<rect width="44.25" height="8.96" transform="matrix(0.957 -0.290 0.290 0.957 451.39 300.79)"/>
<rect width="44.25" height="8.8" transform="matrix(0.995 -0.098 0.098 0.995 492.56 288.18)"/>
<rect width="51.42" height="8.54" transform="matrix(0.995 0.098 -0.098 0.995 535.4 247.24)"/>
<rect width="51.42" height="8.18" transform="matrix(0.957 0.290 -0.290 0.957 585.41 252.05)"/>
<rect width="51.42" height="7.73" transform="matrix(0.882 0.471 -0.471 0.882 633.51 266.52)"/>
<rect width="51.42" height="7.22" transform="matrix(0.773 0.634 -0.634 0.773 677.87 290.1)"/>
<rect width="51.42" height="6.67" transform="matrix(0.634 0.773 -0.773 0.634 716.78 321.88)"/>
<rect width="51.42" height="6.08" opacity="0.04" transform="matrix(0.471 0.882 -0.882 0.471 748.74 360.63)"/>
<rect width="51.42" height="6.5" opacity="0.86" transform="matrix(0.290 0.957 0.957 -0.290 772.52 404.88)"/>
<rect width="51.42" height="7.07" transform="matrix(0.098 0.995 0.995 -0.098 787.22 452.92)"/>
<rect width="51.42" height="7.6" transform="matrix(-0.098 0.995 0.995 0.098 792.26 502.9)"/>
<rect width="51.42" height="8.06" transform="matrix(-0.290 0.957 0.957 0.290 787.45 552.91)"/>
<rect width="51.42" height="8.45" transform="matrix(-0.471 0.882 0.882 0.471 772.98 601.01)"/>
<rect width="51.42" height="8.74" transform="matrix(-0.634 0.773 0.773 0.634 749.4 645.37)"/>
<rect width="51.42" height="8.93" transform="matrix(-0.773 0.634 0.634 0.773 717.62 684.28)"/>
<rect width="51.42" height="9" transform="matrix(-0.882 0.471 0.471 0.882 678.87 716.24)"/>
<rect width="51.42" height="8.96" transform="matrix(-0.957 0.290 0.290 0.957 634.62 740.02)"/>
<rect width="51.42" height="8.8" transform="matrix(-0.995 0.098 0.098 0.995 586.58 754.72)"/>
<rect width="51.42" height="8.54" transform="matrix(-0.995 -0.098 -0.098 0.995 536.6 759.76)"/>
<rect width="51.42" height="8.18" transform="matrix(-0.957 -0.290 -0.290 0.957 486.59 754.95)"/>
<rect width="51.42" height="7.73" transform="matrix(-0.882 -0.471 -0.471 0.882 438.49 740.48)"/>
<rect width="51.42" height="7.22" transform="matrix(-0.773 -0.634 -0.634 0.773 394.13 716.9)"/>
<rect width="51.42" height="6.67" transform="matrix(-0.634 -0.773 -0.773 0.634 355.22 685.12)"/>
<rect width="51.42" height="6.08" opacity="0.04" transform="matrix(-0.471 -0.882 -0.882 0.471 323.26 646.37)"/>
<rect width="51.42" height="6.5" opacity="0.86" transform="matrix(-0.290 -0.957 0.957 -0.290 299.48 602.12)"/>
<rect width="51.42" height="7.07" transform="matrix(-0.098 -0.995 0.995 -0.098 284.78 554.08)"/>
<rect width="51.42" height="7.6" transform="matrix(0.098 -0.995 0.995 0.098 279.74 504.1)"/>
<rect width="51.42" height="8.06" transform="matrix(0.290 -0.957 0.957 0.290 284.55 454.09)"/>
<rect width="51.42" height="8.45" transform="matrix(0.471 -0.882 0.882 0.471 299.02 405.99)"/>
<rect width="51.42" height="8.74" transform="matrix(0.634 -0.773 0.773 0.634 322.6 361.63)"/>
<rect width="51.42" height="8.93" transform="matrix(0.773 -0.634 0.634 0.773 354.38 322.72)"/>
<rect width="51.42" height="9" transform="matrix(0.882 -0.471 0.471 0.882 393.13 290.76)"/>
<rect width="51.42" height="8.96" transform="matrix(0.957 -0.290 0.290 0.957 437.38 266.98)"/>
<rect width="51.42" height="8.8" transform="matrix(0.995 -0.098 0.098 0.995 485.42 252.28)"/>
<rect width="58.6" height="8.54" transform="matrix(0.995 0.098 -0.098 0.995 535.4 210.64)"/>
<rect width="58.6" height="8.18" transform="matrix(0.957 0.290 -0.290 0.957 592.55 216.15)"/>
<rect width="58.6" height="7.73" transform="matrix(0.882 0.471 -0.471 0.882 647.52 232.71)"/>
<rect width="58.6" height="7.22" transform="matrix(0.773 0.634 -0.634 0.773 698.21 259.67)"/>
<rect width="58.6" height="6.67" transform="matrix(0.634 0.773 -0.773 0.634 742.66 296)"/>
<rect width="58.6" height="6.08" opacity="0.04" transform="matrix(0.471 0.882 -0.882 0.471 779.17 340.3)"/>
<rect width="58.6" height="6.5" opacity="0.86" transform="matrix(0.290 0.957 0.957 -0.290 806.34 390.88)"/>
<rect width="58.6" height="7.07" transform="matrix(0.098 0.995 0.995 -0.098 823.12 445.78)"/>
<rect width="58.6" height="7.6" transform="matrix(-0.098 0.995 0.995 0.098 828.86 502.9)"/>
<rect width="58.6" height="8.06" transform="matrix(-0.290 0.957 0.957 0.290 823.35 560.05)"/>
<rect width="58.6" height="8.45" transform="matrix(-0.471 0.882 0.882 0.471 806.79 615.02)"/>
<rect width="58.6" height="8.74" transform="matrix(-0.634 0.773 0.773 0.634 779.83 665.71)"/>
<rect width="58.6" height="8.93" transform="matrix(-0.773 0.634 0.634 0.773 743.5 710.16)"/>
<rect width="58.6" height="9" transform="matrix(-0.882 0.471 0.471 0.882 699.2 746.67)"/>
<rect width="58.6" height="8.96" transform="matrix(-0.957 0.290 0.290 0.957 648.62 773.84)"/>
<rect width="58.6" height="8.8" transform="matrix(-0.995 0.098 0.098 0.995 593.72 790.62)"/>
<rect width="58.6" height="8.54" transform="matrix(-0.995 -0.098 -0.098 0.995 536.6 796.36)"/>
<rect width="58.6" height="8.18" transform="matrix(-0.957 -0.290 -0.290 0.957 479.45 790.85)"/>
<rect width="58.6" height="7.73" transform="matrix(-0.882 -0.471 -0.471 0.882 424.48 774.29)"/>
<rect width="58.6" height="7.22" transform="matrix(-0.773 -0.634 -0.634 0.773 373.79 747.33)"/>
<rect width="58.6" height="6.67" transform="matrix(-0.634 -0.773 -0.773 0.634 329.34 711)"/>
<rect width="58.6" height="6.08" opacity="0.04" transform="matrix(-0.471 -0.882 -0.882 0.471 292.83 666.7)"/>
<rect width="58.6" height="6.5" opacity="0.86" transform="matrix(-0.290 -0.957 0.957 -0.290 265.66 616.12)"/>
<rect width="58.6" height="7.07" transform="matrix(-0.098 -0.995 0.995 -0.098 248.88 561.22)"/>
<rect width="58.6" height="7.6" transform="matrix(0.098 -0.995 0.995 0.098 243.14 504.1)"/>
<rect width="58.6" height="8.06" transform="matrix(0.290 -0.957 0.957 0.290 248.65 446.95)"/>
<rect width="58.6" height="8.45" transform="matrix(0.471 -0.882 0.882 0.471 265.21 391.98)"/>
<rect width="58.6" height="8.74" transform="matrix(0.634 -0.773 0.773 0.634 292.17 341.29)"/>
<rect width="58.6" height="8.93" transform="matrix(0.773 -0.634 0.634 0.773 328.5 296.84)"/>
<rect width="58.6" height="9" transform="matrix(0.882 -0.471 0.471 0.882 372.8 260.33)"/>
<rect width="58.6" height="8.96" transform="matrix(0.957 -0.290 0.290 0.957 423.38 233.16)"/>
<rect width="58.6" height="8.8" transform="matrix(0.995 -0.098 0.098 0.995 478.28 216.38)"/>
<rect width="65.77" height="8.54" transform="matrix(0.995 0.098 -0.098 0.995 535.4 174.04)"/>
<rect width="65.77" height="8.18" transform="matrix(0.957 0.290 -0.290 0.957 599.69 180.26)"/>
<rect width="65.77" height="7.73" transform="matrix(0.882 0.471 -0.471 0.882 661.53 198.89)"/>
<rect width="65.77" height="7.22" transform="matrix(0.773 0.634 -0.634 0.773 718.54 229.23)"/>
<rect width="65.77" height="6.67" transform="matrix(0.634 0.773 -0.773 0.634 768.54 270.12)"/>
<rect width="65.77" height="6.08" opacity="0.04" transform="matrix(0.471 0.882 -0.882 0.471 809.6 319.97)"/>
<rect width="65.77" height="6.5" opacity="0.86" transform="matrix(0.290 0.957 0.957 -0.290 840.15 376.87)"/>
<rect width="65.77" height="7.07" transform="matrix(0.098 0.995 0.995 -0.098 859.01 438.64)"/>
<rect width="65.77" height="7.6" transform="matrix(-0.098 0.995 0.995 0.098 865.46 502.9)"/>
<rect width="65.77" height="8.06" transform="matrix(-0.290 0.957 0.957 0.290 859.24 567.19)"/>
<rect width="65.77" height="8.45" transform="matrix(-0.471 0.882 0.882 0.471 840.61 629.03)"/>
<rect width="65.77" height="8.74" transform="matrix(-0.634 0.773 0.773 0.634 810.27 686.04)"/>
<rect width="65.77" height="8.93" transform="matrix(-0.773 0.634 0.634 0.773 769.38 736.04)"/>
<rect width="65.77" height="9" transform="matrix(-0.882 0.471 0.471 0.882 719.53 777.1)"/>
<rect width="65.77" height="8.96" transform="matrix(-0.957 0.290 0.290 0.957 662.63 807.65)"/>
<rect width="65.77" height="8.8" transform="matrix(-0.995 0.098 0.098 0.995 600.86 826.51)"/>
<rect width="65.77" height="8.54" transform="matrix(-0.995 -0.098 -0.098 0.995 536.6 832.96)"/>
<rect width="65.77" height="8.18" transform="matrix(-0.957 -0.290 -0.290 0.957 472.31 826.74)"/>
<rect width="65.77" height="7.73" transform="matrix(-0.882 -0.471 -0.471 0.882 410.47 808.11)"/>
<rect width="65.77" height="7.22" transform="matrix(-0.773 -0.634 -0.634 0.773 353.46 777.77)"/>
<rect width="65.77" height="6.67" transform="matrix(-0.634 -0.773 -0.773 0.634 303.46 736.88)"/>
<rect width="65.77" height="6.08" opacity="0.04" transform="matrix(-0.471 -0.882 -0.882 0.471 262.4 687.03)"/>
<rect width="65.77" height="6.5" opacity="0.86" transform="matrix(-0.290 -0.957 0.957 -0.290 231.85 630.13)"/>
<rect width="65.77" height="7.07" transform="matrix(-0.098 -0.995 0.995 -0.098 212.99 568.36)"/>
<rect width="65.77" height="7.6" transform="matrix(0.098 -0.995 0.995 0.098 206.54 504.1)"/>
<rect width="65.77" height="8.06" transform="matrix(0.290 -0.957 0.957 0.290 212.76 439.81)"/>
<rect width="65.77" height="8.45" transform="matrix(0.471 -0.882 0.882 0.471 231.39 377.97)"/>
<rect width="65.77" height="8.74" transform="matrix(0.634 -0.773 0.773 0.634 261.73 320.96)"/>
<rect width="65.77" height="8.93" transform="matrix(0.773 -0.634 0.634 0.773 302.62 270.96)"/>
<rect width="65.77" height="9" transform="matrix(0.882 -0.471 0.471 0.882 352.47 229.9)"/>
<rect width="65.77" height="8.96" transform="matrix(0.957 -0.290 0.290 0.957 409.37 199.35)"/>
<rect width="65.77" height="8.8" transform="matrix(0.995 -0.098 0.098 0.995 471.14 180.49)"/>
<rect width="72.95" height="8.54" transform="matrix(0.995 0.098 -0.098 0.995 535.4 137.44)"/>
<rect width="72.95" height="8.18" transform="matrix(0.957 0.290 -0.290 0.957 606.83 144.36)"/>
<rect width="72.95" height="7.73" transform="matrix(0.882 0.471 -0.471 0.882 675.53 165.08)"/>
<rect width="72.95" height="7.22" transform="matrix(0.773 0.634 -0.634 0.773 738.87 198.8)"/>
<rect width="72.95" height="6.67" transform="matrix(0.634 0.773 -0.773 0.634 794.42 244.24)"/>
<rect width="72.95" height="6.08" opacity="0.04" transform="matrix(0.471 0.882 -0.882 0.471 840.04 299.63)"/>
<rect width="72.95" height="6.5" opacity="0.86" transform="matrix(0.290 0.957 0.957 -0.290 873.97 362.86)"/>
<rect width="72.95" height="7.07" transform="matrix(0.098 0.995 0.995 -0.098 894.91 431.5)"/>
<rect width="72.95" height="7.6" transform="matrix(-0.098 0.995 0.995 0.098 902.06 502.9)"/>
<rect width="72.95" height="8.06" transform="matrix(-0.290 0.957 0.957 0.290 895.14 574.33)"/>
<rect width="72.95" height="8.45" transform="matrix(-0.471 0.882 0.882 0.471 874.42 643.03)"/>
<rect width="72.95" height="8.74" transform="matrix(-0.634 0.773 0.773 0.634 840.7 706.37)"/>
<rect width="72.95" height="8.93" transform="matrix(-0.773 0.634 0.634 0.773 795.26 761.92)"/>
<rect width="72.95" height="9" transform="matrix(-0.882 0.471 0.471 0.882 739.87 807.54)"/>
<rect width="72.95" height="8.96" transform="matrix(-0.957 0.290 0.290 0.957 676.64 841.47)"/>
<rect width="72.95" height="8.8" transform="matrix(-0.995 0.098 0.098 0.995 608 862.41)"/>
<rect width="72.95" height="8.54" transform="matrix(-0.995 -0.098 -0.098 0.995 536.6 869.56)"/>
<rect width="72.95" height="8.18" transform="matrix(-0.957 -0.290 -0.290 0.957 465.17 862.64)"/>
<rect width="72.95" height="7.73" transform="matrix(-0.882 -0.471 -0.471 0.882 396.47 841.92)"/>
<rect width="72.95" height="7.22" transform="matrix(-0.773 -0.634 -0.634 0.773 333.13 808.2)"/>
<rect width="72.95" height="6.67" transform="matrix(-0.634 -0.773 -0.773 0.634 277.58 762.76)"/>
<rect width="72.95" height="6.08" opacity="0.04" transform="matrix(-0.471 -0.882 -0.882 0.471 231.96 707.37)"/>
<rect width="72.95" height="6.5" opacity="0.86" transform="matrix(-0.290 -0.957 0.957 -0.290 198.03 644.14)"/>
<rect width="72.95" height="7.07" transform="matrix(-0.098 -0.995 0.995 -0.098 177.09 575.5)"/>
<rect width="72.95" height="7.6" transform="matrix(0.098 -0.995 0.995 0.098 169.94 504.1)"/>
<rect width="72.95" height="8.06" transform="matrix(0.290 -0.957 0.957 0.290 176.86 432.67)"/>
<rect width="72.95" height="8.45" transform="matrix(0.471 -0.882 0.882 0.471 197.58 363.97)"/>
<rect width="72.95" height="8.74" transform="matrix(0.634 -0.773 0.773 0.634 231.3 300.63)"/>
<rect width="72.95" height="8.93" transform="matrix(0.773 -0.634 0.634 0.773 276.74 245.08)"/>
<rect width="72.95" height="9" transform="matrix(0.882 -0.471 0.471 0.882 332.13 199.46)"/>
<rect width="72.95" height="8.96" transform="matrix(0.957 -0.290 0.290 0.957 395.36 165.53)"/>
<rect width="72.95" height="8.8" transform="matrix(0.995 -0.098 0.098 0.995 464 144.59)"/>
</g>
<g fill="none" filter="url(#bm)">
<polygon points="536,496.18 537.43,496.32 538.8,496.74 540.07,497.41 541.18,498.32 542.09,499.43 542.76,500.7 543.18,502.07 543.32,503.5 543.18,504.93 542.76,506.3 542.09,507.57 541.18,508.68 540.07,509.59 538.8,510.26 537.43,510.68 536,510.82 534.57,510.68 533.2,510.26 531.93,509.59 530.82,508.68 529.91,507.57 529.24,506.3 528.82,504.93 528.68,503.5 528.82,502.07 529.24,500.7 529.91,499.43 530.82,498.32 531.93,497.41 533.2,496.74 534.57,496.32" stroke="#eaeaea" stroke-width="1.1"/>
<polygon points="536,488.86 538.86,489.14 541.6,489.97 544.13,491.33 546.35,493.15 548.17,495.37 549.53,497.9 550.36,500.64 550.64,503.5 550.36,506.36 549.53,509.1 548.17,511.63 546.35,513.85 544.13,515.67 541.6,517.03 538.86,517.86 536,518.14 533.14,517.86 530.4,517.03 527.87,515.67 525.65,513.85 523.83,511.63 522.47,509.1 521.64,506.36 521.36,503.5 521.64,500.64 522.47,497.9 523.83,495.37 525.65,493.15 527.87,491.33 530.4,489.97 533.14,489.14" stroke="#eaeaea" stroke-width="1.1"/>
<polygon points="536,481.54 540.28,481.96 544.4,483.21 548.2,485.24 551.53,487.97 554.26,491.3 556.29,495.1 557.54,499.22 557.96,503.5 557.54,507.78 556.29,511.9 554.26,515.7 551.53,519.03 548.2,521.76 544.4,523.79 540.28,525.04 536,525.46 531.72,525.04 527.6,523.79 523.8,521.76 520.47,519.03 517.74,515.7 515.71,511.9 514.46,507.78 514.04,503.5 514.46,499.22 515.71,495.1 517.74,491.3 520.47,487.97 523.8,485.24 527.6,483.21 531.72,481.96" stroke="#eaeaea" stroke-width="1.1"/>
<polygon points="536,474.22 541.71,474.78 547.2,476.45 552.27,479.15 556.7,482.8 560.35,487.23 563.05,492.3 564.72,497.79 565.28,503.5 564.72,509.21 563.05,514.7 560.35,519.77 556.7,524.2 552.27,527.85 547.2,530.55 541.71,532.22 536,532.78 530.29,532.22 524.8,530.55 519.73,527.85 515.3,524.2 511.65,519.77 508.95,514.7 507.28,509.21 506.72,503.5 507.28,497.79 508.95,492.3 511.65,487.23 515.3,482.8 519.73,479.15 524.8,476.45 530.29,474.78" stroke="#eaeaea" stroke-width="1.1"/>
<polygon points="536,459.58 544.57,460.42 552.81,462.92 560.4,466.98 567.06,472.44 572.52,479.1 576.58,486.69 579.08,494.93 579.92,503.5 579.08,512.07 576.58,520.31 572.52,527.9 567.06,534.56 560.4,540.02 552.81,544.08 544.57,546.58 536,547.42 527.43,546.58 519.19,544.08 511.6,540.02 504.94,534.56 499.48,527.9 495.42,520.31 492.92,512.07 492.08,503.5 492.92,494.93 495.42,486.69 499.48,479.1 504.94,472.44 511.6,466.98 519.19,462.92 527.43,460.42" stroke="#eaeaea" stroke-width="1.1"/>
<polygon points="536,452.26 546,453.24 555.61,456.16 564.47,460.9 572.23,467.27 578.6,475.03 583.34,483.89 586.26,493.5 587.24,503.5 586.26,513.5 583.34,523.11 578.6,531.97 572.23,539.73 564.47,546.1 555.61,550.84 546,553.76 536,554.74 526,553.76 516.39,550.84 507.53,546.1 499.77,539.73 493.4,531.97 488.66,523.11 485.74,513.5 484.76,503.5 485.74,493.5 488.66,483.89 493.4,475.03 499.77,467.27 507.53,460.9 516.39,456.16 526,453.24" stroke="#eaeaea" stroke-width="1.1"/>
<polygon points="536,444.94 547.42,446.07 558.41,449.4 568.53,454.81 577.41,462.09 584.69,470.97 590.1,481.09 593.43,492.08 594.56,503.5 593.43,514.92 590.1,525.91 584.69,536.03 577.41,544.91 568.53,552.19 558.41,557.6 547.42,560.93 536,562.06 524.58,560.93 513.59,557.6 503.47,552.19 494.59,544.91 487.31,536.03 481.9,525.91 478.57,514.92 477.44,503.5 478.57,492.08 481.9,481.09 487.31,470.97 494.59,462.09 503.47,454.81 513.59,449.4 524.58,446.07" stroke="#eaeaea" stroke-width="1.1"/>
<polygon points="536,437.62 548.85,438.89 561.21,442.63 572.6,448.72 582.58,456.92 590.78,466.9 596.87,478.29 600.61,490.65 601.88,503.5 600.61,516.35 596.87,528.71 590.78,540.1 582.58,550.08 572.6,558.28 561.21,564.37 548.85,568.11 536,569.38 523.15,568.11 510.79,564.37 499.4,558.28 489.42,550.08 481.22,540.1 475.13,528.71 471.39,516.35 470.12,503.5 471.39,490.65 475.13,478.29 481.22,466.9 489.42,456.92 499.4,448.72 510.79,442.63 523.15,438.89" stroke="#eaeaea" stroke-width="1.1"/>
<polygon points="536,422.98 551.71,424.53 566.81,429.11 580.73,436.55 592.94,446.56 602.95,458.77 610.39,472.69 614.97,487.79 616.52,503.5 614.97,519.21 610.39,534.31 602.95,548.23 592.94,560.44 580.73,570.45 566.81,577.89 551.71,582.47 536,584.02 520.29,582.47 505.19,577.89 491.27,570.45 479.06,560.44 469.05,548.23 461.61,534.31 457.03,519.21 455.48,503.5 457.03,487.79 461.61,472.69 469.05,458.77 479.06,446.56 491.27,436.55 505.19,429.11 520.29,424.53" stroke="#eaeaea" stroke-width="1.1"/>
<polygon points="536,415.66 553.14,417.35 569.61,422.35 584.8,430.46 598.11,441.39 609.04,454.7 617.15,469.89 622.15,486.36 623.84,503.5 622.15,520.64 617.15,537.11 609.04,552.3 598.11,565.61 584.8,576.54 569.61,584.65 553.14,589.65 536,591.34 518.86,589.65 502.39,584.65 487.2,576.54 473.89,565.61 462.96,552.3 454.85,537.11 449.85,520.64 448.16,503.5 449.85,486.36 454.85,469.89 462.96,454.7 473.89,441.39 487.2,430.46 502.39,422.35 518.86,417.35" stroke="#eaeaea" stroke-width="1.1"/>
<polygon points="536,408.34 554.56,410.17 572.42,415.58 588.87,424.38 603.29,436.21 615.12,450.63 623.92,467.08 629.33,484.94 631.16,503.5 629.33,522.06 623.92,539.92 615.12,556.37 603.29,570.79 588.87,582.62 572.42,591.42 554.56,596.83 536,598.66 517.44,596.83 499.58,591.42 483.13,582.62 468.71,570.79 456.88,556.37 448.08,539.92 442.67,522.06 440.84,503.5 442.67,484.94 448.08,467.08 456.88,450.63 468.71,436.21 483.13,424.38 499.58,415.58 517.44,410.17" stroke="#eaeaea" stroke-width="1.1"/>
<polygon points="536,401.02 555.99,402.99 575.22,408.82 592.93,418.29 608.46,431.04 621.21,446.57 630.68,464.28 636.51,483.51 638.48,503.5 636.51,523.49 630.68,542.72 621.21,560.43 608.46,575.96 592.93,588.71 575.22,598.18 555.99,604.01 536,605.98 516.01,604.01 496.78,598.18 479.07,588.71 463.54,575.96 450.79,560.43 441.32,542.72 435.49,523.49 433.52,503.5 435.49,483.51 441.32,464.28 450.79,446.57 463.54,431.04 479.07,418.29 496.78,408.82 516.01,402.99" stroke="#eaeaea" stroke-width="1.1"/>
<polygon points="536,386.38 558.85,388.63 580.82,395.3 601.07,406.12 618.82,420.68 633.38,438.43 644.2,458.68 650.87,480.65 653.12,503.5 650.87,526.35 644.2,548.32 633.38,568.57 618.82,586.32 601.07,600.88 580.82,611.7 558.85,618.37 536,620.62 513.15,618.37 491.18,611.7 470.93,600.88 453.18,586.32 438.62,568.57 427.8,548.32 421.13,526.35 418.88,503.5 421.13,480.65 427.8,458.68 438.62,438.43 453.18,420.68 470.93,406.12 491.18,395.3 513.15,388.63" stroke="#eaeaea" stroke-width="1.1"/>
<polygon points="536,379.06 560.28,381.45 583.62,388.53 605.14,400.03 623.99,415.51 639.47,434.36 650.97,455.88 658.05,479.22 660.44,503.5 658.05,527.78 650.97,551.12 639.47,572.64 623.99,591.49 605.14,606.97 583.62,618.47 560.28,625.55 536,627.94 511.72,625.55 488.38,618.47 466.86,606.97 448.01,591.49 432.53,572.64 421.03,551.12 413.95,527.78 411.56,503.5 413.95,479.22 421.03,455.88 432.53,434.36 448.01,415.51 466.86,400.03 488.38,388.53 511.72,381.45" stroke="#eaeaea" stroke-width="1.1"/>
<polygon points="536,371.74 561.71,374.27 586.42,381.77 609.2,393.95 629.17,410.33 645.55,430.3 657.73,453.08 665.23,477.79 667.76,503.5 665.23,529.21 657.73,553.92 645.55,576.7 629.17,596.67 609.2,613.05 586.42,625.23 561.71,632.73 536,635.26 510.29,632.73 485.58,625.23 462.8,613.05 442.83,596.67 426.45,576.7 414.27,553.92 406.77,529.21 404.24,503.5 406.77,477.79 414.27,453.08 426.45,430.3 442.83,410.33 462.8,393.95 485.58,381.77 510.29,374.27" stroke="#eaeaea" stroke-width="1.1"/>
<polygon points="536,364.42 563.13,367.09 589.22,375.01 613.27,387.86 634.34,405.16 651.64,426.23 664.49,450.28 672.41,476.37 675.08,503.5 672.41,530.63 664.49,556.72 651.64,580.77 634.34,601.84 613.27,619.14 589.22,631.99 563.13,639.91 536,642.58 508.87,639.91 482.78,631.99 458.73,619.14 437.66,601.84 420.36,580.77 407.51,556.72 399.59,530.63 396.92,503.5 399.59,476.37 407.51,450.28 420.36,426.23 437.66,405.16 458.73,387.86 482.78,375.01 508.87,367.09" stroke="#eaeaea" stroke-width="1.1"/>
<polygon points="536,349.78 565.99,352.73 594.83,361.48 621.4,375.69 644.7,394.8 663.81,418.1 678.02,444.67 686.77,473.51 689.72,503.5 686.77,533.49 678.02,562.33 663.81,588.9 644.7,612.2 621.4,631.31 594.83,645.52 565.99,654.27 536,657.22 506.01,654.27 477.17,645.52 450.6,631.31 427.3,612.2 408.19,588.9 393.98,562.33 385.23,533.49 382.28,503.5 385.23,473.51 393.98,444.67 408.19,418.1 427.3,394.8 450.6,375.69 477.17,361.48 506.01,352.73" stroke="#eaeaea" stroke-width="1.1"/>
<polygon points="536,342.46 567.42,345.55 597.63,354.72 625.47,369.6 649.87,389.63 669.9,414.03 684.78,441.87 693.95,472.08 697.04,503.5 693.95,534.92 684.78,565.13 669.9,592.97 649.87,617.37 625.47,637.4 597.63,652.28 567.42,661.45 536,664.54 504.58,661.45 474.37,652.28 446.53,637.4 422.13,617.37 402.1,592.97 387.22,565.13 378.05,534.92 374.96,503.5 378.05,472.08 387.22,441.87 402.1,414.03 422.13,389.63 446.53,369.6 474.37,354.72 504.58,345.55" stroke="#eaeaea" stroke-width="1.1"/>
<polygon points="536,335.14 568.85,338.37 600.43,347.96 629.54,363.51 655.05,384.45 675.99,409.96 691.54,439.07 701.13,470.65 704.36,503.5 701.13,536.35 691.54,567.93 675.99,597.04 655.05,622.55 629.54,643.49 600.43,659.04 568.85,668.63 536,671.86 503.15,668.63 471.57,659.04 442.46,643.49 416.95,622.55 396.01,597.04 380.46,567.93 370.87,536.35 367.64,503.5 370.87,470.65 380.46,439.07 396.01,409.96 416.95,384.45 442.46,363.51 471.57,347.96 503.15,338.37" stroke="#eaeaea" stroke-width="1.1"/>
<polygon points="536,327.82 570.27,331.2 603.23,341.19 633.6,357.43 660.22,379.28 682.07,405.9 698.31,436.27 708.3,469.23 711.68,503.5 708.3,537.77 698.31,570.73 682.07,601.1 660.22,627.72 633.6,649.57 603.23,665.81 570.27,675.8 536,679.18 501.73,675.8 468.77,665.81 438.4,649.57 411.78,627.72 389.93,601.1 373.69,570.73 363.7,537.77 360.32,503.5 363.7,469.23 373.69,436.27 389.93,405.9 411.78,379.28 438.4,357.43 468.77,341.19 501.73,331.2" stroke="#eaeaea" stroke-width="1.1"/>
<polygon points="536,313.18 573.13,316.84 608.83,327.67 641.74,345.25 670.58,368.92 694.25,397.76 711.83,430.67 722.66,466.37 726.32,503.5 722.66,540.63 711.83,576.33 694.25,609.24 670.58,638.08 641.74,661.75 608.83,679.33 573.13,690.16 536,693.82 498.87,690.16 463.17,679.33 430.26,661.75 401.42,638.08 377.75,609.24 360.17,576.33 349.34,540.63 345.68,503.5 349.34,466.37 360.17,430.67 377.75,397.76 401.42,368.92 430.26,345.25 463.17,327.67 498.87,316.84" stroke="#eaeaea" stroke-width="1.1"/>
<polygon points="536,305.86 574.56,309.66 611.63,320.9 645.8,339.17 675.75,363.75 700.33,393.7 718.6,427.87 729.84,464.94 733.64,503.5 729.84,542.06 718.6,579.13 700.33,613.3 675.75,643.25 645.8,667.83 611.63,686.1 574.56,697.34 536,701.14 497.44,697.34 460.37,686.1 426.2,667.83 396.25,643.25 371.67,613.3 353.4,579.13 342.16,542.06 338.36,503.5 342.16,464.94 353.4,427.87 371.67,393.7 396.25,363.75 426.2,339.17 460.37,320.9 497.44,309.66" stroke="#eaeaea" stroke-width="1.1"/>
<polygon points="536,298.54 575.99,302.48 614.43,314.14 649.87,333.08 680.93,358.57 706.42,389.63 725.36,425.07 737.02,463.51 740.96,503.5 737.02,543.49 725.36,581.93 706.42,617.37 680.93,648.43 649.87,673.92 614.43,692.86 575.99,704.52 536,708.46 496.01,704.52 457.57,692.86 422.13,673.92 391.07,648.43 365.58,617.37 346.64,581.93 334.98,543.49 331.04,503.5 334.98,463.51 346.64,425.07 365.58,389.63 391.07,358.57 422.13,333.08 457.57,314.14 496.01,302.48" stroke="#eaeaea" stroke-width="1.1"/>
<polygon points="536,291.22 577.41,295.3 617.24,307.38 653.94,327 686.1,353.4 712.5,385.56 732.12,422.26 744.2,462.09 748.28,503.5 744.2,544.91 732.12,584.74 712.5,621.44 686.1,653.6 653.94,680 617.24,699.62 577.41,711.7 536,715.78 494.59,711.7 454.76,699.62 418.06,680 385.9,653.6 359.5,621.44 339.88,584.74 327.8,544.91 323.72,503.5 327.8,462.09 339.88,422.26 359.5,385.56 385.9,353.4 418.06,327 454.76,307.38 494.59,295.3" stroke="#eaeaea" stroke-width="1.1"/>
<polygon points="536,276.58 580.27,280.94 622.84,293.85 662.07,314.82 696.46,343.04 724.68,377.43 745.65,416.66 758.56,459.23 762.92,503.5 758.56,547.77 745.65,590.34 724.68,629.57 696.46,663.96 662.07,692.18 622.84,713.15 580.27,726.06 536,730.42 491.73,726.06 449.16,713.15 409.93,692.18 375.54,663.96 347.32,629.57 326.35,590.34 313.44,547.77 309.08,503.5 313.44,459.23 326.35,416.66 347.32,377.43 375.54,343.04 409.93,314.82 449.16,293.85 491.73,280.94" stroke="#eaeaea" stroke-width="1.1"/>
<polygon points="536,269.26 581.7,273.76 625.64,287.09 666.14,308.74 701.63,337.87 730.76,373.36 752.41,413.86 765.74,457.8 770.24,503.5 765.74,549.2 752.41,593.14 730.76,633.64 701.63,669.13 666.14,698.26 625.64,719.91 581.7,733.24 536,737.74 490.3,733.24 446.36,719.91 405.86,698.26 370.37,669.13 341.24,633.64 319.59,593.14 306.26,549.2 301.76,503.5 306.26,457.8 319.59,413.86 341.24,373.36 370.37,337.87 405.86,308.74 446.36,287.09 490.3,273.76" stroke="#eaeaea" stroke-width="1.1"/>
<polygon points="536,261.94 583.13,266.58 628.44,280.33 670.2,302.65 706.81,332.69 736.85,369.3 759.17,411.06 772.92,456.37 777.56,503.5 772.92,550.63 759.17,595.94 736.85,637.7 706.81,674.31 670.2,704.35 628.44,726.67 583.13,740.42 536,745.06 488.87,740.42 443.56,726.67 401.8,704.35 365.19,674.31 335.15,637.7 312.83,595.94 299.08,550.63 294.44,503.5 299.08,456.37 312.83,411.06 335.15,369.3 365.19,332.69 401.8,302.65 443.56,280.33 488.87,266.58" stroke="#eaeaea" stroke-width="1.1"/>
<polygon points="536,254.62 584.55,259.4 631.24,273.56 674.27,296.56 711.98,327.52 742.94,365.23 765.94,408.26 780.1,454.95 784.88,503.5 780.1,552.05 765.94,598.74 742.94,641.77 711.98,679.48 674.27,710.44 631.24,733.44 584.55,747.6 536,752.38 487.45,747.6 440.76,733.44 397.73,710.44 360.02,679.48 329.06,641.77 306.06,598.74 291.9,552.05 287.12,503.5 291.9,454.95 306.06,408.26 329.06,365.23 360.02,327.52 397.73,296.56 440.76,273.56 487.45,259.4" stroke="#eaeaea" stroke-width="1.1"/>
<polygon points="536,239.98 587.41,245.04 636.84,260.04 682.4,284.39 722.34,317.16 755.11,357.1 779.46,402.66 794.46,452.09 799.52,503.5 794.46,554.91 779.46,604.34 755.11,649.9 722.34,689.84 682.4,722.61 636.84,746.96 587.41,761.96 536,767.02 484.59,761.96 435.16,746.96 389.6,722.61 349.66,689.84 316.89,649.9 292.54,604.34 277.54,554.91 272.48,503.5 277.54,452.09 292.54,402.66 316.89,357.1 349.66,317.16 389.6,284.39 435.16,260.04 484.59,245.04" stroke="#eaeaea" stroke-width="1.1"/>
<polygon points="536,232.66 588.84,237.86 639.65,253.28 686.47,278.3 727.51,311.99 761.2,353.03 786.22,399.85 801.64,450.66 806.84,503.5 801.64,556.34 786.22,607.15 761.2,653.97 727.51,695.01 686.47,728.7 639.65,753.72 588.84,769.14 536,774.34 483.16,769.14 432.35,753.72 385.53,728.7 344.49,695.01 310.8,653.97 285.78,607.15 270.36,556.34 265.16,503.5 270.36,450.66 285.78,399.85 310.8,353.03 344.49,311.99 385.53,278.3 432.35,253.28 483.16,237.86" stroke="#eaeaea" stroke-width="1.1"/>
<polygon points="536,225.34 590.27,230.68 642.45,246.51 690.54,272.22 732.69,306.81 767.28,348.96 792.99,397.05 808.82,449.23 814.16,503.5 808.82,557.77 792.99,609.95 767.28,658.04 732.69,700.19 690.54,734.78 642.45,760.49 590.27,776.32 536,781.66 481.73,776.32 429.55,760.49 381.46,734.78 339.31,700.19 304.72,658.04 279.01,609.95 263.18,557.77 257.84,503.5 263.18,449.23 279.01,397.05 304.72,348.96 339.31,306.81 381.46,272.22 429.55,246.51 481.73,230.68" stroke="#eaeaea" stroke-width="1.1"/>
<polygon points="536,218.02 591.69,223.51 645.25,239.75 694.6,266.13 737.86,301.64 773.37,344.9 799.75,394.25 815.99,447.81 821.48,503.5 815.99,559.19 799.75,612.75 773.37,662.1 737.86,705.36 694.6,740.87 645.25,767.25 591.69,783.49 536,788.98 480.31,783.49 426.75,767.25 377.4,740.87 334.14,705.36 298.63,662.1 272.25,612.75 256.01,559.19 250.52,503.5 256.01,447.81 272.25,394.25 298.63,344.9 334.14,301.64 377.4,266.13 426.75,239.75 480.31,223.51" stroke="#eaeaea" stroke-width="1.1"/>
<polygon points="536,203.38 594.55,209.15 650.85,226.23 702.74,253.96 748.22,291.28 785.54,336.76 813.27,388.65 830.35,444.95 836.12,503.5 830.35,562.05 813.27,618.35 785.54,670.24 748.22,715.72 702.74,753.04 650.85,780.77 594.55,797.85 536,803.62 477.45,797.85 421.15,780.77 369.26,753.04 323.78,715.72 286.46,670.24 258.73,618.35 241.65,562.05 235.88,503.5 241.65,444.95 258.73,388.65 286.46,336.76 323.78,291.28 369.26,253.96 421.15,226.23 477.45,209.15" stroke="#eaeaea" stroke-width="1.1"/>
<polygon points="536,196.06 595.98,201.97 653.65,219.46 706.8,247.87 753.39,286.11 791.63,332.7 820.04,385.85 837.53,443.52 843.44,503.5 837.53,563.48 820.04,621.15 791.63,674.3 753.39,720.89 706.8,759.13 653.65,787.54 595.98,805.03 536,810.94 476.02,805.03 418.35,787.54 365.2,759.13 318.61,720.89 280.37,674.3 251.96,621.15 234.47,563.48 228.56,503.5 234.47,443.52 251.96,385.85 280.37,332.7 318.61,286.11 365.2,247.87 418.35,219.46 476.02,201.97" stroke="#eaeaea" stroke-width="1.1"/>
<polygon points="536,188.74 597.41,194.79 656.45,212.7 710.87,241.79 758.57,280.93 797.71,328.63 826.8,383.05 844.71,442.09 850.76,503.5 844.71,564.91 826.8,623.95 797.71,678.37 758.57,726.07 710.87,765.21 656.45,794.3 597.41,812.21 536,818.26 474.59,812.21 415.55,794.3 361.13,765.21 313.43,726.07 274.29,678.37 245.2,623.95 227.29,564.91 221.24,503.5 227.29,442.09 245.2,383.05 274.29,328.63 313.43,280.93 361.13,241.79 415.55,212.7 474.59,194.79" stroke="#eaeaea" stroke-width="1.1"/>
<polygon points="536,181.42 598.83,187.61 659.25,205.94 714.94,235.7 763.74,275.76 803.8,324.56 833.56,380.25 851.89,440.67 858.08,503.5 851.89,566.33 833.56,626.75 803.8,682.44 763.74,731.24 714.94,771.3 659.25,801.06 598.83,819.39 536,825.58 473.17,819.39 412.75,801.06 357.06,771.3 308.26,731.24 268.2,682.44 238.44,626.75 220.11,566.33 213.92,503.5 220.11,440.67 238.44,380.25 268.2,324.56 308.26,275.76 357.06,235.7 412.75,205.94 473.17,187.61" stroke="#eaeaea" stroke-width="1.1"/>
<polygon points="536,166.78 601.69,173.25 664.86,192.41 723.07,223.53 774.1,265.4 815.97,316.43 847.09,374.64 866.25,437.81 872.72,503.5 866.25,569.19 847.09,632.36 815.97,690.57 774.1,741.6 723.07,783.47 664.86,814.59 601.69,833.75 536,840.22 470.31,833.75 407.14,814.59 348.93,783.47 297.9,741.6 256.03,690.57 224.91,632.36 205.75,569.19 199.28,503.5 205.75,437.81 224.91,374.64 256.03,316.43 297.9,265.4 348.93,223.53 407.14,192.41 470.31,173.25" stroke="#eaeaea" stroke-width="1.1"/>
<polygon points="536,159.46 603.12,166.07 667.66,185.65 727.14,217.44 779.27,260.23 822.06,312.36 853.85,371.84 873.43,436.38 880.04,503.5 873.43,570.62 853.85,635.16 822.06,694.64 779.27,746.77 727.14,789.56 667.66,821.35 603.12,840.93 536,847.54 468.88,840.93 404.34,821.35 344.86,789.56 292.73,746.77 249.94,694.64 218.15,635.16 198.57,570.62 191.96,503.5 198.57,436.38 218.15,371.84 249.94,312.36 292.73,260.23 344.86,217.44 404.34,185.65 468.88,166.07" stroke="#eaeaea" stroke-width="1.1"/>
<polygon points="536,152.14 604.55,158.89 670.46,178.89 731.21,211.35 784.45,255.05 828.15,308.29 860.61,369.04 880.61,434.95 887.36,503.5 880.61,572.05 860.61,637.96 828.15,698.71 784.45,751.95 731.21,795.65 670.46,828.11 604.55,848.11 536,854.86 467.45,848.11 401.54,828.11 340.79,795.65 287.55,751.95 243.85,698.71 211.39,637.96 191.39,572.05 184.64,503.5 191.39,434.95 211.39,369.04 243.85,308.29 287.55,255.05 340.79,211.35 401.54,178.89 467.45,158.89" stroke="#eaeaea" stroke-width="1.1"/>
<polygon points="536,144.82 605.97,151.71 673.26,172.12 735.27,205.27 789.63,249.87 834.23,304.23 867.38,366.24 887.79,433.53 894.68,503.5 887.79,573.47 867.38,640.76 834.23,702.77 789.63,757.13 735.27,801.73 673.26,834.88 605.97,855.29 536,862.18 466.03,855.29 398.74,834.88 336.73,801.73 282.37,757.13 237.77,702.77 204.62,640.76 184.21,573.47 177.32,503.5 184.21,433.53 204.62,366.24 237.77,304.23 282.37,249.87 336.73,205.27 398.74,172.12 466.03,151.71" stroke="#eaeaea" stroke-width="1.1"/>
</g>
<g fill="none">
<polygon points="536,466.9 543.14,467.6 550.01,469.69 556.33,473.07 561.88,477.62 566.43,483.17 569.81,489.49 571.9,496.36 572.6,503.5 571.9,510.64 569.81,517.51 566.43,523.83 561.88,529.38 556.33,533.93 550.01,537.31 543.14,539.4 536,540.1 528.86,539.4 521.99,537.31 515.67,533.93 510.12,529.38 505.57,523.83 502.19,517.51 500.1,510.64 499.4,503.5 500.1,496.36 502.19,489.49 505.57,483.17 510.12,477.62 515.67,473.07 521.99,469.69 528.86,467.6" stroke="#d2d2d2" stroke-width="1.6"/>
<polygon points="536,430.3 550.28,431.71 564.01,435.87 576.67,442.64 587.76,451.74 596.86,462.83 603.63,475.49 607.79,489.22 609.2,503.5 607.79,517.78 603.63,531.51 596.86,544.17 587.76,555.26 576.67,564.36 564.01,571.13 550.28,575.29 536,576.7 521.72,575.29 507.99,571.13 495.33,564.36 484.24,555.26 475.14,544.17 468.37,531.51 464.21,517.78 462.8,503.5 464.21,489.22 468.37,475.49 475.14,462.83 484.24,451.74 495.33,442.64 507.99,435.87 521.72,431.71" stroke="#d2d2d2" stroke-width="1.6"/>
<polygon points="536,393.7 557.42,395.81 578.02,402.06 597,412.2 613.64,425.86 627.3,442.5 637.44,461.48 643.69,482.08 645.8,503.5 643.69,524.92 637.44,545.52 627.3,564.5 613.64,581.14 597,594.8 578.02,604.94 557.42,611.19 536,613.3 514.58,611.19 493.98,604.94 475,594.8 458.36,581.14 444.7,564.5 434.56,545.52 428.31,524.92 426.2,503.5 428.31,482.08 434.56,461.48 444.7,442.5 458.36,425.86 475,412.2 493.98,402.06 514.58,395.81" stroke="#d2d2d2" stroke-width="1.6"/>
<polygon points="536,357.1 564.56,359.91 592.02,368.24 617.34,381.77 639.52,399.98 657.73,422.16 671.26,447.48 679.59,474.94 682.4,503.5 679.59,532.06 671.26,559.52 657.73,584.84 639.52,607.02 617.34,625.23 592.02,638.76 564.56,647.09 536,649.9 507.44,647.09 479.98,638.76 454.66,625.23 432.48,607.02 414.27,584.84 400.74,559.52 392.41,532.06 389.6,503.5 392.41,474.94 400.74,447.48 414.27,422.16 432.48,399.98 454.66,381.77 479.98,368.24 507.44,359.91" stroke="#d2d2d2" stroke-width="1.6"/>
<polygon points="536,320.5 571.7,324.02 606.03,334.43 637.67,351.34 665.4,374.1 688.16,401.83 705.07,433.47 715.48,467.8 719,503.5 715.48,539.2 705.07,573.53 688.16,605.17 665.4,632.9 637.67,655.66 606.03,672.57 571.7,682.98 536,686.5 500.3,682.98 465.97,672.57 434.33,655.66 406.6,632.9 383.84,605.17 366.93,573.53 356.52,539.2 353,503.5 356.52,467.8 366.93,433.47 383.84,401.83 406.6,374.1 434.33,351.34 465.97,334.43 500.3,324.02" stroke="#d2d2d2" stroke-width="1.6"/>
<polygon points="536,283.9 578.84,288.12 620.04,300.62 658,320.91 691.28,348.22 718.59,381.5 738.88,419.46 751.38,460.66 755.6,503.5 751.38,546.34 738.88,587.54 718.59,625.5 691.28,658.78 658,686.09 620.04,706.38 578.84,718.88 536,723.1 493.16,718.88 451.96,706.38 414,686.09 380.72,658.78 353.41,625.5 333.12,587.54 320.62,546.34 316.4,503.5 320.62,460.66 333.12,419.46 353.41,381.5 380.72,348.22 414,320.91 451.96,300.62 493.16,288.12" stroke="#d2d2d2" stroke-width="1.6"/>
<polygon points="536,247.3 585.98,252.22 634.04,266.8 678.34,290.48 717.16,322.34 749.02,361.16 772.7,405.46 787.28,453.52 792.2,503.5 787.28,553.48 772.7,601.54 749.02,645.84 717.16,684.66 678.34,716.52 634.04,740.2 585.98,754.78 536,759.7 486.02,754.78 437.96,740.2 393.66,716.52 354.84,684.66 322.98,645.84 299.3,601.54 284.72,553.48 279.8,503.5 284.72,453.52 299.3,405.46 322.98,361.16 354.84,322.34 393.66,290.48 437.96,266.8 486.02,252.22" stroke="#d2d2d2" stroke-width="1.6"/>
<polygon points="536,210.7 593.12,216.33 648.05,232.99 698.67,260.05 743.04,296.46 779.45,340.83 806.51,391.45 823.17,446.38 828.8,503.5 823.17,560.62 806.51,615.55 779.45,666.17 743.04,710.54 698.67,746.95 648.05,774.01 593.12,790.67 536,796.3 478.88,790.67 423.95,774.01 373.33,746.95 328.96,710.54 292.55,666.17 265.49,615.55 248.83,560.62 243.2,503.5 248.83,446.38 265.49,391.45 292.55,340.83 328.96,296.46 373.33,260.05 423.95,232.99 478.88,216.33" stroke="#d2d2d2" stroke-width="1.6"/>
<polygon points="536,174.1 600.26,180.43 662.06,199.17 719,229.61 768.92,270.58 809.89,320.5 840.33,377.44 859.07,439.24 865.4,503.5 859.07,567.76 840.33,629.56 809.89,686.5 768.92,736.42 719,777.39 662.06,807.83 600.26,826.57 536,832.9 471.74,826.57 409.94,807.83 353,777.39 303.08,736.42 262.11,686.5 231.67,629.56 212.93,567.76 206.6,503.5 212.93,439.24 231.67,377.44 262.11,320.5 303.08,270.58 353,229.61 409.94,199.17 471.74,180.43" stroke="#d2d2d2" stroke-width="1.6"/>
<polygon points="536,137.5 607.4,144.53 676.06,165.36 739.34,199.18 794.8,244.7 840.32,300.16 874.14,363.44 894.97,432.1 902,503.5 894.97,574.9 874.14,643.56 840.32,706.84 794.8,762.3 739.34,807.82 676.06,841.64 607.4,862.47 536,869.5 464.6,862.47 395.94,841.64 332.66,807.82 277.2,762.3 231.68,706.84 197.86,643.56 177.03,574.9 170,503.5 177.03,432.1 197.86,363.44 231.68,300.16 277.2,244.7 332.66,199.18 395.94,165.36 464.6,144.53" stroke="#d2d2d2" stroke-width="1.6"/>
</g>
<text x="535.8" y="123.1" text-anchor="middle" font-size="19.1">aesdd</text>
<text x="609" y="129.8" text-anchor="middle" font-size="19.1">ased</text>
<text x="715" y="150.8" text-anchor="middle" font-size="19.1">asvpesd</text>
<text x="763.1" y="185.7" text-anchor="middle" font-size="19.1">cafe</text>
<text x="824.4" y="232.7" text-anchor="middle" font-size="19.1">casia</text>
<text x="881.1" y="289.1" text-anchor="middle" font-size="19.1">cremad</text>
<text x="907" y="367" text-anchor="middle" font-size="19.1">emns</text>
<text x="935" y="437.5" text-anchor="middle" font-size="19.1">emodb</text>
<text x="947" y="510.8" text-anchor="middle" font-size="19.1">emovdb</text>
<text x="934.1" y="584.5" text-anchor="middle" font-size="19.1">emovo</text>
<text x="952.8" y="666.6" text-anchor="middle" font-size="19.1">emozionalmente</text>
<text x="889" y="731.3" text-anchor="middle" font-size="19.1">enterface</text>
<text x="817.4" y="788.4" text-anchor="middle" font-size="19.1">esd</text>
<text x="781.5" y="836.4" text-anchor="middle" font-size="19.1">iemocap</text>
<text x="680" y="871.2" text-anchor="middle" font-size="19.1">jlcorpus</text>
<text x="609.3" y="892.5" text-anchor="middle" font-size="19.1">m3ed</text>
<text x="535.9" y="899.1" text-anchor="middle" font-size="19.1">mead</text>
<text x="462.2" y="892.5" text-anchor="middle" font-size="19.1">meld</text>
<text x="354.1" y="870.6" text-anchor="middle" font-size="19.1">mer2023</text>
<text x="302.8" y="835.4" text-anchor="middle" font-size="19.1">mesd</text>
<text x="216.7" y="789" text-anchor="middle" font-size="19.1">msppodcast</text>
<text x="198.2" y="731.4" text-anchor="middle" font-size="19.1">oreau</text>
<text x="151.1" y="655.3" text-anchor="middle" font-size="19.1">pavoque</text>
<text x="140.8" y="584.6" text-anchor="middle" font-size="19.1">polish</text>
<text x="126" y="510.8" text-anchor="middle" font-size="19.1">ravdess</text>
<text x="147.2" y="436.8" text-anchor="middle" font-size="19.1">resd</text>
<text x="163" y="354.6" text-anchor="middle" font-size="19.1">savee</text>
<text x="193.6" y="290.2" text-anchor="middle" font-size="19.1">shemo</text>
<text x="233.4" y="233.1" text-anchor="middle" font-size="19.1">subesco</text>
<text x="308.8" y="186.4" text-anchor="middle" font-size="19.1">tess</text>
<text x="391.1" y="150.3" text-anchor="middle" font-size="19.1">turevdb</text>
<text x="462.1" y="129.8" text-anchor="middle" font-size="19.1">urdu</text>
<polygon points="536,243.93 569.08,337.19 605.15,336.56 657.19,322.13 650.05,389.45 702.55,392.21 728.77,423.65 825.69,445.88 756.41,503.5 686.05,533.35 716.43,578.24 836.94,704.58 669.2,636.7 619.45,628.39 554.63,548.47 557.34,610.8 536,620.91 519.03,588.79 494.49,603.72 432.85,657.88 483.64,555.86 432.29,572.8 472.06,529.99 390.44,532.45 316.91,503.5 394.78,475.41 321.96,414.84 419.02,425.34 381.39,348.89 401.35,301.98 473.25,352.01 503.83,341.75" fill="none" stroke="#5b9bd5" stroke-width="4.7" stroke-linejoin="round"/>
<circle cx="536" cy="243.93" r="6.1" fill="#5b9bd5"/>
<circle cx="569.08" cy="337.19" r="6.1" fill="#5b9bd5"/>
<circle cx="605.15" cy="336.56" r="6.1" fill="#5b9bd5"/>
<circle cx="657.19" cy="322.13" r="6.1" fill="#5b9bd5"/>
<circle cx="650.05" cy="389.45" r="6.1" fill="#5b9bd5"/>
<circle cx="702.55" cy="392.21" r="6.1" fill="#5b9bd5"/>
<circle cx="728.77" cy="423.65" r="6.1" fill="#5b9bd5"/>
<circle cx="825.69" cy="445.88" r="6.1" fill="#5b9bd5"/>
<circle cx="756.41" cy="503.5" r="6.1" fill="#5b9bd5"/>
<circle cx="686.05" cy="533.35" r="6.1" fill="#5b9bd5"/>
<circle cx="716.43" cy="578.24" r="6.1" fill="#5b9bd5"/>
<circle cx="836.94" cy="704.58" r="6.1" fill="#5b9bd5"/>
<circle cx="669.2" cy="636.7" r="6.1" fill="#5b9bd5"/>
<circle cx="619.45" cy="628.39" r="6.1" fill="#5b9bd5"/>
<circle cx="554.63" cy="548.47" r="6.1" fill="#5b9bd5"/>
<circle cx="557.34" cy="610.8" r="6.1" fill="#5b9bd5"/>
<circle cx="536" cy="620.91" r="6.1" fill="#5b9bd5"/>
<circle cx="519.03" cy="588.79" r="6.1" fill="#5b9bd5"/>
<circle cx="494.49" cy="603.72" r="6.1" fill="#5b9bd5"/>
<circle cx="432.85" cy="657.88" r="6.1" fill="#5b9bd5"/>
<circle cx="483.64" cy="555.86" r="6.1" fill="#5b9bd5"/>
<circle cx="432.29" cy="572.8" r="6.1" fill="#5b9bd5"/>
<circle cx="472.06" cy="529.99" r="6.1" fill="#5b9bd5"/>
<circle cx="390.44" cy="532.45" r="6.1" fill="#5b9bd5"/>
<circle cx="316.91" cy="503.5" r="6.1" fill="#5b9bd5"/>
<circle cx="394.78" cy="475.41" r="6.1" fill="#5b9bd5"/>
<circle cx="321.96" cy="414.84" r="6.1" fill="#5b9bd5"/>
<circle cx="419.02" cy="425.34" r="6.1" fill="#5b9bd5"/>
<circle cx="381.39" cy="348.89" r="6.1" fill="#5b9bd5"/>
<circle cx="401.35" cy="301.98" r="6.1" fill="#5b9bd5"/>
<circle cx="473.25" cy="352.01" r="6.1" fill="#5b9bd5"/>
<circle cx="503.83" cy="341.75" r="6.1" fill="#5b9bd5"/>
<polygon points="536,316.51 563.3,366.23 584.53,386.33 608.61,394.83 593.3,446.2 785.57,336.74 598.18,477.74 698.25,471.23 711.72,503.5 637.48,523.69 669.77,558.91 836.94,704.58 616.2,583.7 632.91,648.54 550.09,537.52 551.66,582.22 536,591.19 522.58,570.99 495.56,601.12 471.07,600.67 488.41,551.09 451.92,559.68 483.86,525.1 443.85,521.83 350.91,503.5 386.53,473.77 466.24,474.61 449.57,445.75 417.39,384.89 479.88,419.51 478.74,365.27 509.68,371.18" fill="none" stroke="#ed7d31" stroke-width="4.7" stroke-linejoin="round"/>
<circle cx="536" cy="316.51" r="6.1" fill="#ed7d31"/>
<circle cx="563.3" cy="366.23" r="6.1" fill="#ed7d31"/>
<circle cx="584.53" cy="386.33" r="6.1" fill="#ed7d31"/>
<circle cx="608.61" cy="394.83" r="6.1" fill="#ed7d31"/>
<circle cx="593.3" cy="446.2" r="6.1" fill="#ed7d31"/>
<circle cx="785.57" cy="336.74" r="6.1" fill="#ed7d31"/>
<circle cx="598.18" cy="477.74" r="6.1" fill="#ed7d31"/>
<circle cx="698.25" cy="471.23" r="6.1" fill="#ed7d31"/>
<circle cx="711.72" cy="503.5" r="6.1" fill="#ed7d31"/>
<circle cx="637.48" cy="523.69" r="6.1" fill="#ed7d31"/>
<circle cx="669.77" cy="558.91" r="6.1" fill="#ed7d31"/>
<circle cx="836.94" cy="704.58" r="6.1" fill="#ed7d31"/>
<circle cx="616.2" cy="583.7" r="6.1" fill="#ed7d31"/>
<circle cx="632.91" cy="648.54" r="6.1" fill="#ed7d31"/>
<circle cx="550.09" cy="537.52" r="6.1" fill="#ed7d31"/>
<circle cx="551.66" cy="582.22" r="6.1" fill="#ed7d31"/>
<circle cx="536" cy="591.19" r="6.1" fill="#ed7d31"/>
<circle cx="522.58" cy="570.99" r="6.1" fill="#ed7d31"/>
<circle cx="495.56" cy="601.12" r="6.1" fill="#ed7d31"/>
<circle cx="471.07" cy="600.67" r="6.1" fill="#ed7d31"/>
<circle cx="488.41" cy="551.09" r="6.1" fill="#ed7d31"/>
<circle cx="451.92" cy="559.68" r="6.1" fill="#ed7d31"/>
<circle cx="483.86" cy="525.1" r="6.1" fill="#ed7d31"/>
<circle cx="443.85" cy="521.83" r="6.1" fill="#ed7d31"/>
<circle cx="350.91" cy="503.5" r="6.1" fill="#ed7d31"/>
<circle cx="386.53" cy="473.77" r="6.1" fill="#ed7d31"/>
<circle cx="466.24" cy="474.61" r="6.1" fill="#ed7d31"/>
<circle cx="449.57" cy="445.75" r="6.1" fill="#ed7d31"/>
<circle cx="417.39" cy="384.89" r="6.1" fill="#ed7d31"/>
<circle cx="479.88" cy="419.51" r="6.1" fill="#ed7d31"/>
<circle cx="478.74" cy="365.27" r="6.1" fill="#ed7d31"/>
<circle cx="509.68" cy="371.18" r="6.1" fill="#ed7d31"/>
<polygon points="536,363.61 578.58,289.41 590.81,371.19 639.91,347.99 660.2,379.3 688.71,401.46 631.69,463.86 756.37,459.67 837,503.5 721.87,540.47 683.97,564.79 836.94,704.58 639,606.5 722.36,782.41 560.22,561.96 566.55,657.07 536,639.62 499.7,686 474.83,651.17 444.46,640.5 390.06,649.44 421.97,579.69 391.24,563.46 432.65,524.06 436.89,503.5 363.3,469.15 329.16,417.82 383.42,401.55 394.2,361.7 421.7,332.44 501.22,419.54 505.01,347.71" fill="none" stroke="#a5a5a5" stroke-width="4.7" stroke-linejoin="round"/>
<circle cx="536" cy="363.61" r="6.1" fill="#a5a5a5"/>
<circle cx="578.58" cy="289.41" r="6.1" fill="#a5a5a5"/>
<circle cx="590.81" cy="371.19" r="6.1" fill="#a5a5a5"/>
<circle cx="639.91" cy="347.99" r="6.1" fill="#a5a5a5"/>
<circle cx="660.2" cy="379.3" r="6.1" fill="#a5a5a5"/>
<circle cx="688.71" cy="401.46" r="6.1" fill="#a5a5a5"/>
<circle cx="631.69" cy="463.86" r="6.1" fill="#a5a5a5"/>
<circle cx="756.37" cy="459.67" r="6.1" fill="#a5a5a5"/>
<circle cx="837" cy="503.5" r="6.1" fill="#a5a5a5"/>
<circle cx="721.87" cy="540.47" r="6.1" fill="#a5a5a5"/>
<circle cx="683.97" cy="564.79" r="6.1" fill="#a5a5a5"/>
<circle cx="836.94" cy="704.58" r="6.1" fill="#a5a5a5"/>
<circle cx="639" cy="606.5" r="6.1" fill="#a5a5a5"/>
<circle cx="722.36" cy="782.41" r="6.1" fill="#a5a5a5"/>
<circle cx="560.22" cy="561.96" r="6.1" fill="#a5a5a5"/>
<circle cx="566.55" cy="657.07" r="6.1" fill="#a5a5a5"/>
<circle cx="536" cy="639.62" r="6.1" fill="#a5a5a5"/>
<circle cx="499.7" cy="686" r="6.1" fill="#a5a5a5"/>
<circle cx="474.83" cy="651.17" r="6.1" fill="#a5a5a5"/>
<circle cx="444.46" cy="640.5" r="6.1" fill="#a5a5a5"/>
<circle cx="390.06" cy="649.44" r="6.1" fill="#a5a5a5"/>
<circle cx="421.97" cy="579.69" r="6.1" fill="#a5a5a5"/>
<circle cx="391.24" cy="563.46" r="6.1" fill="#a5a5a5"/>
<circle cx="432.65" cy="524.06" r="6.1" fill="#a5a5a5"/>
<circle cx="436.89" cy="503.5" r="6.1" fill="#a5a5a5"/>
<circle cx="363.3" cy="469.15" r="6.1" fill="#a5a5a5"/>
<circle cx="329.16" cy="417.82" r="6.1" fill="#a5a5a5"/>
<circle cx="383.42" cy="401.55" r="6.1" fill="#a5a5a5"/>
<circle cx="394.2" cy="361.7" r="6.1" fill="#a5a5a5"/>
<circle cx="421.7" cy="332.44" r="6.1" fill="#a5a5a5"/>
<circle cx="501.22" cy="419.54" r="6.1" fill="#a5a5a5"/>
<circle cx="505.01" cy="347.71" r="6.1" fill="#a5a5a5"/>
<polygon points="536,164.58 605.04,156.41 648.48,231.94 722.89,223.8 733.49,306.01 804.9,323.83 847.43,374.5 889.37,433.21 899.18,503.5 859.21,567.79 837.01,628.18 836.94,704.58 761.39,728.89 672.85,708.31 625.86,720.45 578.2,715.65 536,839.31 494.9,710.12 446.44,719.71 403.52,701.76 347.1,692.4 302.71,659.38 205.74,640.3 335.73,543.34 228.41,503.5 286.12,453.8 197.29,363.2 259.53,318.77 320.39,287.89 332.62,199.12 437.37,265.38 479.53,219.59" fill="none" stroke="#70ad47" stroke-width="4.7" stroke-linejoin="round"/>
<circle cx="536" cy="164.58" r="6.1" fill="#70ad47"/>
<circle cx="605.04" cy="156.41" r="6.1" fill="#70ad47"/>
<circle cx="648.48" cy="231.94" r="6.1" fill="#70ad47"/>
<circle cx="722.89" cy="223.8" r="6.1" fill="#70ad47"/>
<circle cx="733.49" cy="306.01" r="6.1" fill="#70ad47"/>
<circle cx="804.9" cy="323.83" r="6.1" fill="#70ad47"/>
<circle cx="847.43" cy="374.5" r="6.1" fill="#70ad47"/>
<circle cx="889.37" cy="433.21" r="6.1" fill="#70ad47"/>
<circle cx="899.18" cy="503.5" r="6.1" fill="#70ad47"/>
<circle cx="859.21" cy="567.79" r="6.1" fill="#70ad47"/>
<circle cx="837.01" cy="628.18" r="6.1" fill="#70ad47"/>
<circle cx="836.94" cy="704.58" r="6.1" fill="#70ad47"/>
<circle cx="761.39" cy="728.89" r="6.1" fill="#70ad47"/>
<circle cx="672.85" cy="708.31" r="6.1" fill="#70ad47"/>
<circle cx="625.86" cy="720.45" r="6.1" fill="#70ad47"/>
<circle cx="578.2" cy="715.65" r="6.1" fill="#70ad47"/>
<circle cx="536" cy="839.31" r="6.1" fill="#70ad47"/>
<circle cx="494.9" cy="710.12" r="6.1" fill="#70ad47"/>
<circle cx="446.44" cy="719.71" r="6.1" fill="#70ad47"/>
<circle cx="403.52" cy="701.76" r="6.1" fill="#70ad47"/>
<circle cx="347.1" cy="692.4" r="6.1" fill="#70ad47"/>
<circle cx="302.71" cy="659.38" r="6.1" fill="#70ad47"/>
<circle cx="205.74" cy="640.3" r="6.1" fill="#70ad47"/>
<circle cx="335.73" cy="543.34" r="6.1" fill="#70ad47"/>
<circle cx="228.41" cy="503.5" r="6.1" fill="#70ad47"/>
<circle cx="286.12" cy="453.8" r="6.1" fill="#70ad47"/>
<circle cx="197.29" cy="363.2" r="6.1" fill="#70ad47"/>
<circle cx="259.53" cy="318.77" r="6.1" fill="#70ad47"/>
<circle cx="320.39" cy="287.89" r="6.1" fill="#70ad47"/>
<circle cx="332.62" cy="199.12" r="6.1" fill="#70ad47"/>
<circle cx="437.37" cy="265.38" r="6.1" fill="#70ad47"/>
<circle cx="479.53" cy="219.59" r="6.1" fill="#70ad47"/>
<text x="523" y="510.3" text-anchor="end" font-size="19.1">0</text>
<text x="523" y="473.7" text-anchor="end" font-size="19.1">0.1</text>
<text x="523" y="437.1" text-anchor="end" font-size="19.1">0.2</text>
<text x="523" y="400.5" text-anchor="end" font-size="19.1">0.3</text>
<text x="523" y="363.9" text-anchor="end" font-size="19.1">0.4</text>
<text x="523" y="327.3" text-anchor="end" font-size="19.1">0.5</text>
<text x="523" y="290.7" text-anchor="end" font-size="19.1">0.6</text>
<text x="523" y="254.1" text-anchor="end" font-size="19.1">0.7</text>
<text x="523" y="217.5" text-anchor="end" font-size="19.1">0.8</text>
<text x="523" y="180.9" text-anchor="end" font-size="19.1">0.9</text>
<text x="523" y="144.3" text-anchor="end" font-size="19.1">1</text>
<text x="535.7" y="45.2" text-anchor="middle" font-size="29.7">Accuracy on 4-class primary emotions</text>
<text x="535.7" y="78.8" text-anchor="middle" font-size="29.7" textLength="696.5">compared with top downloaded hugging face models</text>
<line x1="72.5" y1="932.7" x2="113.7" y2="932.7" stroke="#5b9bd5" stroke-width="4.7" stroke-linecap="round"/>
<circle cx="93.1" cy="932.7" r="6.1" fill="#5b9bd5"/>
<text x="121.5" y="939.2" font-size="19" textLength="413.5">wav2vec2-lg-xlsr-en-speech-emotion-recognition</text>
<line x1="545.3" y1="932.7" x2="586.5" y2="932.7" stroke="#ed7d31" stroke-width="4.7" stroke-linecap="round"/>
<circle cx="565.9" cy="932.7" r="6.1" fill="#ed7d31"/>
<text x="593.5" y="939.2" font-size="19" textLength="392.2">wav2vec2-base-Speech_Emotion_Recognition</text>
<line x1="72.5" y1="960.7" x2="113.7" y2="960.7" stroke="#a5a5a5" stroke-width="4.7" stroke-linecap="round"/>
<circle cx="93.1" cy="960.7" r="6.1" fill="#a5a5a5"/>
<text x="121.5" y="967.2" font-size="19">emotion-recognition-wav2vec2-IEMOCAP</text>
<line x1="545.3" y1="960.7" x2="586.5" y2="960.7" stroke="#70ad47" stroke-width="4.7" stroke-linecap="round"/>
<circle cx="565.9" cy="960.7" r="6.1" fill="#70ad47"/>
<text x="593.5" y="967.2" font-size="19" textLength="165">emotion2vec+ large</text>
</svg></body></html>
